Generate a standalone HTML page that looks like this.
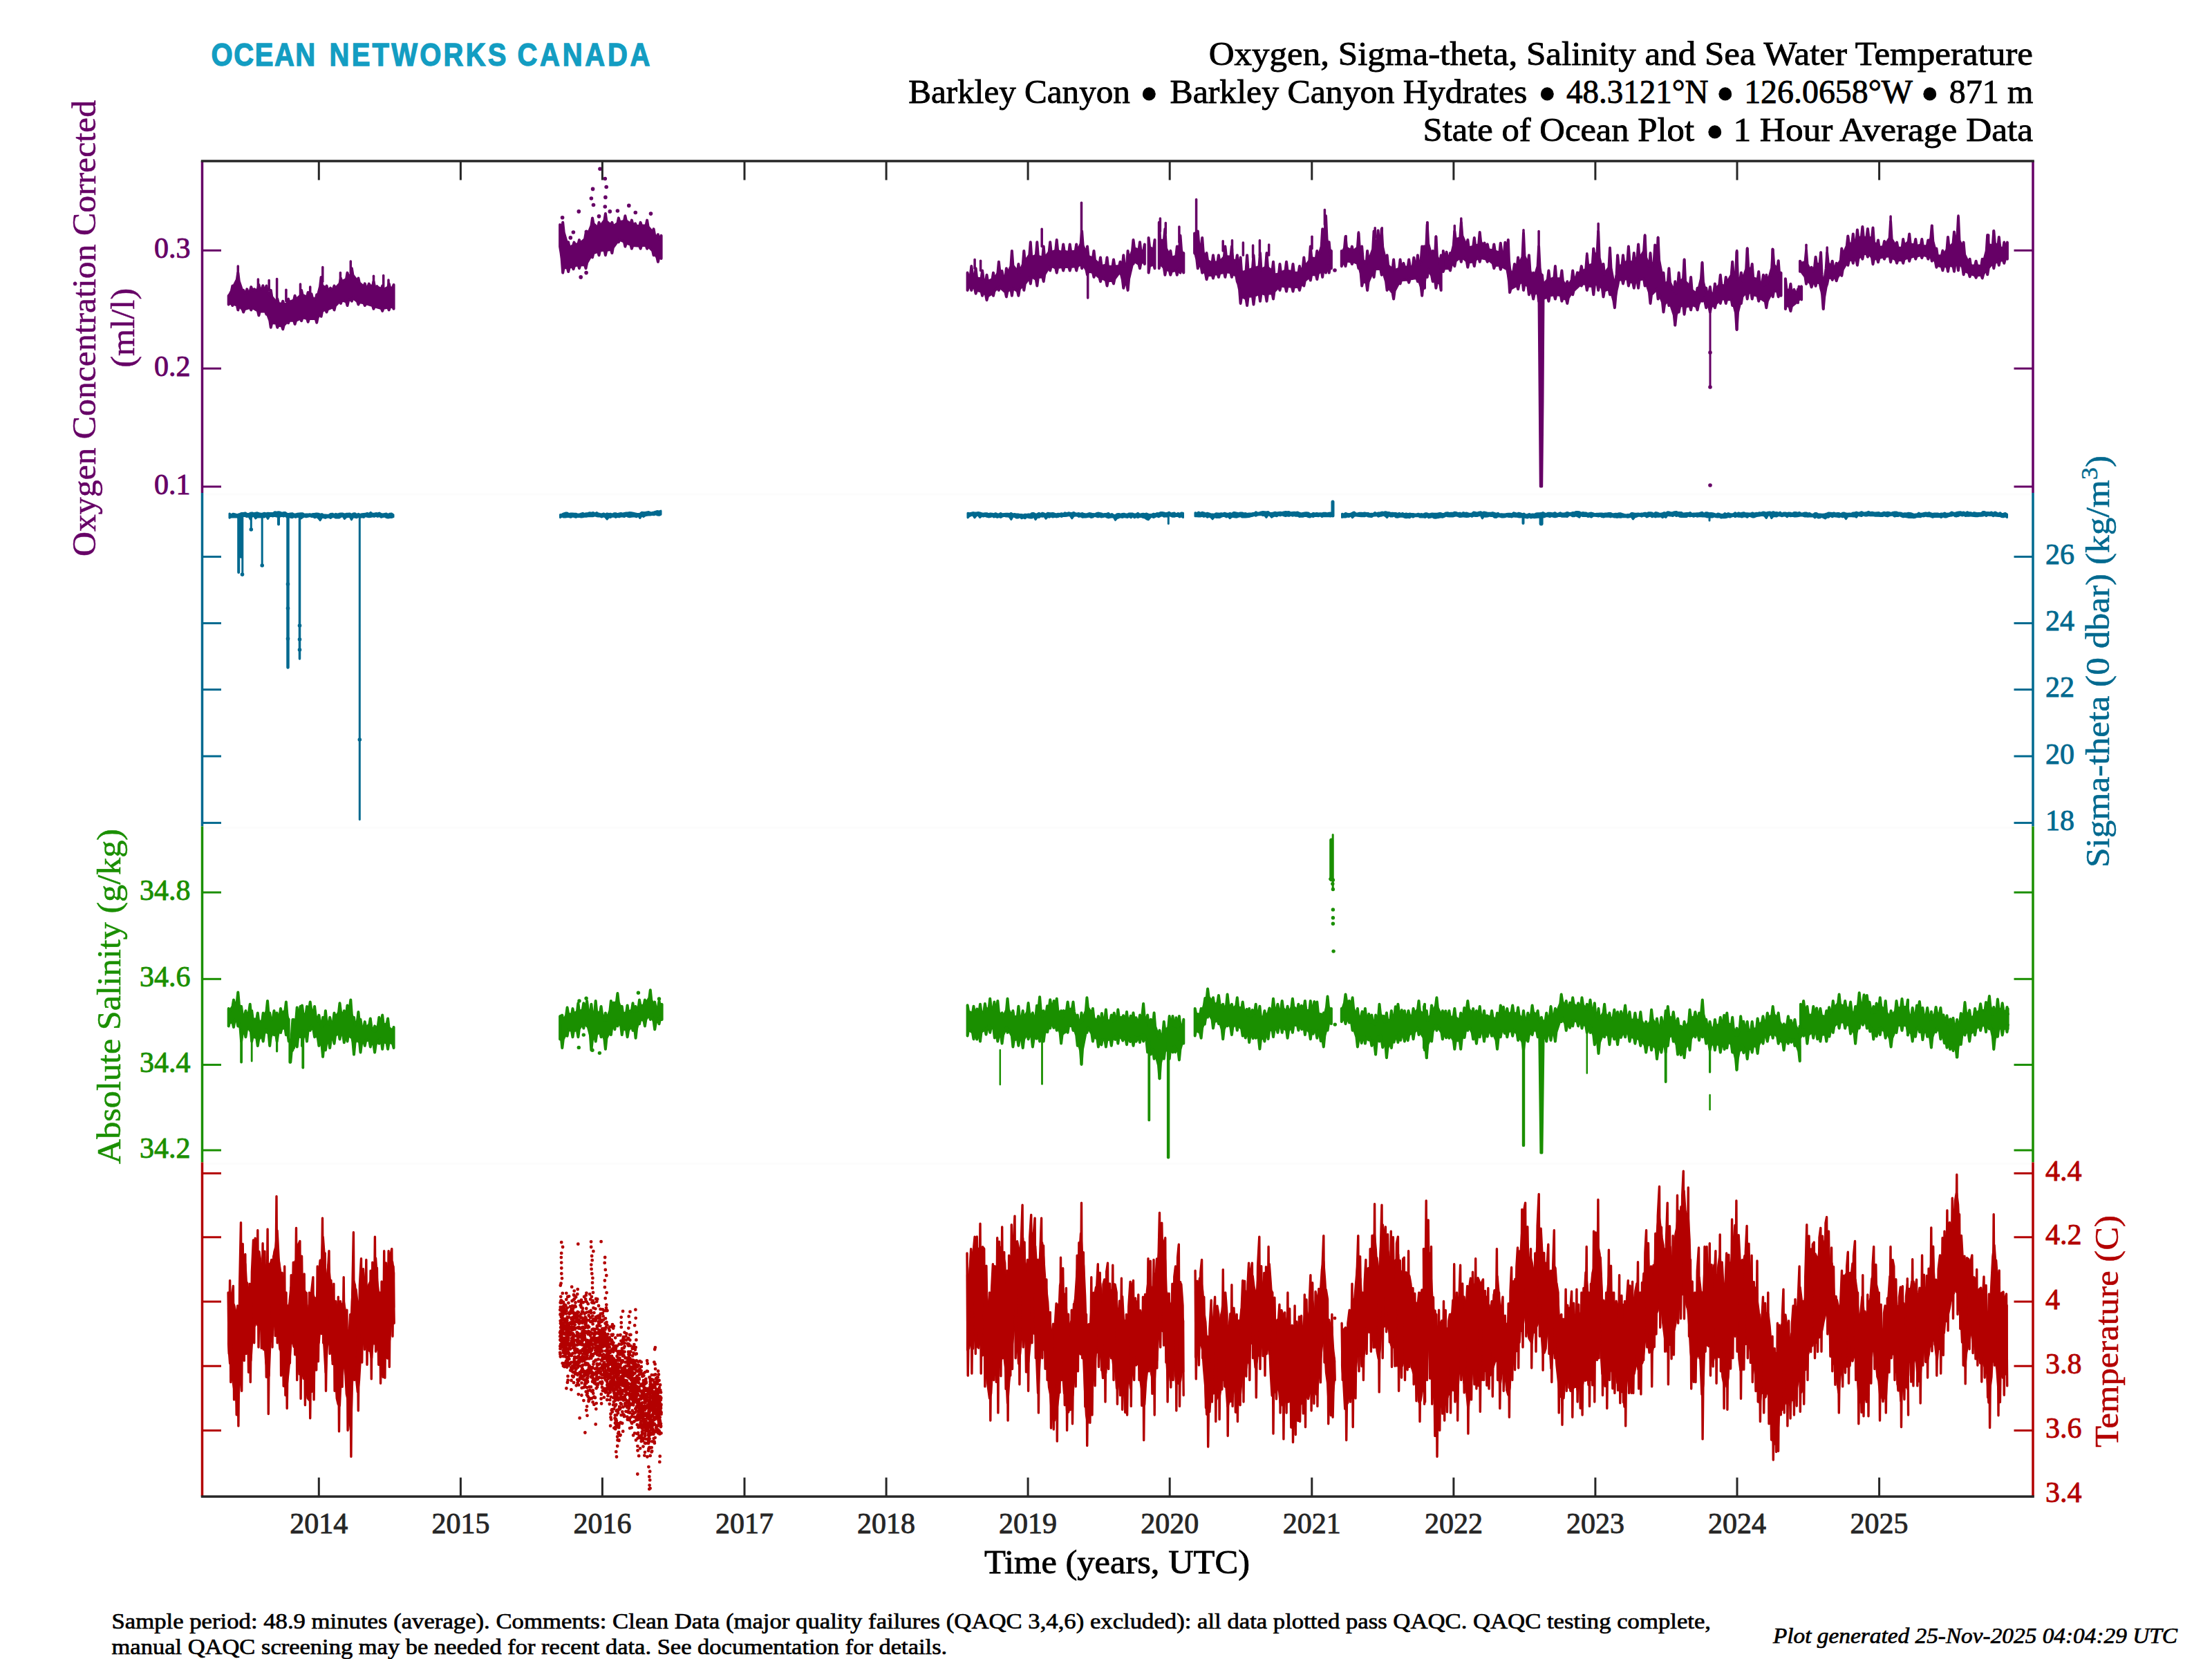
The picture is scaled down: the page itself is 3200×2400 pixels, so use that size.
<!DOCTYPE html><html><head><meta charset="utf-8"><title>State of Ocean Plot</title>
<style>html,body{margin:0;padding:0;background:#fff}svg{display:block}text{font-family:"Liberation Serif","DejaVu Serif",serif}</style></head><body>
<svg width="3200" height="2400" viewBox="0 0 3200 2400">
<rect width="3200" height="2400" fill="#fff"/>
<rect x="294" y="713.3" width="2645" height="3.2" fill="#fcfcfc"/>
<rect x="294" y="1196" width="2645" height="3.2" fill="#fcfcfc"/>
<rect x="294" y="1681.8" width="2645" height="3.2" fill="#fcfcfc"/>
<g fill="#660066" stroke="#660066" stroke-width="4" stroke-linejoin="round" stroke-linecap="round">
<polygon points="330.7,427.8 332.2,426.2 334.9,421 336.4,413.5 337.9,414.3 342.8,404.7 344.3,394.6 345.8,406.9 350.7,421.3 352.2,419.9 353.7,423.5 355.8,423.6 357.3,418.4 358.8,423 361.8,421.1 363.3,415.1 364.8,419.9 366.4,419 367.9,418.2 369.4,420.3 372.9,418.6 374.4,412 375.9,418.1 378.8,418.8 380.3,413.2 381.8,420.4 383.9,419.1 385.4,413.5 386.9,422.1 390.3,426.7 391.8,419.9 393.3,429.6 399.8,437.4 401.3,432.5 402.8,438.5 407.7,440.4 409.2,435.7 410.7,440.6 415.6,439.1 417.1,432.5 418.6,437.2 425.1,434.4 426.6,427.8 428.1,433.2 434.6,427.8 436.1,419.9 437.6,426.8 444.1,429.9 445.6,423 447.1,430.5 449,430.7 450.5,425.2 452,431.2 456.7,433 458.2,426.2 459.7,427.7 463.1,414.5 464.6,400.9 466.1,413 471,416.7 472.5,413.5 474,419.2 476.6,418.6 478.1,416.7 479.6,419.1 482,418.1 483.5,413.5 485,417.6 491.5,410.4 493,402.5 494.5,407.3 501,403.9 502.5,394.6 504,400 507.4,397.7 508.9,388.2 510.4,397.9 516.9,406.6 518.4,402.5 519.9,409.4 526.3,414.8 527.8,410.4 529.3,415.9 532.3,415 533.8,410.6 535.3,413.3 539,414.1 540.5,407.2 542,414.4 543.9,415.7 545.4,414.2 546.9,415.9 551.7,418.3 553.2,413.5 554.7,419.1 561.2,415.8 562.7,410.4 564.2,416.5 568.1,416.5 569.6,412 569.6,446.8 568.1,443.7 564.2,443.9 562.7,448.4 561.2,444.8 554.7,445.9 553.2,449.9 551.7,446 542,443.3 540.5,446.8 539,442 529.3,439.2 527.8,442 526.3,438.4 519.9,437 518.4,440.4 516.9,435.8 510.4,430.8 508.9,435.7 507.4,432.4 504,435.2 502.5,442 501,436.4 494.5,434.4 493,438.9 491.5,435.6 485,442.3 483.5,448.4 482,444.1 474,447.4 472.5,451.5 471,447.5 466.1,450.1 464.6,457.8 463.1,453.7 459.7,459.1 458.2,466.7 456.7,461.1 447.1,460.8 445.6,465.8 444.1,460.7 437.6,459.4 436.1,464.2 434.6,460.7 428.1,463.7 426.6,468.9 425.1,463.8 418.6,463.4 417.1,467.3 415.6,465.2 410.7,470.4 409.2,476.2 407.7,471.5 402.8,470 401.3,473.7 399.8,467.8 393.3,466.8 391.8,473.7 390.3,463.5 386.9,454.2 385.4,454.7 383.9,450.4 375.9,450.2 374.4,456.3 372.9,449.6 364.8,444.8 363.3,448.4 361.8,444.9 353.7,447.4 352.2,451.5 350.7,447.4 345.8,442.4 344.3,448.4 342.8,441.6 337.9,439.7 336.4,442 334.9,439.1 332.2,438.7 330.7,440.4"/>
<polygon points="810.1,324.9 811.6,330.7 812.7,331.5 814.2,321.8 815.7,336.2 820.7,353.4 822.2,350.3 823.7,357.8 829,355.4 830.5,350.6 832,353.8 836.5,352.9 838,347.1 839.5,351.9 846,346.1 847.5,337.6 849,343.1 855.5,326.6 857,315.4 858.5,323.6 865,329.6 866.5,321.8 868,327.6 874.4,319 875.9,309.1 877.4,320.2 883.9,325.8 885.4,321.8 886.9,327.5 893.4,323.1 894.9,315.4 896.4,321.3 902.9,319.9 904.4,312.3 905.9,319.5 912.4,323.8 913.9,318.6 915.4,324.6 917.6,325.9 919.1,323.4 920.6,327.1 925.1,327 926.6,321.8 928.1,326.7 934.6,326.2 936.1,318.6 937.6,328.1 944.1,336 945.6,331.3 947.1,339.8 950.4,344.1 951.9,339.2 953.4,346 955.1,345.2 956.6,340.8 956.6,374 955.1,371 953.4,372.1 951.9,378.7 950.4,372.1 947.1,367.2 945.6,369.2 944.1,362.5 937.6,356 936.1,359.7 934.6,355.3 928.1,354.8 926.6,359.7 925.1,355.8 915.4,355 913.9,359.7 912.4,353.9 905.9,351.4 904.4,356.6 902.9,349.8 896.4,346.8 894.9,350.3 893.4,349.1 886.9,358 885.4,366.1 883.9,360.8 877.4,362 875.9,369.2 874.4,361.6 868,362.6 866.5,369.2 865,363.8 858.5,366.1 857,372.4 855.5,369.1 849,380.3 847.5,388.2 846,383.1 839.5,383.5 838,388.2 836.5,383.1 831,384.6 829.5,389.3 828,385.5 823.7,386.7 822.2,393 820.7,387.2 815.7,387.1 814.2,394.6 812.7,374.5 811.6,365.9 810.1,356.6"/>
<polygon points="1399.6,394.6 1401.1,402.3 1403.8,399.1 1405.3,385.1 1406.8,395.7 1410.1,400.4 1411.6,388.2 1413.1,402.5 1419.6,403.3 1421.1,391.4 1422.6,404 1426,408.1 1427.5,397.7 1429,407.2 1435.5,404 1437,394.6 1438.5,404.6 1443.4,395.2 1444.9,378.7 1446.4,393.4 1447.9,394.2 1449.4,392 1450.9,398.9 1454.4,401.7 1455.9,388.2 1457.4,396.6 1462.4,385.4 1463.9,362.9 1465.4,384.3 1471.9,393.2 1473.4,381.9 1474.9,394.2 1479.8,382.6 1481.3,362.9 1482.8,378.9 1489.3,368.9 1490.8,350.3 1492.3,372.6 1498.8,369.4 1500.3,350.3 1501.8,370.7 1508.2,373 1509.7,356.6 1511.2,373.7 1517.7,364.6 1519.2,350.3 1520.7,365.3 1527.2,362.5 1528.7,347.1 1530.2,363 1536.7,365.2 1538.2,353.4 1539.7,363.5 1546.2,365.4 1547.7,353.4 1549.2,364.2 1555.7,363.5 1557.2,353.4 1558.7,364.4 1563.6,352.5 1565.1,334.4 1566.6,355 1571.5,367.5 1573,356.6 1574.5,370.9 1581,373.5 1582.5,362.9 1584,376.5 1590.5,382.5 1592,372.4 1593.5,385.1 1600,383.5 1601.5,372.4 1603,386.1 1609.5,385.6 1611,375.6 1612.5,385.5 1619,384.9 1620.5,378.7 1622,384.1 1623.8,384.6 1625.3,369.2 1626.8,385.2 1630.1,384.6 1631.6,362.9 1633.1,376.5 1638,363.1 1639.5,347.1 1641,359 1647.5,361.9 1649,350.3 1650.5,363.3 1654.4,362.4 1655.9,353.4 1655.9,381.9 1654.4,378.4 1650.5,380.4 1649,388.2 1647.5,382.1 1641,377.9 1639.5,381.9 1638,382.3 1633.1,403.2 1631.6,419.9 1630.1,410.8 1626.8,410.7 1625.3,416.7 1623.8,404.3 1622,397.1 1620.5,394.6 1619,394.6 1612.5,403.3 1611,410.4 1609.5,406.1 1603,405.7 1601.5,413.5 1600,405.6 1593.5,401.7 1592,407.2 1590.5,401.6 1584,396 1582.5,400.9 1581,394.1 1574.5,392.3 1573,397.7 1571.5,390.3 1566.6,382.2 1565.1,388.2 1563.6,380.7 1558.7,385.5 1557.2,391.4 1555.7,385 1549.2,385.9 1547.7,391.4 1546.2,386.1 1539.7,385.8 1538.2,391.4 1536.7,385.7 1530.2,387.1 1528.7,394.6 1527.2,387.7 1520.7,384.5 1519.2,391.4 1517.7,386.1 1511.2,397.1 1509.7,407.2 1508.2,400.3 1501.8,401.4 1500.3,413.5 1498.8,404.2 1492.3,399.8 1490.8,410.4 1489.3,401.3 1482.8,410.6 1481.3,419.9 1479.8,412.3 1474.9,418.2 1473.4,427.8 1471.9,421.1 1465.4,416.8 1463.9,427.8 1462.4,417.7 1457.4,421.5 1455.9,429.4 1454.4,422.6 1446.4,415.3 1444.9,419.9 1443.4,416.1 1438.5,421 1437,427.8 1435.5,424.2 1429,428.2 1427.5,434.1 1426,426.2 1422.6,422.7 1421.1,427.8 1419.6,421.5 1413.1,419.9 1411.6,424.6 1410.1,417 1406.8,414.8 1405.3,419.9 1403.8,414.5 1401.1,414.8 1399.6,419.9"/>
<polygon points="1661.6,343.9 1663.1,357.7 1669,361.2 1670.5,347.1 1670.5,388.2 1669,382.3 1663.1,384.6 1661.6,394.6"/>
<polygon points="1676.8,321.8 1678.3,347.6 1683.9,347.7 1685.4,331.3 1686.9,359.3 1691.8,369.8 1693.3,362.9 1694.8,372.8 1701.3,370.7 1702.8,356.6 1704.3,368.3 1706,360.4 1707.5,340.8 1709,361.5 1710.8,369.9 1712.3,366.1 1712.3,394.6 1710.8,389.2 1709,388.2 1707.5,394.6 1706,387.8 1704.3,390.2 1702.8,397.7 1701.3,390.9 1694.8,392.5 1693.3,397.7 1691.8,391.8 1686.9,389.3 1685.4,397.7 1683.9,387.4 1678.3,380.8 1676.8,388.2"/>
<polygon points="1728.1,337.6 1729.6,346.3 1731.3,351.4 1732.8,334.4 1734.3,354.1 1737.7,356.4 1739.2,343.9 1740.7,364.4 1744,376.1 1745.5,366.1 1747,376.9 1753.5,380.9 1755,369.2 1756.5,379.6 1761.4,379.5 1762.9,369.2 1764.4,379.4 1770.9,371.7 1772.4,356.6 1773.9,370.9 1780.4,371.8 1781.9,356.6 1783.4,375.3 1788.3,378.7 1789.8,369.2 1791.3,387.2 1793.1,391.3 1794.6,372.4 1796.1,394.7 1802.6,392 1804.1,369.2 1805.6,391.3 1812,388.6 1813.5,369.2 1815,388.5 1821.5,385.6 1823,366.1 1824.5,390.4 1831,386.5 1832.5,366.1 1834,387.1 1840.5,392.1 1842,378.7 1843.5,397.8 1850,396.2 1851.5,381.9 1853,394.6 1859.5,391.7 1861,378.7 1862.5,391.6 1869,393.3 1870.5,381.9 1872,394.7 1878.5,394.6 1880,385.1 1881.5,393.5 1884.8,387.1 1886.3,372.4 1887.8,385.8 1894.3,377.1 1895.8,356.6 1897.3,373.2 1903.8,374.3 1905.3,362.9 1906.8,374.4 1911.7,356.5 1913.2,331.3 1914.7,347.7 1916.5,339 1918,312.3 1919.5,345.9 1921.2,356.2 1922.7,350.3 1924.2,367.6 1924.4,366.8 1925.9,362.9 1925.9,388.2 1924.4,385.9 1924.2,385.6 1922.7,394.6 1921.2,384.8 1919.5,385.5 1918,394.6 1916.5,384.4 1914.7,386.7 1913.2,400.9 1911.7,391 1906.8,395.9 1905.3,404.1 1903.8,397.5 1897.3,397 1895.8,405.6 1894.3,400.5 1887.8,406 1886.3,413.5 1884.8,409.7 1881.5,413.7 1880,419.9 1878.5,415.1 1872,414.7 1870.5,421.5 1869,414.8 1862.5,413.9 1861,421.5 1859.5,414.5 1853,413.4 1851.5,419.9 1850,414.9 1843.5,421.6 1842,432.5 1840.5,424.2 1834,424.6 1832.5,435.7 1831,426.2 1824.5,423.6 1823,435.7 1821.5,424.6 1815,428.1 1813.5,440.4 1812,428 1805.6,429.1 1804.1,442 1802.6,432.2 1796.1,428.3 1794.6,438.9 1793.1,419.2 1791.3,410.8 1789.8,407.2 1788.3,398.8 1783.4,395.8 1781.9,400.9 1780.4,394.2 1773.9,393 1772.4,400.9 1770.9,393.8 1764.4,395.3 1762.9,400.9 1761.4,395.8 1756.5,397 1755,402.5 1753.5,397.3 1747,398.6 1745.5,404.1 1744,395.9 1740.7,390.6 1739.2,394.6 1737.7,386.4 1734.3,381.8 1732.8,388.2 1731.3,375.1 1729.6,367.9 1728.1,366.1"/>
<polygon points="1940.8,362.9 1942.3,365 1945,358.8 1946.5,342.3 1948,358.5 1954.4,362.4 1955.9,356.6 1957.4,363.8 1963.9,358.2 1965.4,337.6 1966.9,360.5 1968.7,367.5 1970.2,356.6 1971.7,376 1976.6,381.2 1978.1,362.9 1979.6,379 1986.1,360.7 1987.6,334.4 1989.1,356.5 1992.1,351.8 1993.6,333.5 1995.1,351.8 1997.2,354.9 1998.7,331.3 2000.2,357.4 2005.1,379.7 2006.6,369.2 2008.1,383.9 2014.6,389.7 2016.1,375.6 2017.6,391.3 2024.1,388.7 2025.6,375.6 2027.1,387.5 2029,385.8 2030.5,380.9 2032,386.6 2036.7,386.2 2038.2,375.6 2039.7,385.6 2043.8,385.8 2045.3,372.7 2046.8,381.7 2049.4,384.1 2050.9,369.2 2052.4,383.3 2055.7,376.4 2057.2,356.6 2058.7,377.8 2059.5,379.7 2061,356.6 2061,416.7 2059.5,409.8 2058.7,412 2057.2,427.8 2055.7,414.8 2052.4,404.1 2050.9,407.2 2049.4,402 2039.7,403.6 2038.2,408.8 2036.7,404.4 2027.1,405.2 2025.6,410.4 2024.1,408 2017.6,420.7 2016.1,432.5 2014.6,423.4 2008.1,415.2 2006.6,419.9 2005.1,407.3 2000.2,390.6 1998.7,397.7 1997.2,388.8 1989.1,389.3 1987.6,400.9 1986.1,392.3 1979.6,407.7 1978.1,419.9 1976.6,408.8 1971.7,407 1970.2,413.5 1968.7,395.6 1966.9,387.9 1965.4,388.2 1963.9,380.9 1957.4,378.2 1955.9,381.9 1954.4,378.5 1948,377.3 1946.5,385.1 1945,379.8 1942.3,381.1 1940.8,385.1"/>
<polygon points="2060,356.6 2061.5,369.1 2063.2,361.1 2064.7,324.9 2066.2,352.9 2071.2,371.2 2072.7,362.9 2074.2,373.1 2075.9,373.4 2077.4,342.3 2078.9,371 2083.2,380.7 2084.7,369.2 2084.7,419.9 2083.2,410.5 2078.9,407.4 2077.4,416.7 2075.9,404.5 2074.2,400.5 2072.7,407.2 2071.2,398.8 2066.2,389.9 2064.7,400.9 2063.2,396.4 2061.5,403.2 2060,416.7"/>
<polygon points="2087.8,362.9 2089.3,373.6 2091.1,373.9 2092.6,364.6 2094.1,373.4 2096.5,374.7 2098,366.1 2099.5,369.2 2102.8,355.2 2104.3,334.4 2105.8,346.4 2112.3,344.5 2113.8,321.8 2115.3,340.9 2121.8,356.6 2123.3,347.1 2124.8,358.7 2131.3,356.6 2132.8,343.9 2134.3,356.9 2139.2,353.5 2140.7,336 2142.2,350.2 2146,354.6 2147.5,351.5 2149,358.8 2150.3,359.6 2151.8,353.4 2153.3,361 2159.8,362.8 2161.3,353.4 2162.8,363.3 2169.3,365.9 2170.8,351.8 2172.3,363.9 2175.9,365.8 2177.4,350.8 2178.9,366.3 2180.3,363.2 2181.8,347.1 2183.3,386.1 2182.6,373.4 2184.1,388.2 2185.6,396.2 2189.5,392 2191,381.9 2192.5,389.5 2194.6,387.5 2196.1,372.4 2197.6,383.2 2202.5,371.8 2204,337.6 2205.5,370.8 2210.4,382.5 2211.9,369.2 2213.4,391.6 2216.7,402.3 2218.2,394.6 2219.7,401.4 2224.6,385.4 2226.1,356.6 2227.6,387.8 2229.4,400.5 2230.9,397.7 2232.4,412.4 2238.9,404.6 2240.4,391.4 2241.9,404.8 2248.4,401.9 2249.9,385.1 2251.4,403.1 2257.9,403.3 2259.4,391.4 2260.9,406.8 2265.8,414.2 2267.3,407.2 2268.8,414.2 2273.7,405.2 2275.2,391.4 2276.7,403.4 2280.4,400.5 2281.9,394.4 2283.4,395.4 2286.3,393.6 2287.8,385.1 2289.3,393.4 2294.3,389.3 2295.8,369.2 2297.3,384.7 2303.8,382.5 2305.3,359.7 2306.8,372.9 2310.7,365 2312.2,334.4 2313.7,373 2318,392 2319.5,381.9 2321,396.7 2327.5,387.1 2329,359.7 2330.5,387.6 2334.4,409.2 2335.9,407.2 2337.4,404.7 2338.6,396.7 2340.1,369.2 2341.6,384.2 2346.5,384.8 2348,369.2 2349.5,382.2 2354.4,377.3 2355.9,356.6 2357.4,378 2362.3,380.7 2363.8,366.1 2365.3,380.7 2368.6,372.6 2370.1,353.4 2371.6,374.4 2378.1,363.5 2379.6,340.8 2381.1,372.5 2386,385.9 2387.5,366.1 2389,385.5 2392.7,379.2 2394.2,354.4 2395.7,378.2 2397.1,376.7 2398.6,343.9 2400.1,376.4 2405,402.1 2406.5,394.6 2408,411.7 2412.9,407.5 2414.4,388.2 2415.9,408.6 2421.8,421.9 2423.3,407.2 2424.8,424.2 2427.2,413.7 2428.7,394.6 2430.2,409.2 2435.1,402.9 2436.6,375.6 2438.1,407.3 2444.6,414.6 2446.1,400.9 2447.6,419.8 2454.1,425.1 2455.6,416.7 2457.1,419.6 2461,402.9 2462.5,380.3 2464,408 2466.7,419.4 2468.2,416.7 2469.7,425.4 2472.4,424.7 2473.9,415.1 2475.4,425.7 2479.4,423.4 2480.9,410.4 2482.4,419.2 2487.3,411.9 2488.8,397.7 2490.3,412.1 2495.2,414.6 2496.7,400.9 2498.2,409.6 2504.7,398.1 2506.2,378.7 2507.7,398.1 2511,399.4 2512.5,364.5 2514,404.6 2517.4,404.8 2518.9,394.6 2520.4,406.2 2526.2,389.4 2527.7,359.7 2529.2,386.4 2533.2,393.1 2534.7,381.9 2536.2,402.2 2542.7,404.4 2544.2,393 2545.7,409.2 2549.4,408.3 2550.9,397.8 2552.4,412.8 2553.8,411 2555.3,397.7 2556.8,410.9 2563.2,387.9 2564.7,361.3 2566.2,382.9 2571.2,390.2 2572.7,377.2 2574.2,398 2575,401.6 2576.5,394.6 2576.5,427.8 2575,421.9 2574.2,420.8 2572.7,429.4 2571.2,421.8 2566.2,420.1 2564.7,429.4 2563.2,422.7 2556.8,435.6 2555.3,445.2 2553.8,436 2545.7,430.5 2544.2,435.7 2542.7,428.2 2536.2,425.9 2534.7,432.5 2533.2,422.8 2529.2,423.4 2527.7,432.5 2526.2,422.4 2520.4,429.2 2518.9,438.9 2517.4,437.6 2514,451.9 2512.5,476.8 2511,452.2 2507.7,438.9 2506.2,442 2504.7,433.2 2498.2,432.9 2496.7,438.9 2495.2,432.4 2490.3,432.5 2488.8,438.9 2487.3,434.7 2482.4,439.2 2480.9,445.2 2479.4,441.5 2475.4,443.5 2473.9,451.5 2472.4,443.8 2469.7,441.3 2468.2,445.2 2466.7,437.5 2464,430.5 2462.5,435.7 2461,431.9 2457.1,440.8 2455.6,448.4 2454.1,443.5 2447.6,440.7 2446.1,448.4 2444.6,442.1 2438.1,443.9 2436.6,454.7 2435.1,441.2 2430.2,443.1 2428.7,451.5 2427.2,448.2 2424.8,456.2 2423.3,470.5 2421.8,455.7 2415.9,437.4 2414.4,442 2412.9,434.4 2408,440.2 2406.5,451.5 2405,437 2400.1,424.7 2398.6,432.5 2397.1,417.8 2389,426.3 2387.5,438.9 2386,423 2381.1,408 2379.6,413.5 2378.1,403.4 2371.6,404.5 2370.1,416.7 2368.6,405.8 2365.3,408.4 2363.8,416.7 2362.3,408.8 2357.4,406.9 2355.9,413.5 2354.4,403.2 2349.5,403.8 2348,410.4 2346.5,403.5 2341.6,405.5 2340.1,413.5 2338.6,419.7 2337.4,427.9 2335.9,445.2 2334.4,434.7 2330.5,420.2 2329,426.2 2327.5,417.6 2321,420.7 2319.5,429.4 2318,417.4 2313.7,410.7 2312.2,419.9 2310.7,409.3 2306.8,412.3 2305.3,426.2 2303.8,414.3 2297.3,413.3 2295.8,419.9 2294.3,410.3 2289.3,410.4 2287.8,413.5 2286.3,411.2 2276.7,420.3 2275.2,426.2 2273.7,422.8 2268.8,430.9 2267.3,438.9 2265.8,433.1 2260.9,430.9 2259.4,435.7 2257.9,427.2 2251.4,426.1 2249.9,432.5 2248.4,426.5 2241.9,427.2 2240.4,435.7 2238.9,429.7 2232.4,431.9 2230.9,438.9 2229.4,430.9 2227.6,426.5 2226.1,435.7 2224.6,422.7 2219.7,425.2 2218.2,432.5 2216.7,424.7 2213.4,420.4 2211.9,426.2 2210.4,413.8 2205.5,410.6 2204,419.9 2202.5,405.9 2197.6,410.8 2196.1,418.3 2194.6,412.5 2185.6,417.8 2184.1,423 2182.6,399.6 2183.3,409 2181.8,397.7 2180.3,389.4 2172.3,385 2170.8,389.8 2169.3,383.4 2162.8,383.9 2161.3,388.2 2159.8,381.1 2153.3,375.4 2151.8,378.7 2150.3,374.9 2142.2,372.8 2140.7,378.7 2139.2,372.3 2134.3,376.2 2132.8,385.1 2131.3,378.4 2124.8,379.3 2123.3,386.6 2121.8,377.9 2115.3,371.9 2113.8,378.7 2112.3,372.4 2105.8,377.3 2104.3,385.1 2102.8,380.5 2099.5,384.2 2098,391.4 2096.5,388 2089.3,388.3 2087.8,393"/>
<polygon points="2582.9,403.3 2584.4,418.6 2588.9,421 2590.4,410.8 2591.9,424.9 2593.9,425.7 2595.4,418.8 2596.9,423 2599.5,424.4 2601,418.4 2601,438 2599.5,436.7 2591.9,443 2590.4,450 2588.9,444.2 2584.4,439.9 2582.9,447"/>
<polygon points="2602.5,414.4 2604,420.7 2604.6,421.5 2606.1,414.4 2606.1,433.4 2604.6,430.7 2604,430.5 2602.5,433.4"/>
<polygon points="2604,377.7 2605.5,380.9 2611.5,379.3 2613,362.6 2614.5,382.3 2619.1,391.3 2620.6,386.7 2622.1,392.8 2625.1,386.3 2626.6,371.7 2628.1,383.1 2632.6,381.3 2634.1,365.6 2635.6,397.7 2636.2,404.1 2637.7,404.8 2639.2,406.3 2641.7,388.2 2643.2,365.6 2644.7,380.6 2649.2,385.8 2650.7,377.7 2652.2,386.1 2655.2,387.7 2656.7,380.7 2658.2,384.6 2662.8,376.8 2664.3,359.6 2665.8,369.6 2671.8,355.8 2673.3,341.5 2674.8,352.5 2679.3,352.2 2680.8,338.5 2682.3,351.6 2685.4,350.5 2686.9,332.5 2688.4,345.4 2692.9,342.3 2694.4,328 2695.9,344.2 2700.4,343.4 2701.9,331 2703.4,343.4 2708,344.8 2709.5,329.5 2711,351.2 2715.5,354.7 2717,347.5 2718.5,357.9 2724.5,356.9 2726,349 2727.5,354 2733.6,344.5 2735.1,320.4 2736.6,345.9 2742.6,356.2 2744.1,350.6 2745.6,358.7 2751.7,358.6 2753.2,346 2754.7,355 2760.7,349.9 2762.2,338.5 2763.7,353.5 2769.7,354.3 2771.2,346 2772.7,356.2 2778.8,354.5 2780.3,346 2781.8,356.2 2787.8,355.9 2789.3,347.5 2790.8,351.3 2793.3,344.1 2794.8,326.4 2796.3,348.9 2799.9,363.1 2801.4,359.6 2802.9,370.2 2808.9,369.9 2810.4,362.6 2811.9,369.7 2816.5,360.9 2818,343 2819.5,358.2 2825.5,352.5 2827,335.5 2828.5,348.7 2831.5,343 2833,314.4 2834.5,347.9 2839.1,357.9 2840.6,350.6 2842.1,368.4 2848.1,381.1 2849.6,374.7 2851.1,384.7 2857.1,384.2 2858.6,377.7 2860.1,384.1 2866.2,385.3 2867.7,374.7 2869.2,380.4 2873.7,363.3 2875.2,340 2876.7,354.3 2882.8,355.3 2884.3,334 2885.8,351.7 2890.3,357.2 2891.8,343 2893.3,357.5 2897.8,360.6 2899.3,350.6 2900.8,358.5 2902.4,359.8 2903.9,350.6 2903.9,374.7 2902.4,372.6 2900.8,374.7 2899.3,380.7 2897.8,376.8 2893.3,376.2 2891.8,383.7 2890.3,377.8 2885.8,380.3 2884.3,388.2 2882.8,380.2 2876.7,387.6 2875.2,397.3 2873.7,389.1 2869.2,396.8 2867.7,402.4 2866.2,397.7 2860.1,398.2 2858.6,401.8 2857.1,398.3 2851.1,396 2849.6,400.3 2848.1,394.8 2842.1,391.8 2840.6,397.3 2839.1,386.6 2834.5,379.6 2833,391.2 2831.5,380.4 2828.5,381 2827,392.7 2825.5,385 2819.5,383.9 2818,392.7 2816.5,384.8 2811.9,385.5 2810.4,391.2 2808.9,385.5 2802.9,383.8 2801.4,386.7 2799.9,378.8 2796.3,372.9 2794.8,377.7 2793.3,369.9 2790.8,371.1 2789.3,374.7 2787.8,370.2 2781.8,368.8 2780.3,373.2 2778.8,368.8 2772.7,370.7 2771.2,374.7 2769.7,370.2 2763.7,372.3 2762.2,377.7 2760.7,372.2 2754.7,374.8 2753.2,380.7 2751.7,376.2 2745.6,376 2744.1,380.7 2742.6,375.7 2736.6,372.2 2735.1,379.2 2733.6,370.2 2727.5,371.1 2726,374.7 2724.5,371.3 2718.5,373.2 2717,379.2 2715.5,373.7 2711,374.7 2709.5,382.2 2708,372.3 2703.4,366.7 2701.9,371.7 2700.4,366.8 2695.9,367.1 2694.4,374.7 2692.9,369.2 2688.4,373.6 2686.9,383.7 2685.4,375.5 2682.3,374.3 2680.8,380.7 2679.3,374.9 2674.8,377 2673.3,383.7 2671.8,379.4 2665.8,390 2664.3,398.8 2662.8,394.4 2658.2,401 2656.7,406.3 2655.2,401.4 2652.2,401.7 2650.7,404.8 2649.2,400.8 2644.7,403 2643.2,410.8 2641.7,415 2639.2,429.3 2637.7,447 2636.2,426.8 2635.6,422.6 2634.1,416.9 2632.6,409.6 2628.1,407.9 2626.6,413.8 2625.1,408.1 2622.1,410.2 2620.6,415.4 2619.1,409.9 2614.5,405.6 2613,410.8 2611.5,400.4 2605.5,392.1 2604,392.7"/>
<path d="M344.3 407.2V385.1" stroke-width="3.5"/>
<path d="M373.4 419.9V404.1" stroke-width="3.5"/>
<path d="M389.2 419.9V405.6" stroke-width="3.5"/>
<path d="M400.6 432.5V403.4" stroke-width="3.5"/>
<path d="M413.9 435.7V419.2" stroke-width="3.5"/>
<path d="M434.5 426.2V411" stroke-width="3.5"/>
<path d="M448.7 426.2V415.1" stroke-width="3.5"/>
<path d="M466.8 407.2V386.6" stroke-width="3.5"/>
<path d="M492.4 407.2V394.6" stroke-width="3.5"/>
<path d="M507.3 394.6V378.1" stroke-width="3.5"/>
<path d="M540.5 413.5V399.3" stroke-width="3.5"/>
<path d="M554.7 416.7V398.4" stroke-width="3.5"/>
<path d="M562 416.7V405" stroke-width="3.5"/>
<path d="M1564.5 356.6V293.3" stroke-width="3.5"/>
<path d="M1573.7 394.6V430.9" stroke-width="3.5"/>
<path d="M1507.2 356.6V331.3" stroke-width="3.5"/>
<path d="M1410.1 388.2V375.6" stroke-width="3.5"/>
<path d="M1418.6 391.4V377.2" stroke-width="3.5"/>
<path d="M1678.4 334.4V316.1" stroke-width="3.5"/>
<path d="M1686.3 337.6V322.4" stroke-width="3.5"/>
<path d="M1705.9 350.3V328.1" stroke-width="3.5"/>
<path d="M1730.6 340.8V288.5" stroke-width="3.5"/>
<path d="M1769.2 362.9V348.7" stroke-width="3.5"/>
<path d="M1782.5 362.9V347.7" stroke-width="3.5"/>
<path d="M1798.4 369.2V350.9" stroke-width="3.5"/>
<path d="M1812.6 372.4V355" stroke-width="3.5"/>
<path d="M1822.4 369.2V347.7" stroke-width="3.5"/>
<path d="M1835.7 369.2V354.1" stroke-width="3.5"/>
<path d="M1898 359.7V342.3" stroke-width="3.5"/>
<path d="M1916.4 324.9V303.4" stroke-width="3.5"/>
<path d="M1947.1 356.6V341.4" stroke-width="3.5"/>
<path d="M1965.4 350.3V336" stroke-width="3.5"/>
<path d="M1989.2 343.9V329.7" stroke-width="3.5"/>
<path d="M1999.3 343.9V329.7" stroke-width="3.5"/>
<path d="M2065.1 369.2V321.8" stroke-width="3.5"/>
<path d="M2064.7 340.8V321.8" stroke-width="3.5"/>
<path d="M2077.4 356.6V342.3" stroke-width="3.5"/>
<path d="M2104.3 350.3V326.5" stroke-width="3.5"/>
<path d="M2113.8 334.4V316.1" stroke-width="3.5"/>
<path d="M2204 356.6V332.8" stroke-width="3.5"/>
<path d="M2226.1 388.2V334.4" stroke-width="3.5"/>
<path d="M2312.2 356.6V323.4" stroke-width="3.5"/>
<path d="M2295.8 381.9V366.7" stroke-width="3.5"/>
<path d="M2305.3 372.4V359.7" stroke-width="3.5"/>
<path d="M2329 375.6V358.2" stroke-width="3.5"/>
<path d="M2379.6 356.6V340.1" stroke-width="3.5"/>
<path d="M2398.6 356.6V343.3" stroke-width="3.5"/>
<path d="M2436.6 388.2V375.6" stroke-width="3.5"/>
<path d="M2462.5 400.9V379.4" stroke-width="3.5"/>
<path d="M2512.5 381.9V363.5" stroke-width="3.5"/>
<path d="M2527.7 372.4V359.1" stroke-width="3.5"/>
<path d="M2564.7 375.6V360.4" stroke-width="3.5"/>
<path d="M2423.3 451.5V470.5" stroke-width="3.5"/>
<path d="M2512.5 451.5V476.8" stroke-width="3.5"/>
<path d="M2512.7 386.7V362.6" stroke-width="3.5"/>
<path d="M2527.7 380.7V359.6" stroke-width="3.5"/>
<path d="M2564.2 386.7V360.2" stroke-width="3.5"/>
<path d="M2613 374.7V354.2" stroke-width="3.5"/>
<path d="M2634.1 380.7V365" stroke-width="3.5"/>
<path d="M2643.2 371.7V358.1" stroke-width="3.5"/>
<path d="M2735.1 332.5V312.9" stroke-width="3.5"/>
<path d="M2794.8 344.5V326.4" stroke-width="3.5"/>
<path d="M2833 332.5V312" stroke-width="3.5"/>
<path d="M2884.3 347.5V334" stroke-width="3.5"/>
<path d="M2876.7 356.6V340" stroke-width="3.5"/>
<path d="M2512.7 441V477.1" stroke-width="3.5"/>
<path d="M2637.7 422.9V446.4" stroke-width="3.5"/>
<polygon points="2226,430 2233,430 2232,580 2230.7,704 2228.3,704" stroke-width="3"/>
<path d="M2474 440V560" stroke-width="3"/>
<circle cx="868" cy="244.2" r="2.8" stroke="none"/>
<circle cx="875.3" cy="258.5" r="2.8" stroke="none"/>
<circle cx="857.6" cy="273.4" r="2.8" stroke="none"/>
<circle cx="877.2" cy="270.5" r="2.8" stroke="none"/>
<circle cx="855.4" cy="287" r="2.8" stroke="none"/>
<circle cx="875.9" cy="285.4" r="2.8" stroke="none"/>
<circle cx="858.5" cy="296.5" r="2.8" stroke="none"/>
<circle cx="875.3" cy="299" r="2.8" stroke="none"/>
<circle cx="837.3" cy="305.9" r="2.8" stroke="none"/>
<circle cx="909.8" cy="297.4" r="2.8" stroke="none"/>
<circle cx="919.3" cy="307.5" r="2.8" stroke="none"/>
<circle cx="941.5" cy="309.1" r="2.8" stroke="none"/>
<circle cx="893.4" cy="305" r="2.8" stroke="none"/>
<circle cx="813.6" cy="314.8" r="2.8" stroke="none"/>
<circle cx="829.4" cy="336" r="2.8" stroke="none"/>
<circle cx="848.4" cy="335.4" r="2.8" stroke="none"/>
<circle cx="840.2" cy="400.9" r="2.8" stroke="none"/>
<circle cx="848.1" cy="394.6" r="2.8" stroke="none"/>
<circle cx="866.5" cy="312.9" r="2.8" stroke="none"/>
<circle cx="882.3" cy="305.9" r="2.8" stroke="none"/>
<circle cx="847.5" cy="381.9" r="2.8" stroke="none"/>
<circle cx="825.3" cy="343.9" r="2.8" stroke="none"/>
<circle cx="2474" cy="702" r="2.8" stroke="none"/>
<circle cx="1931" cy="391" r="2.8" stroke="none"/>
<circle cx="2474" cy="560" r="2.8" stroke="none"/>
<circle cx="2474" cy="510" r="2.8" stroke="none"/>
</g>
<g fill="#00698f" stroke="#00698f" stroke-width="3" stroke-linejoin="round" stroke-linecap="round">
<polygon points="332,743 334.5,745 337,743.2 339.6,743.8 342.1,744.4 344.6,744.2 347.1,743.4 349.6,742.4 352.2,742.4 354.7,741.9 357.2,743.3 359.7,743.6 362.3,742.2 364.8,741.9 367.3,742.8 369.8,742.3 372.3,741.8 374.9,742.7 377.4,743.2 379.9,742.9 382.4,742.2 384.9,743 387.5,742.3 390,742.6 392.5,742.4 395,742.5 397.6,740.8 400.1,741.2 402.6,740.8 405.1,741.1 407.6,742.1 410.2,741.6 412.7,741.5 415.2,743.2 417.7,743.5 420.2,743.1 422.8,742.7 425.3,744 427.8,743.9 430.3,743.3 432.9,742.9 435.4,742.7 437.9,742.7 440.4,744.2 442.9,744 445.5,744.1 448,743.6 450.5,744.1 453,743.4 455.5,743.3 458.1,743.1 460.6,743.2 463.1,744.1 465.6,743.6 468.1,745.1 470.7,744.9 473.2,745.3 475.7,745.3 478.2,743.5 480.8,743.2 483.3,744.3 485.8,743.3 488.3,744.2 490.8,743.3 493.4,742.9 495.9,743 498.4,744.2 500.9,743.3 503.4,743.2 506,743 508.5,744.4 511,743.1 513.5,742.7 516.1,744.4 518.6,743.3 521.1,744.5 523.6,743.7 526.1,743.4 528.7,743.3 531.2,742.4 533.7,743.4 536.2,741.4 538.7,743.3 541.3,743.3 543.8,742.6 546.3,743 548.8,742.1 551.4,743.6 553.9,743.9 556.4,743.4 558.9,742.9 561.4,744.5 564,743.2 566.5,743.1 569,744.8 569,747.7 566.5,748.6 564,748.6 561.4,748.9 558.9,748.5 556.4,747 553.9,747.5 551.4,748.2 548.8,746.5 546.3,747.4 543.8,746.3 541.3,747.4 538.7,746.8 536.2,747.5 533.7,747.8 531.2,747.3 528.7,746.6 526.1,748.4 523.6,747.7 521.1,748.4 518.6,747.3 516.1,748.8 513.5,748.2 511,747.6 508.5,751.8 506,747.2 503.4,747.5 500.9,748 498.4,750.5 495.9,746.7 493.4,747.3 490.8,748.9 488.3,748.7 485.8,749.1 483.3,747.7 480.8,747.8 478.2,749.4 475.7,748 473.2,748.2 470.7,749.4 468.1,748.5 465.6,748.5 463.1,752.6 460.6,749.5 458.1,747.5 455.5,748.8 453,747.5 450.5,747.4 448,746.6 445.5,747.3 442.9,747.9 440.4,747.1 437.9,748.2 435.4,749.9 432.9,747.5 430.3,747.2 427.8,748.4 425.3,747.4 422.8,748.7 420.2,748.2 417.7,747.4 415.2,748.2 412.7,746 410.2,747.1 407.6,746.2 405.1,747 402.6,746.1 400.1,747.2 397.6,746.2 395,746.9 392.5,746.6 390,746.5 387.5,750.4 384.9,746.2 382.4,748 379.9,748.1 377.4,748 374.9,748 372.3,747.7 369.8,749.9 367.3,746.3 364.8,746.8 362.3,751.1 359.7,746.8 357.2,747.5 354.7,746.5 352.2,746.6 349.6,746.2 347.1,747.8 344.6,748.6 342.1,747.8 339.6,747.9 337,747.7 334.5,748 332,749.2"/>
<polygon points="810.5,744.4 813,744.2 815.5,742.9 818,742.1 820.5,742 823,743.5 825.6,743.1 828.1,743 830.6,743.2 833.1,743.2 835.6,744.2 838.1,744.1 840.6,743.2 843.1,742.3 845.6,743.5 848.1,742.7 850.6,742.5 853.1,741.8 855.7,742.2 858.2,741.4 860.7,743 863.2,741.6 865.7,743 868.2,743.5 870.7,743.9 873.2,742.9 875.7,744.4 878.2,742.9 880.7,743.4 883.2,743.2 885.8,744.1 888.3,742.8 890.8,742.7 893.3,743.8 895.8,743 898.3,742.4 900.8,743.2 903.3,742.5 905.8,742 908.3,742 910.8,741.6 913.4,741.8 915.9,742.3 918.4,742.8 920.9,743.2 923.4,743.4 925.9,743.2 928.4,741.3 930.9,741.6 933.4,741.4 935.9,740.9 938.4,740.6 940.9,741.7 943.5,741.4 946,740.9 948.5,740.1 951,739.5 953.5,739.9 956,739.1 956,744.3 953.5,745.3 951,745 948.5,743.8 946,744.8 943.5,744.4 940.9,745.1 938.4,744.9 935.9,745.2 933.4,745.7 930.9,747.4 928.4,745.7 925.9,749.5 923.4,746.2 920.9,747.8 918.4,747.1 915.9,746.9 913.4,747.3 910.8,747.7 908.3,747.2 905.8,745.9 903.3,747.6 900.8,747 898.3,746.8 895.8,747.9 893.3,747.2 890.8,748.5 888.3,747.2 885.8,747 883.2,748.5 880.7,748.1 878.2,751.1 875.7,748 873.2,746.9 870.7,748 868.2,747.1 865.7,746.9 863.2,746.7 860.7,745.8 858.2,746.7 855.7,746.8 853.1,746.6 850.6,746.7 848.1,747.3 845.6,747.1 843.1,747.7 840.6,748.1 838.1,747.4 835.6,747.2 833.1,748.4 830.6,747.6 828.1,747.1 825.6,748.3 823,747.5 820.5,747.6 818,748.1 815.5,748.1 813,746.9 810.5,748.6"/>
<polygon points="1400,742.3 1402.5,742.7 1405,742.2 1407.5,741.6 1410,742 1412.6,742 1415.1,741.5 1417.6,742 1420.1,742.7 1422.6,743.2 1425.1,742.7 1427.6,742.7 1430.1,743.7 1432.7,742.9 1435.2,743.2 1437.7,743.8 1440.2,742.7 1442.7,743.7 1445.2,743.9 1447.7,742.5 1450.2,743.8 1452.8,743.5 1455.3,743.2 1457.8,743.2 1460.3,743.5 1462.8,742.4 1465.3,744.1 1467.8,743.4 1470.3,744.1 1472.9,744 1475.4,744.6 1477.9,744.5 1480.4,745.1 1482.9,744.2 1485.4,744.4 1487.9,744 1490.4,744.2 1492.9,742.6 1495.5,742.6 1498,744.1 1500.5,743.6 1503,742.4 1505.5,743.5 1508,742.2 1510.5,743 1513,744.2 1515.6,742.2 1518.1,742.5 1520.6,742.7 1523.1,742.4 1525.6,743.2 1528.1,743.9 1530.6,743.3 1533.1,743.5 1535.7,742.8 1538.2,743.4 1540.7,741.8 1543.2,742.8 1545.7,741.8 1548.2,742.3 1550.7,742.6 1553.2,741.4 1555.8,742.8 1558.3,743 1560.8,742.6 1563.3,743.4 1565.8,742.5 1568.3,743.6 1570.8,744 1573.3,743.5 1575.8,742.6 1578.4,743 1580.9,743.6 1583.4,743.8 1585.9,742.8 1588.4,742.1 1590.9,742.5 1593.4,742.9 1595.9,744 1598.5,743.4 1601,743.5 1603.5,742.5 1606,744.6 1608.5,743.5 1611,745.2 1613.5,745.4 1616,743.8 1618.6,743.5 1621.1,744.3 1623.6,743.4 1626.1,743.3 1628.6,744.1 1631.1,744.2 1633.6,742.9 1636.1,742.9 1638.6,743.1 1641.2,744.1 1643.7,743.8 1646.2,742.4 1648.7,744.5 1651.2,743.8 1653.7,743.3 1656.2,743.7 1658.7,743 1661.3,744.2 1663.8,744.6 1666.3,744.4 1668.8,743.2 1671.3,743.9 1673.8,742.5 1676.3,742.9 1678.8,741.5 1681.4,741.5 1683.9,741.9 1686.4,742.8 1688.9,742.1 1691.4,741.3 1693.9,743.2 1696.4,742.4 1698.9,742 1701.5,743.9 1704,742.5 1706.5,743.5 1709,742 1711.5,742.3 1711.5,748.6 1709,746.8 1706.5,747.9 1704,746.5 1701.5,746.2 1698.9,747.3 1696.4,747.3 1693.9,746.3 1691.4,745.5 1688.9,746.9 1686.4,746.8 1683.9,747.3 1681.4,745.8 1678.8,746.4 1676.3,747.8 1673.8,746.6 1671.3,747.3 1668.8,748.6 1666.3,747.1 1663.8,748.7 1661.3,751.8 1658.7,750.8 1656.2,748.9 1653.7,748.6 1651.2,747.4 1648.7,747.5 1646.2,748.6 1643.7,747.5 1641.2,748.8 1638.6,746.9 1636.1,748.9 1633.6,747 1631.1,748.4 1628.6,748.1 1626.1,747.6 1623.6,748.5 1621.1,747.8 1618.6,748.7 1616,749.5 1613.5,752.3 1611,748 1608.5,747.8 1606,748.2 1603.5,748.9 1601,748 1598.5,746.9 1595.9,747.6 1593.4,748 1590.9,747 1588.4,747.9 1585.9,747 1583.4,746.4 1580.9,748 1578.4,748.4 1575.8,747 1573.3,747.6 1570.8,748.1 1568.3,748 1565.8,748.2 1563.3,746.7 1560.8,747.4 1558.3,746 1555.8,745.7 1553.2,746.5 1550.7,749.8 1548.2,746 1545.7,745.5 1543.2,746.2 1540.7,746.4 1538.2,746.3 1535.7,747.5 1533.1,746.3 1530.6,747.6 1528.1,747.9 1525.6,747.4 1523.1,748.1 1520.6,747 1518.1,748.2 1515.6,747.4 1513,750.1 1510.5,746.6 1508,747.2 1505.5,746.7 1503,748.5 1500.5,748.1 1498,751.5 1495.5,746.8 1492.9,749.1 1490.4,748.9 1487.9,748.6 1485.4,747.6 1482.9,749.8 1480.4,748.6 1477.9,749.8 1475.4,747.7 1472.9,748.9 1470.3,748.9 1467.8,747.4 1465.3,747 1462.8,751.4 1460.3,747.6 1457.8,747 1455.3,747 1452.8,746.4 1450.2,747 1447.7,748.4 1445.2,747.3 1442.7,748.5 1440.2,747.4 1437.7,748 1435.2,746.5 1432.7,747.5 1430.1,747.9 1427.6,747.4 1425.1,746.4 1422.6,747.1 1420.1,746.3 1417.6,748.5 1415.1,745.2 1412.6,745.7 1410,748.8 1407.5,745.1 1405,745.5 1402.5,746.5 1400,748.8"/>
<polygon points="1729,741.7 1731.5,742.6 1734,741 1736.5,742.4 1739.1,741.3 1741.6,741.9 1744.1,743.1 1746.6,742.3 1749.1,742.9 1751.6,743.9 1754.1,744.1 1756.6,744.3 1759.2,742.8 1761.7,742.9 1764.2,743.3 1766.7,742.8 1769.2,743.2 1771.7,742.2 1774.2,743.1 1776.7,743.4 1779.3,742.5 1781.8,743.5 1784.3,741.6 1786.8,741.6 1789.3,742.1 1791.8,743 1794.3,742 1796.8,741.9 1799.4,742.9 1801.9,742.6 1804.4,743.4 1806.9,742.9 1809.4,743.1 1811.9,742.6 1814.4,742.6 1816.9,740.8 1819.5,742.3 1822,741.8 1824.5,741 1827,740.4 1829.5,740.7 1832,741 1834.5,740.5 1837.1,742.4 1839.6,742.4 1842.1,741.9 1844.6,741.2 1847.1,742 1849.6,741.5 1852.1,741.2 1854.6,741.7 1857.2,740.9 1859.7,740.5 1862.2,740.7 1864.7,740.5 1867.2,741.8 1869.7,741.5 1872.2,741.2 1874.7,741.4 1877.3,741 1879.8,742.1 1882.3,742.9 1884.8,742.4 1887.3,742.1 1889.8,741.8 1892.3,741.9 1894.8,743.4 1897.4,743.8 1899.9,742.4 1902.4,742.9 1904.9,742.5 1907.4,742.9 1909.9,742.7 1912.4,743 1914.9,742.3 1917.5,742.3 1920,743 1922.5,742.2 1925,742 1925,747.1 1922.5,746.8 1920,746.4 1917.5,746.7 1914.9,746.5 1912.4,747.6 1909.9,745.7 1907.4,746.8 1904.9,746.4 1902.4,746.2 1899.9,747.5 1897.4,746.7 1894.8,748.1 1892.3,747.5 1889.8,746.3 1887.3,746.4 1884.8,747.3 1882.3,747.1 1879.8,747.4 1877.3,746 1874.7,746.3 1872.2,745.6 1869.7,746.2 1867.2,745.2 1864.7,746.4 1862.2,745.7 1859.7,746.5 1857.2,745.8 1854.6,744.9 1852.1,745.7 1849.6,745.1 1847.1,746.7 1844.6,746 1842.1,746.6 1839.6,748.1 1837.1,745.5 1834.5,744.6 1832,748.5 1829.5,745.4 1827,745.6 1824.5,744.4 1822,744.7 1819.5,744.9 1816.9,746.2 1814.4,745.4 1811.9,746.2 1809.4,746.8 1806.9,747.5 1804.4,747.8 1801.9,748 1799.4,747.7 1796.8,748.1 1794.3,746.5 1791.8,747.2 1789.3,748.2 1786.8,747.9 1784.3,747.5 1781.8,747.5 1779.3,749.7 1776.7,746.9 1774.2,747.9 1771.7,746.6 1769.2,746.5 1766.7,747.3 1764.2,748.6 1761.7,748.4 1759.2,748.4 1756.6,747.8 1754.1,750.8 1751.6,748 1749.1,747 1746.6,748.3 1744.1,746.4 1741.6,747.5 1739.1,746.3 1736.5,747 1734,746.9 1731.5,746.7 1729,746.7"/>
<polygon points="1941.5,743.3 1944,744.1 1946.5,742.4 1949,743.1 1951.5,743.6 1954,743.1 1956.5,742 1959,741 1961.5,742.9 1964,743 1966.6,742.3 1969.1,742.2 1971.6,742.5 1974.1,742 1976.6,742.5 1979.1,742.4 1981.6,743.6 1984.1,743.2 1986.6,743.5 1989.1,741.5 1991.6,742.9 1994.1,741.9 1996.6,742 1999.1,741.1 2001.6,741.4 2004.1,740.7 2006.6,741.3 2009.1,741.4 2011.6,742.4 2014.2,742.3 2016.7,742.5 2019.2,742.5 2021.7,743.5 2024.2,742.4 2026.7,743.6 2029.2,742.4 2031.7,744 2034.2,743 2036.7,743.7 2039.2,743.1 2041.7,743.5 2044.2,743.4 2046.7,744 2049.2,743.9 2051.7,743.2 2054.2,744 2056.7,743.6 2059.2,744.1 2061.8,742.8 2064.3,742.8 2066.8,743.8 2069.3,743.5 2071.8,743 2074.3,743.3 2076.8,743.2 2079.3,743.3 2081.8,742.6 2084.3,742.5 2086.8,743.7 2089.3,743.3 2091.8,741.9 2094.3,741.7 2096.8,742.6 2099.3,742.3 2101.8,742.3 2104.3,741.2 2106.8,741.6 2109.3,742.6 2111.9,742.1 2114.4,743.2 2116.9,741.6 2119.4,742.5 2121.9,742.1 2124.4,742.9 2126.9,743.2 2129.4,742.9 2131.9,740.9 2134.4,741.5 2136.9,742.1 2139.4,741.2 2141.9,740.7 2144.4,742 2146.9,740.9 2149.4,741.5 2151.9,742.2 2154.4,742.3 2156.9,742.3 2159.5,741.6 2162,742.4 2164.5,743.3 2167,742.3 2169.5,744.1 2172,743.7 2174.5,743.9 2177,744.1 2179.5,743.4 2182,743.2 2184.5,743.3 2187,743.8 2189.5,741.8 2192,742.4 2194.5,743.3 2197,742.2 2199.5,742.7 2202,743.9 2204.5,743.1 2207.1,744.8 2209.6,744.7 2212.1,743.5 2214.6,744.4 2217.1,744 2219.6,744.3 2222.1,743.1 2224.6,742.7 2227.1,742.8 2229.6,742.6 2232.1,741.5 2234.6,742.9 2237.1,743.3 2239.6,742.2 2242.1,742.3 2244.6,742.6 2247.1,742.7 2249.6,741.7 2252.1,743.3 2254.7,742.9 2257.2,741.8 2259.7,743.1 2262.2,743.1 2264.7,742.4 2267.2,741.5 2269.7,742.2 2272.2,742.6 2274.7,741.6 2277.2,741.6 2279.7,740.6 2282.2,740.4 2284.7,740.7 2287.2,742.3 2289.7,741.6 2292.2,742 2294.7,742 2297.2,743.3 2299.7,742.5 2302.2,742.1 2304.8,742.8 2307.3,743.7 2309.8,743.2 2312.3,743.3 2314.8,743 2317.3,743 2319.8,743.5 2322.3,743 2324.8,742.9 2327.3,742.4 2329.8,742.4 2332.3,743.7 2334.8,743.8 2337.3,743.2 2339.8,743.5 2342.3,742.7 2344.8,742.8 2347.3,743.7 2349.8,744.4 2352.4,744.9 2354.9,744.5 2357.4,744.6 2359.9,742.6 2362.4,742.6 2364.9,743.2 2367.4,743.2 2369.9,742.9 2372.4,743.4 2374.9,742.9 2377.4,742.8 2379.9,742.1 2382.4,743 2384.9,741.7 2387.4,741.8 2389.9,742.1 2392.4,743.5 2394.9,741.6 2397.4,741.9 2400,742.9 2402.5,743.2 2405,742.8 2407.5,741.6 2410,742.5 2412.5,740.8 2415,741.1 2417.5,742 2420,741.5 2422.5,740.7 2425,740.4 2427.5,741.5 2430,741.4 2432.5,741.6 2435,743.2 2437.5,742.7 2440,742.5 2442.5,742.6 2445,741.6 2447.6,743.4 2450.1,742.9 2452.6,743.1 2455.1,742.8 2457.6,742.8 2460.1,741.9 2462.6,741.3 2465.1,743.4 2467.6,741.8 2470.1,741.8 2472.6,742.7 2475.1,742.5 2477.6,742.8 2480.1,743.5 2482.6,744.5 2485.1,743 2487.6,743.5 2490.1,744.6 2492.6,744.6 2495.2,742.6 2497.7,743.9 2500.2,742.6 2502.7,743.4 2505.2,743.9 2507.7,743.4 2510.2,741.8 2512.7,743.4 2515.2,741.9 2517.7,742.9 2520.2,742.3 2522.7,741.7 2525.2,742.8 2527.7,742.8 2530.2,743 2532.7,743.1 2535.2,741.9 2537.7,743.2 2540.2,742.3 2542.8,742.4 2545.3,741.6 2547.8,742.2 2550.3,741.1 2552.8,741.3 2555.3,742.2 2557.8,741.2 2560.3,740.9 2562.8,741.9 2565.3,740.7 2567.8,741.7 2570.3,741.5 2572.8,742.5 2575.3,741.1 2577.8,743.3 2580.3,742 2582.8,742 2585.3,742.8 2587.8,742 2590.3,742.3 2592.9,743.1 2595.4,741.5 2597.9,741.4 2600.4,742.3 2602.9,741.4 2605.4,742.9 2607.9,742.8 2610.4,742.1 2612.9,742 2615.4,742.9 2617.9,742.6 2620.4,744 2622.9,744.4 2625.4,742.6 2627.9,742.6 2630.4,744.1 2632.9,743.9 2635.4,744.3 2637.9,744.3 2640.5,743.7 2643,742.9 2645.5,741.9 2648,742.2 2650.5,742.6 2653,741.9 2655.5,743.2 2658,742.4 2660.5,742.5 2663,743.8 2665.5,742.3 2668,742 2670.5,743.1 2673,743.3 2675.5,742.9 2678,743.4 2680.5,742 2683,741.9 2685.5,741.1 2688.1,741.9 2690.6,741.7 2693.1,740.7 2695.6,741.9 2698.1,741.7 2700.6,741.4 2703.1,740.3 2705.6,741.6 2708.1,741.1 2710.6,741.6 2713.1,742.1 2715.6,741.7 2718.1,741.5 2720.6,743 2723.1,742.1 2725.6,741.2 2728.1,742 2730.6,741.2 2733.1,741.6 2735.7,742.5 2738.2,741.4 2740.7,740.9 2743.2,741 2745.7,742 2748.2,742 2750.7,742.3 2753.2,743.3 2755.7,742.7 2758.2,742.9 2760.7,742.3 2763.2,742.5 2765.7,743 2768.2,744.2 2770.7,744.1 2773.2,743.9 2775.7,742.1 2778.2,743.4 2780.7,743.1 2783.2,742.5 2785.8,742 2788.3,742.4 2790.8,741.7 2793.3,742.8 2795.8,743.4 2798.3,742.9 2800.8,742.9 2803.3,743 2805.8,743.9 2808.3,743 2810.8,743.2 2813.3,742.1 2815.8,743.4 2818.3,743.1 2820.8,742.6 2823.3,741 2825.8,741.9 2828.3,742.4 2830.8,741.5 2833.4,740.9 2835.9,740.8 2838.4,741.4 2840.9,741 2843.4,742.4 2845.9,740.7 2848.4,741.8 2850.9,741.7 2853.4,742.9 2855.9,741.6 2858.4,742.1 2860.9,742.6 2863.4,742.5 2865.9,742.6 2868.4,740.6 2870.9,740.5 2873.4,741.6 2875.9,741.5 2878.4,741.8 2881,740.9 2883.5,742.6 2886,741 2888.5,742 2891,743.3 2893.5,741.7 2896,743.6 2898.5,743.2 2901,742.4 2903.5,744 2903.5,748.4 2901,746.7 2898.5,747.8 2896,747.7 2893.5,746.6 2891,746.4 2888.5,746.2 2886,745.7 2883.5,746.7 2881,745.2 2878.4,745.4 2875.9,745.1 2873.4,746.5 2870.9,745 2868.4,746.1 2865.9,746.2 2863.4,746 2860.9,746.8 2858.4,746.8 2855.9,746.4 2853.4,746.3 2850.9,745.7 2848.4,746.3 2845.9,746 2843.4,746.5 2840.9,745.1 2838.4,746 2835.9,744.9 2833.4,746.3 2830.8,746.9 2828.3,746.7 2825.8,745.1 2823.3,746 2820.8,746.2 2818.3,746.8 2815.8,748 2813.3,748 2810.8,746.9 2808.3,748.6 2805.8,747.2 2803.3,747.6 2800.8,747.5 2798.3,747.5 2795.8,748.3 2793.3,747.2 2790.8,746.5 2788.3,746.7 2785.8,746 2783.2,746.9 2780.7,746.5 2778.2,747.8 2775.7,747.6 2773.2,747.4 2770.7,748.4 2768.2,748.7 2765.7,748.2 2763.2,748.5 2760.7,748.4 2758.2,747.9 2755.7,747.3 2753.2,747.9 2750.7,746.9 2748.2,745.5 2745.7,746.5 2743.2,746.5 2740.7,746.9 2738.2,745.3 2735.7,745.2 2733.1,745.8 2730.6,746.9 2728.1,746.2 2725.6,745.5 2723.1,746.5 2720.6,746.6 2718.1,746.3 2715.6,746.2 2713.1,746.2 2710.6,745.8 2708.1,745.8 2705.6,745.8 2703.1,745.3 2700.6,746.1 2698.1,746 2695.6,744.8 2693.1,746.6 2690.6,746.1 2688.1,745.1 2685.5,748.2 2683,746.8 2680.5,746.9 2678,746.5 2675.5,746.8 2673,747 2670.5,750.7 2668,747.4 2665.5,747.9 2663,746.8 2660.5,747.9 2658,747.2 2655.5,747.1 2653,746.6 2650.5,747.8 2648,746.2 2645.5,748.2 2643,747.9 2640.5,750 2637.9,748.6 2635.4,747.3 2632.9,748.8 2630.4,748.9 2627.9,747.2 2625.4,748.9 2622.9,746.9 2620.4,747 2617.9,746.8 2615.4,747.2 2612.9,746.7 2610.4,746.9 2607.9,746 2605.4,745.7 2602.9,746.3 2600.4,746.8 2597.9,747 2595.4,746.9 2592.9,746.2 2590.3,746.8 2587.8,745.9 2585.3,747.7 2582.8,745.9 2580.3,746.1 2577.8,746.7 2575.3,745.9 2572.8,745.5 2570.3,747 2567.8,746.7 2565.3,746.8 2562.8,749.6 2560.3,744.6 2557.8,745.3 2555.3,749.5 2552.8,746.3 2550.3,745.3 2547.8,745.6 2545.3,745.9 2542.8,746.3 2540.2,746.8 2537.7,747.9 2535.2,747.9 2532.7,746.8 2530.2,746.2 2527.7,748.3 2525.2,747 2522.7,746.8 2520.2,748 2517.7,747.2 2515.2,747.3 2512.7,746.6 2510.2,747.7 2507.7,746.3 2505.2,747 2502.7,748.1 2500.2,747.4 2497.7,748.5 2495.2,748.7 2492.6,748.6 2490.1,749.1 2487.6,747.6 2485.1,747.9 2482.6,747.8 2480.1,746.9 2477.6,748 2475.1,748.1 2472.6,747.3 2470.1,748.1 2467.6,747.4 2465.1,746.8 2462.6,747 2460.1,746.6 2457.6,746.7 2455.1,747.2 2452.6,746.1 2450.1,747.3 2447.6,746.4 2445,746.9 2442.5,746 2440,747.4 2437.5,747.2 2435,747.6 2432.5,747.4 2430,747.2 2427.5,745.8 2425,746.5 2422.5,744.8 2420,746.6 2417.5,745.9 2415,745.8 2412.5,745.2 2410,748.4 2407.5,747.1 2405,748.6 2402.5,746.7 2400,747.2 2397.4,746.9 2394.9,748 2392.4,746.9 2389.9,747.8 2387.4,746.1 2384.9,746.8 2382.4,747.9 2379.9,746.3 2377.4,746.1 2374.9,747.2 2372.4,746.1 2369.9,746.2 2367.4,747.4 2364.9,748 2362.4,750.9 2359.9,747.2 2357.4,747.9 2354.9,748.4 2352.4,747.8 2349.8,747.7 2347.3,747.4 2344.8,748.3 2342.3,747.9 2339.8,748.4 2337.3,748.1 2334.8,747.9 2332.3,747.1 2329.8,747.9 2327.3,746.9 2324.8,747.2 2322.3,747.1 2319.8,748.1 2317.3,747.6 2314.8,746.2 2312.3,747 2309.8,746.6 2307.3,746.3 2304.8,746.2 2302.2,748.1 2299.7,746.8 2297.2,747.5 2294.7,746.2 2292.2,746.5 2289.7,746.6 2287.2,745.2 2284.7,748.3 2282.2,746.8 2279.7,745.9 2277.2,746.7 2274.7,746.7 2272.2,745.1 2269.7,745.6 2267.2,747.5 2264.7,747 2262.2,747.2 2259.7,747.3 2257.2,746.4 2254.7,746.2 2252.1,747.4 2249.6,747.9 2247.1,747.3 2244.6,746.4 2242.1,747.7 2239.6,746.8 2237.1,746.5 2234.6,747.7 2232.1,748 2229.6,747.4 2227.1,748.2 2224.6,748.2 2222.1,748.4 2219.6,748.8 2217.1,748.2 2214.6,749 2212.1,747.6 2209.6,749.1 2207.1,748.5 2204.5,748 2202,747.5 2199.5,748.1 2197,747.9 2194.5,747.3 2192,747.2 2189.5,746.8 2187,748 2184.5,747.4 2182,747.4 2179.5,746.9 2177,747.7 2174.5,748.1 2172,747.9 2169.5,747.1 2167,746.9 2164.5,748.4 2162,748.3 2159.5,746.3 2156.9,746.4 2154.4,746.1 2151.9,747 2149.4,747.2 2146.9,746.7 2144.4,749.9 2141.9,745 2139.4,745.7 2136.9,746.6 2134.4,746.4 2131.9,746 2129.4,747.3 2126.9,746.1 2124.4,747.3 2121.9,747.5 2119.4,747.3 2116.9,746.7 2114.4,747.2 2111.9,747.6 2109.3,746.5 2106.8,745.9 2104.3,746.4 2101.8,747.1 2099.3,746.8 2096.8,747.1 2094.3,746.8 2091.8,745.9 2089.3,747.4 2086.8,748.2 2084.3,747.8 2081.8,748.4 2079.3,748.8 2076.8,749.2 2074.3,748.9 2071.8,747.5 2069.3,748.4 2066.8,748.9 2064.3,746.9 2061.8,748.5 2059.2,747.7 2056.7,748.1 2054.2,748 2051.7,746.4 2049.2,746.7 2046.7,746.7 2044.2,748.1 2041.7,746.7 2039.2,748.8 2036.7,748.2 2034.2,748.8 2031.7,748.2 2029.2,747.3 2026.7,747.1 2024.2,747.5 2021.7,748.2 2019.2,747.9 2016.7,745.7 2014.2,747.1 2011.6,747.1 2009.1,745.5 2006.6,748.7 2004.1,746.3 2001.6,745.1 1999.1,745.9 1996.6,746.3 1994.1,747.2 1991.6,745.5 1989.1,745.9 1986.6,746.1 1984.1,747.6 1981.6,747.2 1979.1,747 1976.6,745.9 1974.1,746.8 1971.6,746.5 1969.1,746.7 1966.6,746.6 1964,746.3 1961.5,745.7 1959,746.3 1956.5,748.7 1954,745.8 1951.5,747.4 1949,747.1 1946.5,748 1944,747.8 1941.5,748.4"/>
<path d="M345.2 746V828" stroke-width="4"/>
<path d="M348.6 746V806" stroke-width="3.5"/>
<path d="M350.8 746V832" stroke-width="3"/>
<path d="M363.3 746V766.5" stroke-width="3"/>
<path d="M379.2 746V818.5" stroke-width="3"/>
<path d="M403 746V758.5" stroke-width="4"/>
<path d="M416.5 746V965.5" stroke-width="4.5"/>
<path d="M433.5 746V953" stroke-width="3.5"/>
<path d="M520.3 746V1185.5" stroke-width="3"/>
<path d="M1690.3 746V757.5" stroke-width="3"/>
<path d="M2203.5 746V757" stroke-width="4"/>
<path d="M2229.6 746V757.5" stroke-width="6"/>
<path d="M2473 746V753" stroke-width="3"/>
<path d="M1928 726V746" stroke-width="5"/>
<circle cx="416.5" cy="845" r="2.8" stroke="none"/>
<circle cx="416.5" cy="924" r="2.8" stroke="none"/>
<circle cx="433.5" cy="905" r="2.8" stroke="none"/>
<circle cx="433.5" cy="925" r="2.8" stroke="none"/>
<circle cx="433.5" cy="940" r="2.8" stroke="none"/>
<circle cx="520.3" cy="1070" r="2.8" stroke="none"/>
<circle cx="363.3" cy="766" r="2.8" stroke="none"/>
<circle cx="379.2" cy="818" r="2.8" stroke="none"/>
<circle cx="350.5" cy="831" r="2.8" stroke="none"/>
<circle cx="416.5" cy="880" r="2.8" stroke="none"/>
</g>
<g fill="#1a8f00" stroke="#1a8f00" stroke-width="4" stroke-linejoin="round" stroke-linecap="round">
<polygon points="330.7,1459.1 332.2,1462.9 336.5,1456.2 338,1446.5 339.5,1453.2 342.8,1449.5 344.3,1435.4 345.8,1452.3 347.6,1461.4 349.1,1455.9 350.6,1467 353.9,1470.2 355.4,1462.3 356.9,1469.6 360.2,1463.7 361.7,1452.8 363.2,1468.8 362.7,1464.8 364.2,1462.3 365.7,1474.6 371.3,1474.4 372.8,1465.4 374.3,1477.9 379.2,1477.1 380.7,1465.4 382.2,1472.8 385.5,1462.7 387,1448 388.5,1466.4 388.7,1467.5 390.2,1465.4 391.7,1476 395,1471.9 396.5,1462.3 398,1473.5 399.1,1472 400.6,1465.4 402.1,1472.8 404.5,1470.6 406,1459.1 407.5,1466.3 412.4,1462.1 413.9,1449.6 415.4,1467.8 416.2,1472.7 417.7,1474.9 417.7,1506.6 416.2,1494.9 415.4,1493.5 413.9,1497.1 412.4,1486.8 407.5,1488 406,1493.9 404.5,1489.9 402.1,1496.3 400.6,1506.6 399.1,1495.3 398,1492.7 396.5,1497.1 395,1492.3 391.7,1499.9 390.2,1512.9 388.7,1495.7 388.5,1493.2 387,1493.9 385.5,1489.2 382.2,1495.6 380.7,1506.6 379.2,1498.2 374.3,1503.3 372.8,1512.9 371.3,1501.4 365.7,1499.3 364.2,1506.6 362.7,1489.1 363.2,1492.1 361.7,1490.8 360.2,1486.5 356.9,1489.8 355.4,1500.3 353.9,1492 350.6,1495.9 349.1,1506.6 347.6,1487.6 345.8,1480.9 344.3,1484.4 342.8,1476.8 339.5,1475.8 338,1486 336.5,1478.9 332.2,1478.3 330.7,1484.4"/>
<polygon points="420.3,1506.6 421.8,1500.7 421.9,1497.7 423.4,1474.9 424.9,1483.5 423.5,1486.9 425,1474.9 426.5,1479.6 428.2,1476.7 429.7,1457.5 431.2,1471.1 433,1467.7 434.5,1455.9 434.5,1500.3 433,1494.7 431.2,1500.5 429.7,1514.5 428.2,1504.5 426.5,1507.4 425,1516.1 423.5,1509.9 424.9,1507.8 423.4,1519.2 421.9,1520.9 421.8,1519.8 420.3,1536.6"/>
<polygon points="437,1454.4 438.5,1466.6 442.5,1467.4 444,1455.9 445.5,1463.9 447.2,1460.6 448.7,1449.6 450.2,1460 453.6,1466 455.1,1455.9 456.6,1469.3 459.9,1477.4 461.4,1468.6 462.9,1478.6 465.6,1485.5 467.1,1471.8 468.6,1481.3 469.4,1480.8 470.9,1462.3 472.4,1477.5 475.7,1481.3 477.2,1471.8 478.7,1479.6 482,1478.2 483.5,1465.4 485,1472.1 490,1464.8 491.5,1451.2 493,1463.7 496.3,1470.3 497.8,1462.3 499.3,1471.1 501,1467.7 502.5,1454.4 504,1465.9 505.8,1459.6 507.3,1446.5 508.8,1467.4 510.5,1475.2 512,1471.8 513.5,1482.3 516.9,1477.4 518.4,1463.9 519.9,1480.4 520,1478.6 521.5,1474.9 523,1485.1 526.3,1486.5 527.8,1478.1 529.3,1487.1 534.3,1482.1 535.8,1473.4 537.3,1485.8 540.6,1491.5 542.1,1484.4 543.6,1491.3 546.9,1483.2 548.4,1471.8 549.9,1481.6 551.7,1480.1 553.2,1468.6 554.7,1482.5 559.6,1481.2 561.1,1473.4 562.6,1486.9 568.1,1491.2 569.6,1486 569.6,1516.1 568.1,1509.6 562.6,1507.4 561.1,1517.7 559.6,1509.1 554.7,1506.5 553.2,1517.7 551.7,1504.9 549.9,1502.8 548.4,1509.7 546.9,1505.2 543.6,1511.4 542.1,1522.4 540.6,1511.7 537.3,1507.1 535.8,1514.5 534.3,1505.3 529.3,1504.8 527.8,1512.9 526.3,1506.2 523,1510 521.5,1522.4 520,1506.9 519.9,1504.1 518.4,1506.6 516.9,1501.2 513.5,1508.8 512,1525.6 510.5,1507.9 508.8,1497.8 507.3,1500.3 505.8,1490.5 504,1495.4 502.5,1506.6 501,1495.7 499.3,1496.6 497.8,1508.2 496.3,1496.9 493,1495.3 491.5,1503.4 490,1493.7 485,1498.3 483.5,1509.7 482,1500.8 478.7,1504.6 477.2,1516.1 475.7,1507.1 472.4,1507.5 470.9,1519.2 469.4,1510.1 468.6,1511.2 467.1,1528.7 465.6,1511.7 462.9,1507.9 461.4,1512.9 459.9,1501.8 456.6,1495.2 455.1,1500.3 453.6,1490.2 450.2,1484.9 448.7,1490.8 447.2,1487.9 445.5,1491.2 444,1506.6 442.5,1496.3 438.5,1501 437,1512.9"/>
<polygon points="810.1,1470.2 811.6,1479.8 811.8,1478 813.3,1468.6 814.8,1478.4 819.1,1468.8 820.6,1457.5 822.1,1466.4 827,1468.3 828.5,1459.1 830,1466.6 834.9,1463.8 836.4,1451.2 837.9,1463.7 842.8,1460.9 844.3,1451.2 845.8,1459.4 847.6,1457.2 849.1,1448 850.6,1460.4 853.9,1467 855.4,1452.8 856.9,1467.8 860.2,1465.5 861.7,1448 863.2,1464.1 868.1,1465.1 869.6,1455.9 871.1,1467.4 874.4,1475.6 875.9,1465.4 877.4,1475.7 882.4,1462.3 883.9,1448 885.4,1458.1 886.2,1457.9 887.7,1450.6 889.2,1451.1 891.9,1449.8 893.4,1437 894.9,1450.4 898.2,1460 899.7,1455.9 901.2,1466.6 906.1,1464.9 907.6,1454.4 909.1,1464.6 914,1461.2 915.5,1451.2 917,1462.2 918.1,1463.4 919.6,1455.9 921.1,1462.8 923.5,1459.1 925,1446.5 926.5,1455.1 931.4,1454.5 932.9,1446.5 934.4,1451.5 939.3,1443.9 940.8,1432.2 942.3,1446.9 945.7,1454.7 947.2,1449.6 948.7,1458.7 952,1457.4 953.5,1448 955,1455.7 956.1,1457.6 957.6,1452.8 957.6,1474.9 956.1,1471.2 955,1473.9 953.5,1481.3 952,1474.8 948.7,1479.9 947.2,1489.2 945.7,1477.6 942.3,1468.5 940.8,1474.9 939.3,1467.6 934.4,1474.6 932.9,1484.4 931.4,1476.5 926.5,1474.3 925,1481.3 923.5,1478.8 921.1,1487.8 919.6,1501.8 918.1,1487.4 917,1486.4 915.5,1490.8 914,1483.8 909.1,1490.7 907.6,1500.3 906.1,1489.9 901.2,1487.9 899.7,1497.1 898.2,1484 894.9,1478.4 893.4,1484.4 891.9,1476.6 890.9,1476.7 889.4,1489.3 887.9,1481.6 885.4,1485.6 883.9,1497.1 882.4,1491.7 877.4,1502 875.9,1517.7 874.4,1503.4 871.1,1493.4 869.6,1500.3 868.1,1493 863.2,1496 861.7,1506.6 860.2,1497.1 856.9,1504.6 855.4,1519.2 853.9,1497.4 850.6,1484.8 849.1,1484.4 847.6,1476.7 845.8,1479.1 844.3,1487.6 842.8,1480.8 837.9,1488.3 836.4,1500.3 834.9,1490.9 830,1490.3 828.5,1500.3 827,1491.2 822.1,1489.4 820.6,1498.7 819.1,1494.4 814.8,1503.5 813.3,1516.1 811.8,1500.4 811.6,1501.9 810.1,1503.4"/>
<polygon points="1399.6,1454.2 1401.1,1463.3 1407,1466.1 1408.5,1455.8 1410,1467.7 1411.9,1465.4 1413.4,1459.6 1414.9,1466.9 1416.5,1464.6 1418,1452.7 1419.5,1464.5 1423.4,1463.9 1424.9,1452.1 1426.4,1460.5 1430.7,1458.4 1432.2,1444.7 1433.7,1457.7 1436.9,1460.6 1438.4,1449.6 1439.9,1461 1441.8,1461.8 1443.3,1447.9 1444.8,1463.9 1448.1,1471 1449.6,1465.3 1451.1,1472.3 1456,1461.2 1457.5,1444.7 1459,1460.9 1463.9,1470.3 1465.4,1462.2 1466.9,1471.8 1471.9,1470.2 1473.4,1455.8 1474.9,1472.3 1478.2,1471.9 1479.7,1462.2 1481.2,1473.6 1486.1,1464 1487.6,1451.1 1489.1,1465.7 1492.4,1471.7 1493.9,1465.3 1495.4,1473 1498.5,1470.2 1500,1454.8 1501.5,1464.6 1502.6,1458.5 1504.1,1442.2 1505.6,1460.3 1508.2,1470.3 1509.7,1462.2 1511.2,1468.8 1513.5,1465.7 1515,1455.3 1516.5,1459.3 1517.7,1457.7 1519.2,1446.3 1520.7,1455.5 1523.1,1457.4 1524.6,1448 1526.1,1454.7 1527.2,1454.4 1528.7,1444.7 1530.2,1461.3 1533.6,1468.8 1535.1,1462.2 1536.6,1472.5 1537.2,1471.3 1538.7,1462.1 1540.2,1465.3 1543.1,1460.7 1544.6,1449.5 1546.1,1460.7 1551,1459.2 1552.5,1449.5 1554,1464 1557.3,1474.8 1558.8,1468.5 1560.3,1481 1563,1480.4 1564.5,1465.3 1566,1476.7 1570.9,1462.2 1572.4,1443.2 1573.9,1457.8 1579.4,1466.6 1580.9,1459 1582.4,1472.6 1587.4,1477.6 1588.9,1470.1 1590.4,1480.5 1592.4,1479.4 1593.9,1465.9 1595.4,1476.4 1598.4,1473.5 1599.9,1460.6 1601.4,1476.2 1606.3,1476.9 1607.8,1468.5 1609.3,1476.8 1610.2,1477.3 1611.7,1465.6 1613.2,1476 1615.8,1473.8 1617.3,1460.6 1618.8,1472 1623.6,1471.9 1625.1,1469.2 1626.6,1473.3 1628.5,1475.1 1630,1463.7 1631.5,1477 1634.2,1476.3 1635.7,1469.6 1637.2,1477.1 1638,1475.8 1639.5,1465.3 1641,1478.3 1641.9,1476.2 1643.4,1472.2 1644.9,1476.8 1647.5,1478.6 1649,1468.5 1650.5,1473.3 1652.6,1467.3 1654.1,1452 1655.6,1470.5 1658.6,1477.1 1660.1,1468.5 1661.6,1482.9 1663.3,1485.6 1664.8,1474.8 1666.3,1486.7 1668.1,1480.8 1669.6,1465.3 1671.1,1484.9 1676,1499.5 1677.5,1490.6 1679,1502.6 1682.3,1494.5 1683.8,1478 1685.3,1491 1690.2,1486.5 1691.7,1470.1 1693.2,1484.2 1695,1482.5 1696.5,1470.1 1698,1483 1699.9,1484.9 1701.4,1472.3 1702.9,1485.5 1704.4,1486.2 1705.9,1470.1 1707.4,1482.8 1710.8,1484 1712.3,1474.8 1712.3,1509.6 1710.8,1505.5 1707.4,1518.1 1705.9,1533.4 1704.4,1520.1 1701.7,1517.7 1700.2,1522.1 1698.7,1513.6 1698,1514.5 1696.5,1522.3 1695,1515.5 1693.2,1515.4 1691.7,1531.8 1690.2,1519.5 1685.3,1519.3 1683.8,1531.8 1682.3,1525 1679,1537.6 1677.5,1560.3 1676,1540.9 1671.1,1522.1 1669.6,1531.8 1668.1,1518.8 1666.3,1517.7 1664.8,1525.4 1663.3,1515.4 1661.6,1512.6 1660.1,1522.3 1658.6,1506.1 1655.6,1497.7 1654.1,1506.5 1652.6,1497.2 1650.5,1499.6 1649,1508 1647.5,1501.8 1645.2,1501.8 1643.7,1506.7 1642.2,1500.5 1641,1503.7 1639.5,1512.8 1638,1503.3 1636.5,1503.4 1635,1507 1633.5,1501.6 1631.5,1500.5 1630,1511.2 1628.5,1503 1625.8,1501.9 1624.3,1505.4 1622.8,1502 1618.8,1499 1617.3,1509.6 1615.8,1498.7 1614.6,1499.2 1613.1,1503.9 1611.6,1501.2 1609.3,1502.4 1607.8,1512.8 1606.3,1503.4 1601.4,1504.3 1599.9,1514.4 1598.4,1504.8 1594.9,1503.5 1593.4,1511.5 1591.9,1505.8 1590.4,1505 1588.9,1514.4 1587.4,1502.9 1582.4,1499.4 1580.9,1506.5 1579.4,1495.2 1573.9,1486.1 1572.4,1493.8 1570.9,1492.5 1566,1517.5 1564.5,1539.7 1563,1519.2 1560.3,1508.4 1558.8,1512.8 1557.3,1498 1554,1487.4 1552.5,1490.6 1551,1483.8 1546.1,1484.3 1544.6,1493.8 1543.1,1488.5 1542.2,1486.9 1540.7,1493.4 1539.2,1493.9 1536.6,1496.5 1535.1,1509.6 1533.6,1493.8 1530.2,1484.4 1528.7,1490.6 1527.2,1481.8 1525.8,1480.3 1524.3,1486.9 1522.8,1479.8 1520.7,1479.1 1519.2,1487.5 1517.7,1481.3 1516.8,1483.4 1515.3,1493.1 1513.8,1491 1511.2,1494.5 1509.7,1506.5 1508.2,1498 1505.6,1493.2 1504.1,1506.5 1502.6,1497.1 1501.1,1496.3 1499.6,1502.6 1498.1,1498.5 1495.4,1503.8 1493.9,1514.4 1492.4,1500.5 1489.1,1496.4 1487.6,1503.3 1486.1,1494.7 1481.2,1503.3 1479.7,1515.9 1478.2,1504.7 1474.9,1501.5 1473.4,1512.8 1471.9,1502.7 1466.9,1504.7 1465.4,1514.4 1463.9,1498.7 1459,1489.2 1457.5,1493.8 1456,1485.9 1451.1,1497.2 1449.6,1509.6 1448.1,1499.3 1444.8,1497.7 1443.3,1506.5 1441.8,1494 1440.4,1493.1 1438.9,1501.4 1437.4,1488.2 1433.7,1485.9 1432.2,1493.8 1430.7,1483.8 1428,1488.8 1426.5,1496.5 1425,1488.9 1419.5,1493 1418,1506.5 1416.5,1493.3 1414.7,1494.1 1413.2,1503.6 1411.7,1495.7 1410,1494.9 1408.5,1503.3 1407,1493.7 1401.1,1489.1 1399.6,1498.5"/>
<polygon points="1728.7,1459 1730.2,1466.7 1736.1,1467.8 1737.6,1459 1739.1,1464.7 1741.9,1454.2 1743.4,1443.9 1744.9,1447.9 1745.6,1445.7 1747.1,1430.5 1748.6,1442.5 1753.5,1449.3 1755,1443.2 1756.5,1454.2 1761.4,1450.5 1762.9,1440 1764.4,1451.6 1767.7,1460.3 1769.2,1452.7 1770.7,1461.4 1774.1,1454.3 1775.6,1438.4 1777.1,1452.4 1780.4,1460.3 1781.9,1452.7 1783.4,1460.3 1788.3,1454.9 1789.8,1443.2 1791.3,1457.2 1796.2,1459.2 1797.7,1449.5 1799.2,1460.8 1802.1,1463.8 1803.6,1460.1 1805.1,1467.1 1805.7,1468.8 1807.2,1459 1808.7,1469.8 1810.3,1469.3 1811.8,1461.1 1813.3,1466.2 1815.2,1463.4 1816.7,1452.7 1818.2,1466.7 1820.9,1466.5 1822.4,1455.8 1823.9,1470.6 1827.9,1471.6 1829.4,1462.2 1830.9,1471.4 1834.9,1464.9 1836.4,1458.5 1837.9,1463.1 1840.5,1460.3 1842,1444.7 1843.5,1458.7 1846.9,1459.9 1848.4,1452.7 1849.9,1462.9 1853.2,1459.9 1854.7,1447.9 1856.2,1458.5 1861.1,1464.1 1862.6,1455.8 1864.1,1466.3 1868.4,1457.3 1869.9,1444.7 1871.4,1456.7 1876.9,1461.6 1878.4,1452.7 1879.9,1462.3 1881.4,1461.7 1882.9,1454.9 1884.4,1458.4 1886.4,1458.1 1887.9,1447.9 1889.4,1461.7 1894.3,1462 1895.8,1447.9 1897.3,1458.9 1899.8,1460 1901.3,1449.1 1902.8,1463.4 1903.8,1460.3 1905.3,1449.5 1906.8,1464.8 1909.4,1468.7 1910.9,1467.1 1912.4,1474.7 1913.3,1473.4 1914.8,1465.3 1916.3,1469.1 1919,1457.3 1920.5,1441.6 1922,1457.1 1924.4,1460.1 1925.9,1459 1925.9,1481.1 1924.4,1477.8 1922,1480.7 1920.5,1490.6 1919,1487.5 1916.3,1498.6 1914.8,1514.4 1913.3,1502.9 1912.2,1501.6 1910.7,1506 1909.2,1495.8 1906.8,1491.4 1905.3,1501.7 1903.8,1492.4 1901.1,1489.9 1899.6,1495.6 1898.1,1492 1897.3,1491.1 1895.8,1503.3 1894.3,1492.9 1889.4,1487.1 1887.9,1497 1886.4,1485.1 1884.7,1484.2 1883.2,1489.1 1881.7,1483.3 1879.9,1482.3 1878.4,1490.6 1876.9,1482.6 1871.4,1483.2 1869.9,1493.8 1868.4,1485.8 1864.1,1490.7 1862.6,1501.7 1861.1,1490.7 1856.2,1485.6 1854.7,1493.8 1853.2,1484 1849.9,1486.3 1848.4,1493.8 1846.9,1487.6 1843.5,1489.9 1842,1500.1 1840.5,1488.7 1836.1,1491 1834.6,1503 1833.1,1494.5 1830.9,1495.5 1829.4,1506.5 1827.9,1499.7 1823.9,1503.8 1822.4,1517.5 1820.9,1503.1 1818.2,1493.8 1816.7,1501.7 1815.2,1491.4 1814.2,1492.5 1812.7,1502.2 1811.2,1496.8 1808.7,1496.8 1807.2,1508 1805.7,1494.8 1803.2,1495.4 1801.7,1501.4 1800.2,1491.3 1799.2,1489.5 1797.7,1498.5 1796.2,1488.4 1791.3,1482.5 1789.8,1490.6 1788.3,1481.2 1783.4,1485.5 1781.9,1497 1780.4,1486.4 1777.1,1477.2 1775.6,1484.3 1774.1,1480.9 1770.7,1489 1769.2,1503.3 1767.7,1488.9 1764.4,1477.4 1762.9,1481.1 1761.4,1475.2 1756.5,1478.7 1755,1487.5 1753.5,1474.6 1748.6,1465.8 1747.1,1471.6 1745.6,1467.6 1744.3,1471.8 1742.8,1481.8 1741.3,1480.2 1739.1,1487.2 1737.6,1501.7 1736.1,1494.1 1730.2,1489.6 1728.7,1498.5"/>
<polygon points="1940.8,1459 1942.3,1459.3 1945,1450.9 1946.5,1438.4 1948,1448.3 1950.4,1452.3 1951.9,1448 1953.4,1451.8 1955.1,1454.5 1956.6,1443.2 1958.1,1459 1962.4,1470.1 1963.9,1459 1965.4,1473.2 1969.1,1469.7 1970.6,1463.4 1972.1,1472.5 1973.4,1470.2 1974.9,1459 1976.4,1472.6 1978.8,1474.3 1980.3,1466.9 1981.8,1478.4 1982.9,1476.3 1984.4,1468.5 1985.9,1479.8 1988.6,1481.7 1990.1,1468.5 1991.6,1477.4 1994,1471.9 1995.5,1452.7 1997,1467 2000.1,1472.9 2001.6,1469.8 2003.1,1478.8 2004.4,1476.1 2005.9,1465.3 2007.4,1477.7 2011.4,1475 2012.9,1462.2 2014.4,1475.1 2017.3,1469.4 2018.8,1456.3 2020.3,1468.6 2020.9,1469.3 2022.4,1452.7 2023.9,1465.2 2026.3,1469.2 2027.8,1461.3 2029.3,1471.4 2030.4,1472.4 2031.9,1462.2 2033.4,1473.1 2036,1470.6 2037.5,1462.2 2039,1469 2043.1,1470.4 2044.6,1459 2046.1,1466.4 2051,1460.3 2052.5,1447.9 2054,1463 2059.5,1467.4 2061,1452.7 2061,1519.1 2059.5,1500.9 2054,1491.6 2052.5,1497 2051,1487.5 2046.1,1493.3 2044.6,1503.3 2043.1,1493.1 2038.2,1497 2036.7,1505.2 2035.2,1495.4 2033.4,1498.4 2031.9,1506.5 2030.4,1498.2 2027.6,1496.8 2026.1,1504.9 2024.6,1496.3 2023.9,1494.9 2022.4,1508 2020.9,1499.6 2018.1,1501.8 2016.6,1507.6 2015.1,1504.3 2014.4,1503.3 2012.9,1515.9 2011.4,1506.9 2007.4,1515.9 2005.9,1530.2 2004.4,1511.9 2001.7,1509.6 2000.2,1515.2 1998.7,1504.1 1997,1497.8 1995.5,1506.5 1994,1499.3 1991.6,1507.2 1990.1,1525.4 1988.6,1512.2 1985.9,1505.2 1984.4,1512.8 1982.9,1504.6 1981.6,1501.3 1980.1,1504.5 1978.6,1501.6 1976.4,1501.4 1974.9,1509.6 1973.4,1498.9 1971.2,1500.7 1969.7,1509 1968.2,1500.8 1965.4,1503.3 1963.9,1514.4 1962.4,1500.1 1958.1,1486.6 1956.6,1490.6 1955.1,1478.7 1953.4,1479 1951.9,1479.4 1950.4,1475.1 1948,1473.7 1946.5,1481.1 1945,1473.9 1942.3,1474.3 1940.8,1478"/>
<polygon points="2060,1455.9 2061.5,1472.6 2062.3,1474.2 2063.8,1462.3 2065.3,1476.6 2069.6,1468.8 2071.1,1454.4 2072.6,1465.7 2076.9,1455.1 2078.4,1443.3 2079.9,1458.1 2085.4,1470 2086.9,1462.3 2088.4,1470.9 2089.8,1471.6 2091.3,1462.4 2092.8,1470.4 2094.9,1471.5 2096.4,1462.3 2097.9,1472.5 2102.8,1470.7 2104.3,1459.1 2105.8,1471.8 2111.7,1476.7 2113.2,1465.4 2114.7,1473.4 2116.8,1470.4 2118.3,1458.1 2119.8,1463.4 2121.8,1459.3 2123.3,1448 2124.8,1459.7 2129.7,1467.2 2131.2,1459.1 2132.7,1472.4 2134.4,1472.4 2135.9,1462.3 2137.4,1469.5 2139.2,1467.5 2140.7,1455.9 2142.2,1468.7 2145.5,1471.4 2147,1462.3 2148.5,1473.7 2150,1473.4 2151.5,1469.3 2153,1470.3 2156.6,1472.4 2158.1,1462.3 2159.6,1472.2 2164.5,1475.3 2166,1465.4 2167.5,1472.3 2169.3,1470.5 2170.8,1454.4 2172.3,1464.6 2173.4,1465.2 2174.9,1456.8 2176.4,1468.8 2178.8,1468 2180.3,1459.1 2181.8,1468.8 2186.7,1463.9 2188.2,1454.4 2189.7,1465.3 2194.6,1467.2 2196.1,1457.5 2197.6,1468.7 2202.5,1475 2204,1462.3 2205.5,1474.9 2208.8,1473.8 2210.3,1465.4 2211.8,1474.2 2215.1,1466.8 2216.6,1454.4 2218.1,1464.5 2223.1,1468.3 2224.6,1462.3 2226.1,1474.5 2228.4,1478.6 2229.9,1471.8 2231.4,1478.5 2235.7,1476.3 2237.2,1465.4 2238.7,1474.1 2242,1469.4 2243.5,1455.9 2245,1467 2248.4,1469.6 2249.9,1459.1 2251.4,1466.8 2257.2,1452.1 2258.7,1438.5 2260.2,1448.8 2264.2,1456.9 2265.7,1448 2267.2,1458.8 2269.6,1457.2 2271.1,1450.6 2272.6,1453.8 2273.7,1455.1 2275.2,1443.3 2276.7,1453 2281.6,1457 2283.1,1451.2 2284.6,1457.8 2287,1456.5 2288.5,1443.3 2290,1453.9 2294.3,1459.6 2295.8,1452.8 2297.3,1459.2 2299,1458.9 2300.5,1446.5 2302,1457.9 2305.3,1462 2306.8,1451.2 2308.3,1468.9 2311,1472.4 2312.5,1459.1 2314,1474.8 2319.6,1465.3 2321.1,1452.8 2322.6,1467.1 2326.9,1471.8 2328.4,1465.4 2329.9,1476.7 2333.8,1470.9 2335.3,1460.7 2336.8,1472 2338.6,1473.7 2340.1,1463.9 2341.6,1475.4 2343.5,1473.8 2345,1463.2 2346.5,1469.7 2349.6,1465.3 2351.1,1454.4 2352.6,1468.4 2356,1470.7 2357.5,1463.9 2359,1476 2363.9,1475.3 2365.4,1465.4 2366.9,1474.7 2371.8,1477.3 2373.3,1463.9 2374.8,1477.1 2379.7,1485.6 2381.2,1478.1 2382.7,1485.2 2387.6,1477.9 2389.1,1460.7 2390.6,1474.4 2395.5,1484 2397,1473.4 2398.5,1484.6 2401.9,1485.9 2403.4,1471.8 2404.9,1479.7 2408.2,1478.6 2409.7,1462.3 2411.2,1471.8 2411.3,1472.4 2412.8,1455.9 2414.3,1470.4 2419.3,1473.8 2420.8,1463.9 2422.3,1475.3 2425.6,1481.7 2427.1,1473.4 2428.6,1484.7 2430.1,1485.5 2431.6,1484.5 2433.1,1487 2435.1,1489.7 2436.6,1478.1 2438.1,1487.7 2443,1479.3 2444.5,1460.7 2446,1472 2450.9,1471.9 2452.4,1463.9 2453.9,1471.9 2456.6,1474.4 2458.1,1465.4 2459.6,1469.6 2461.3,1463.6 2462.8,1446.5 2464.3,1467.3 2466.7,1476.9 2468.2,1474.9 2469.7,1485.5 2472.1,1487.9 2473.6,1478.1 2475.1,1486.4 2479.4,1487.4 2480.9,1474.9 2482.4,1484.6 2487.3,1482.1 2488.8,1471.8 2490.3,1484.4 2492.7,1479 2494.2,1468.8 2495.7,1478.1 2496.8,1477.4 2498.3,1465.4 2499.8,1480.5 2504.7,1484 2506.2,1471.8 2507.7,1487.5 2511,1497.5 2512.5,1487.6 2514,1498.1 2516.7,1488.3 2518.2,1470.2 2519.7,1483.7 2520.8,1482.5 2522.3,1477.7 2523.8,1485.9 2526.2,1490 2527.7,1478.1 2529.2,1490.6 2533.2,1490.1 2534.7,1478.1 2536.2,1489.4 2541.1,1487.7 2542.6,1473.4 2544.1,1482.9 2549,1479.1 2550.5,1470.2 2552,1479.7 2555.3,1476.3 2556.8,1465.4 2558.3,1472.4 2563.2,1469 2564.7,1455.9 2566.2,1467.5 2571.2,1473.1 2572.7,1465.4 2574.2,1478 2579.1,1487.5 2580.6,1481.3 2582.1,1488.2 2585.4,1480.6 2586.9,1470.2 2588.4,1480.9 2589.4,1480.5 2590.9,1476.2 2592.4,1482.5 2594.9,1484.1 2596.4,1474.9 2597.9,1484.7 2602.2,1493.6 2603.7,1484.4 2603.7,1535.1 2602.2,1520.9 2597.9,1508.4 2596.4,1512.9 2594.9,1503.9 2592.9,1505.1 2591.4,1507.8 2589.9,1503.3 2588.4,1502.3 2586.9,1509.7 2585.4,1505 2582.1,1508 2580.6,1519.2 2579.1,1508 2574.2,1504.2 2572.7,1509.7 2571.2,1499.8 2566.2,1493.5 2564.7,1501.8 2563.2,1493.7 2558.3,1498.3 2556.8,1506.6 2555.3,1498.6 2552,1499.5 2550.5,1509.7 2549,1502.6 2544.1,1511.5 2542.6,1524 2541.1,1514 2536.2,1512.5 2534.7,1522.4 2533.2,1514.2 2529.2,1519.3 2527.7,1531.9 2526.2,1519.7 2523.8,1517.1 2522.3,1523.1 2520.8,1511.7 2519.7,1511.1 2518.2,1519.2 2516.7,1516.5 2514,1530.3 2512.5,1547.7 2511,1531.5 2507.7,1516.5 2506.2,1522.4 2504.7,1510.7 2499.8,1506.1 2498.3,1516.1 2496.8,1507.2 2496.1,1507.1 2494.6,1517.9 2493.1,1509.1 2490.3,1512.2 2488.8,1522.4 2487.3,1511.8 2482.4,1509.3 2480.9,1519.2 2479.4,1508.9 2475.1,1511.8 2473.6,1519.2 2472.1,1508.5 2469.7,1506.1 2468.2,1509.7 2466.7,1500.1 2464.3,1492.6 2462.8,1500.3 2461.3,1493.3 2459.6,1493.8 2458.1,1505 2456.6,1496.3 2453.9,1494.4 2452.4,1500.3 2450.9,1494.7 2446,1502.7 2444.5,1519.2 2443,1508.7 2438.1,1516 2436.6,1530.3 2435.1,1517.8 2433.2,1519 2431.7,1526.2 2430.2,1517.7 2428.6,1515 2427.1,1525.6 2425.6,1511.5 2422.3,1502.9 2420.8,1506.6 2419.3,1497.1 2414.3,1500.1 2412.8,1512.9 2411.3,1504.6 2411.2,1505.3 2409.7,1522.4 2408.2,1511.4 2404.9,1512.7 2403.4,1522.4 2401.9,1513 2398.5,1520 2397,1531.9 2395.5,1516.5 2390.6,1509.5 2389.1,1519.2 2387.6,1508.7 2382.7,1513 2381.2,1522.4 2379.7,1512.2 2374.8,1504.4 2373.3,1512.9 2371.8,1503.8 2366.9,1500.8 2365.4,1509.7 2363.9,1501.1 2359,1499.5 2357.5,1506.6 2356,1496 2352.6,1492 2351.1,1500.3 2349.6,1493.7 2346.4,1496.4 2344.9,1500.9 2343.4,1497.4 2341.6,1499.4 2340.1,1511.3 2338.6,1500.5 2336.8,1496.6 2335.3,1503.4 2333.8,1497.5 2329.9,1499.4 2328.4,1511.3 2326.9,1498.6 2322.6,1493.8 2321.1,1500.3 2319.6,1493.3 2314,1507.7 2312.5,1524 2311,1506.7 2308.3,1503.7 2306.8,1511.3 2305.3,1497.4 2302,1487.5 2300.5,1493.9 2299,1483.2 2297.3,1486.1 2295.8,1493.9 2294.3,1484.1 2290,1480.5 2288.5,1487.6 2287,1477.6 2284.6,1477.1 2283.1,1484.4 2281.6,1477.9 2276.7,1475.7 2275.2,1484.4 2273.7,1476.6 2272.6,1478.9 2271.1,1486.8 2269.6,1480.6 2267.2,1482.5 2265.7,1490.8 2264.2,1480.2 2260.2,1472.7 2258.7,1478.1 2257.2,1474.8 2251.4,1492.9 2249.9,1506.6 2248.4,1496.3 2245,1496 2243.5,1505 2242,1496.9 2238.7,1495.9 2237.2,1506.6 2235.7,1498.1 2231.4,1504.4 2229.9,1512.9 2228.4,1502.6 2226.1,1494.4 2224.6,1500.3 2223.1,1491.1 2218.1,1489.8 2216.6,1497.1 2215.1,1491.5 2211.8,1497.3 2210.3,1506.6 2208.8,1499.7 2205.5,1506.6 2204,1519.2 2202.5,1507.3 2197.6,1499.2 2196.1,1505 2194.6,1495 2189.7,1489.9 2188.2,1498.7 2186.7,1489.9 2181.8,1492.9 2180.3,1500.3 2178.8,1492.6 2178.1,1491.3 2176.6,1494.7 2175.1,1490.1 2172.3,1490.7 2170.8,1500.3 2169.3,1494.8 2167.5,1502.8 2166,1517.7 2164.5,1504.7 2159.6,1493.4 2158.1,1498.7 2156.6,1492.9 2153.2,1492.6 2151.7,1499.5 2150.2,1495.1 2148.5,1496.2 2147,1506.6 2145.5,1494.9 2142.2,1491.8 2140.7,1500.3 2139.2,1492.4 2137.4,1497.7 2135.9,1509.7 2134.4,1499.4 2132.7,1495.6 2131.2,1503.4 2129.7,1493.6 2124.8,1484.4 2123.3,1490.8 2121.8,1486.8 2120.1,1490.1 2118.6,1501.1 2117.1,1496.5 2114.7,1503 2113.2,1517.7 2111.7,1505 2105.8,1505.5 2104.3,1517.7 2102.8,1505.1 2097.9,1496.3 2096.4,1501.8 2094.9,1494.2 2093.6,1495.2 2092.1,1501.2 2090.6,1495.9 2088.4,1495.7 2086.9,1503.4 2085.4,1493.4 2079.9,1484.8 2078.4,1490.8 2076.9,1483.2 2072.6,1492.2 2071.1,1506.6 2069.6,1500.7 2065.3,1511 2063.8,1530.3 2062.3,1512.7 2061.5,1506.9 2060,1516.1"/>
<polygon points="2604.9,1452.8 2606.4,1460.9 2607.6,1459.7 2609.1,1448 2610.6,1460.4 2612.9,1464.6 2614.4,1455.9 2615.9,1468.4 2621.8,1468.3 2623.3,1455.9 2624.8,1465.9 2626.6,1468.9 2628.1,1458.5 2629.6,1468.6 2631.9,1469.1 2633.4,1459.1 2634.9,1469.1 2640.8,1471.3 2642.3,1462.3 2643.8,1472.2 2644.6,1468.4 2646.1,1457.2 2647.6,1465.8 2650.3,1462.5 2651.8,1448 2653.3,1458.9 2659.1,1451.4 2660.6,1438.5 2662.1,1453.1 2667.7,1456.4 2669.2,1448 2670.7,1457.2 2675.6,1459.6 2677.1,1449.6 2678.6,1463 2682.6,1467.8 2684.1,1455.9 2685.6,1461.6 2688.2,1452.3 2689.7,1436.3 2691.2,1450.7 2695.1,1451 2696.6,1439.3 2698.1,1449.9 2699.3,1449.8 2700.8,1440.1 2702.3,1452.8 2703,1456.8 2704.5,1449.7 2706,1458.5 2708.8,1466 2710.3,1455.9 2711.8,1464.6 2713.1,1464.8 2714.6,1451.4 2716.1,1459.6 2718.3,1456.3 2719.8,1443.3 2721.3,1456.4 2726.2,1461.2 2727.7,1448 2729.2,1464.9 2734.1,1472.2 2735.6,1462.3 2737.1,1469.4 2742,1462.8 2743.5,1448 2745,1458.6 2750,1457.8 2751.5,1444.9 2753,1457.7 2758.5,1456.5 2760,1446.5 2760,1493.9 2758.5,1484 2753,1482 2751.5,1490.8 2750,1483 2745,1483.1 2743.5,1493.9 2742,1489.7 2737.1,1501.8 2735.6,1514.5 2734.1,1502.4 2729.2,1492.1 2727.7,1501.8 2726.2,1491.8 2721.3,1487.7 2719.8,1497.1 2718.3,1488.8 2716.2,1489.9 2714.7,1499.2 2713.2,1492 2711.8,1491.2 2710.3,1503.4 2708.8,1490.2 2706.8,1486.8 2705.3,1492.1 2703.8,1483.4 2702.3,1480.2 2700.8,1487.6 2699.3,1476.5 2696.4,1479.2 2694.9,1482.7 2693.4,1476.8 2691.2,1476.3 2689.7,1487.6 2688.2,1481.1 2685.6,1494.4 2684.1,1509.7 2682.6,1494.6 2678.6,1487.6 2677.1,1495.5 2675.6,1483.7 2670.7,1481.2 2669.2,1487.6 2667.7,1478.2 2662.1,1478.5 2660.6,1487.6 2659.1,1478.6 2653.3,1484.6 2651.8,1493.9 2650.3,1485.4 2648,1490.1 2646.5,1499.6 2645,1493.3 2643.8,1494.4 2642.3,1506.6 2640.8,1496.6 2634.9,1496.2 2633.4,1506.6 2631.9,1494.5 2630.7,1494.6 2629.2,1503.2 2627.7,1492.9 2624.8,1492.2 2623.3,1501.8 2621.8,1492.2 2615.9,1497.1 2614.4,1509.7 2612.9,1496.2 2610.6,1489.7 2609.1,1498.7 2607.6,1490.1 2606.4,1491.1 2604.9,1500.3"/>
<polygon points="2759.9,1458 2761.4,1467.6 2765.2,1470.5 2766.7,1458 2768.2,1468.8 2771.5,1466.1 2773,1454.5 2774.5,1461.9 2775.4,1459.3 2776.9,1448.9 2778.4,1462.8 2779.9,1466.9 2781.4,1458 2782.9,1468.7 2786.7,1467.9 2788.2,1458 2789.7,1469.6 2792.4,1475.2 2793.9,1463.6 2795.4,1474.2 2799.1,1466.7 2800.6,1456.9 2802.1,1465.6 2805.9,1467.3 2807.4,1458 2808.9,1472.2 2810,1470.4 2811.5,1468.4 2813,1477.3 2815,1476.4 2816.5,1469.3 2818,1481.1 2819.8,1482.3 2821.3,1474.2 2822.8,1482.4 2824,1481.6 2825.5,1472.7 2827,1484.9 2829.6,1488 2831.1,1474.9 2832.6,1485.9 2835.3,1478.9 2836.8,1465.9 2838.3,1471.3 2841,1466.2 2842.5,1450.1 2844,1464.8 2847.7,1468.5 2849.2,1461.4 2850.7,1472.6 2855.6,1470.5 2857.1,1459.1 2858.6,1466.6 2863.6,1462.2 2865.1,1452.3 2866.6,1461.8 2871.5,1461.9 2873,1450.1 2874.5,1456.6 2876.4,1453.8 2877.9,1441 2879.4,1455.9 2882.8,1467.8 2884.3,1456.9 2885.8,1466.2 2888.4,1461.9 2889.9,1445.6 2891.4,1459.1 2895.2,1461.9 2896.7,1451.2 2898.2,1461.4 2902,1466.1 2903.5,1456.9 2905,1467.2 2903.1,1465.3 2904.6,1459.1 2904.6,1488.5 2903.1,1484.4 2905,1482.2 2903.5,1493 2902,1486.3 2898.2,1488.7 2896.7,1497.5 2895.2,1487.6 2891.4,1487.4 2889.9,1499.8 2888.4,1494.9 2885.8,1502.8 2884.3,1517.9 2882.8,1499.3 2879.4,1483.4 2877.9,1488.5 2876.4,1481.9 2874.5,1481.2 2873,1493 2871.5,1482.9 2866.6,1483.8 2865.1,1490.8 2863.6,1483.6 2858.6,1487.8 2857.1,1497.5 2855.6,1490.4 2850.7,1495.2 2849.2,1506.6 2847.7,1494.9 2844,1491 2842.5,1497.5 2841,1490.2 2838.3,1497.8 2836.8,1511.1 2835.3,1507.3 2832.6,1513.7 2831.1,1529.2 2829.6,1517 2827,1513.4 2825.5,1520.1 2824,1508.9 2822.6,1508.3 2821.1,1517.9 2819.6,1508.2 2818,1508.2 2816.5,1515.6 2815,1504.2 2814.4,1503.3 2812.9,1509.1 2811.4,1499.5 2808.9,1496.8 2807.4,1503.2 2805.9,1491.8 2802.1,1487.7 2800.6,1493 2799.1,1489 2795.4,1500.2 2793.9,1515.6 2792.4,1502.6 2789.7,1494.7 2788.2,1499.8 2786.7,1490.7 2782.9,1494 2781.4,1504.3 2779.9,1489.7 2778.4,1486.3 2776.9,1493 2775.4,1484.5 2772.5,1489.4 2771,1499.8 2769.5,1494.8 2768.2,1493.3 2766.7,1506.6 2765.2,1495.5 2761.4,1489.9 2759.9,1497.5"/>
<path d="M349.1 1490.8V1536.6" stroke-width="3.8"/>
<path d="M364.2 1490.8V1535.1" stroke-width="2.8"/>
<path d="M400.6 1490.8V1520.8" stroke-width="3.2"/>
<path d="M438.3 1490.8V1544.6" stroke-width="3.8"/>
<path d="M419.6 1506.6V1536.6" stroke-width="4.4"/>
<path d="M512 1506.6V1525.6" stroke-width="2.8"/>
<path d="M467.1 1506.6V1528.7" stroke-width="3.2"/>
<path d="M1446.8 1519.1V1569.1" stroke-width="2.5"/>
<path d="M1507.5 1493.8V1568.2" stroke-width="2.8"/>
<path d="M1564.5 1506.5V1539.7" stroke-width="3.8"/>
<path d="M1662.3 1506.5V1620.4" stroke-width="3.8"/>
<path d="M1690.1 1506.5V1674.2" stroke-width="4.4"/>
<path d="M1677.5 1522.3V1560.3" stroke-width="3.8"/>
<path d="M1705.9 1506.5V1533.4" stroke-width="2.8"/>
<path d="M1822.4 1500.1V1517.5" stroke-width="2.8"/>
<path d="M1990.1 1506.5V1525.4" stroke-width="2.8"/>
<path d="M2005.9 1506.5V1530.2" stroke-width="2.8"/>
<path d="M2204 1506.6V1656.9" stroke-width="4.4"/>
<polygon points="2226.8,1500.3 2233.1,1500.3 2230.9,1668 2228.9,1668" stroke-width="3"/>
<path d="M2295.8 1484.4V1552.5" stroke-width="2.5"/>
<path d="M2409.7 1506.6V1565.1" stroke-width="3.8"/>
<path d="M2473.6 1506.6V1550.9" stroke-width="3.2"/>
<path d="M2473.6 1584.1V1605.3" stroke-width="2.5"/>
<path d="M2512.5 1519.2V1547.7" stroke-width="3.8"/>
<path d="M2063.8 1512.9V1530.3" stroke-width="3.8"/>
<path d="M2603.7 1512.9V1535.1" stroke-width="3.2"/>
<path d="M2312.5 1506.6V1524" stroke-width="3.2"/>
<path d="M2397 1519.2V1531.9" stroke-width="3.2"/>
<path d="M2884.3 1488.5V1517.9" stroke-width="3.2"/>
<path d="M2831.1 1506.6V1529.2" stroke-width="4.5"/>
<path d="M2793.9 1497.5V1515.6" stroke-width="2.7"/>
<path d="M1926.2 1272.3V1215.4" stroke-width="6"/>
<path d="M1928.2 1284.3V1207.4" stroke-width="3"/>
<circle cx="1928.4" cy="1315.9" r="2.7" stroke="none"/>
<circle cx="1928.4" cy="1327.7" r="2.7" stroke="none"/>
<circle cx="1928.4" cy="1336.2" r="2.7" stroke="none"/>
<circle cx="1929.1" cy="1376.1" r="2.7" stroke="none"/>
<circle cx="1931.3" cy="1482.1" r="2.7" stroke="none"/>
<circle cx="1928.4" cy="1286.5" r="2.7" stroke="none"/>
<circle cx="1927.8" cy="1278.6" r="2.7" stroke="none"/>
<circle cx="1928.4" cy="1272.9" r="2.7" stroke="none"/>
<circle cx="1924.9" cy="1271.6" r="2.7" stroke="none"/>
<circle cx="837.3" cy="1515.4" r="2.7" stroke="none"/>
<circle cx="844.3" cy="1497.1" r="2.7" stroke="none"/>
<circle cx="867.4" cy="1523.4" r="2.7" stroke="none"/>
<circle cx="923.4" cy="1436.3" r="2.7" stroke="none"/>
<circle cx="953.5" cy="1444.9" r="2.7" stroke="none"/>
<circle cx="838" cy="1448" r="2.7" stroke="none"/>
<circle cx="848.1" cy="1444.2" r="2.7" stroke="none"/>
<circle cx="857" cy="1519.2" r="2.7" stroke="none"/>
<circle cx="811.7" cy="1470.2" r="2.7" stroke="none"/>
</g>
<g fill="#b30000" stroke="#b30000" stroke-width="3.5" stroke-linejoin="round" stroke-linecap="round">
<polygon points="330.7,1891.8 332.7,1875.8 334.7,1883 336.7,1884.6 338.7,1888.5 340.7,1897.2 342.7,1916.3 344.8,1913 346.8,1886.6 348.8,1842.9 350.8,1812.6 352.8,1820.8 354.8,1829.1 356.8,1864.9 358.8,1862.5 360.8,1875.9 362.8,1870.1 364.8,1859.3 366.8,1813.4 368.8,1827.2 370.9,1821.4 372.9,1811.5 374.9,1810.7 376.9,1825.8 378.9,1838.2 380.9,1825.6 382.9,1840 384.9,1837.8 386.9,1851.8 388.9,1831 390.9,1827.9 392.9,1853.9 394.9,1826.8 397,1810.7 399,1803.9 401,1780.2 403,1819.3 405,1845.4 407,1871.8 409,1861.7 411,1865.5 413,1893.1 415,1894.3 417,1898.4 419,1883.5 421,1862.6 423.1,1863.4 425.1,1837.4 427.1,1824.9 429.1,1829.4 431.1,1846 433.1,1852.9 435.1,1862.1 437.1,1845.8 439.1,1883.1 441.1,1868.1 443.1,1897.5 445.1,1911.9 447.1,1888.3 449.2,1886.2 451.2,1897.3 453.2,1873.7 455.2,1880.1 457.2,1882.3 459.2,1873.9 461.2,1844.9 463.2,1823.3 465.2,1829.2 467.2,1789.7 469.2,1817.1 471.2,1860.3 473.2,1848.2 475.3,1829.1 477.3,1852.1 479.3,1857 481.3,1875.1 483.3,1883.5 485.3,1906.4 487.3,1906.2 489.3,1901.6 491.3,1913.8 493.3,1906.1 495.3,1886.9 497.3,1883.2 499.3,1896.6 501.4,1922.8 503.4,1947.1 505.4,1952.5 507.4,1933.4 509.4,1881.9 511.4,1852.3 513.4,1859.1 515.4,1885.8 517.4,1919.2 519.4,1898.9 521.4,1881.1 523.4,1844.9 525.4,1840.2 527.5,1859 529.5,1859.7 531.5,1866.9 533.5,1859 535.5,1854.8 537.5,1852.4 539.5,1837.6 541.5,1832.1 543.5,1820.3 545.5,1852.9 547.5,1869.9 549.5,1884.4 551.6,1878.2 553.6,1880.4 555.6,1868.3 557.6,1848.2 559.6,1853 561.6,1855 563.6,1854 565.6,1826.5 567.6,1825.6 569.6,1841.7 569.6,1890.5 567.6,1902.9 565.6,1915.2 563.6,1937.6 561.6,1949.1 559.6,1951.5 557.6,1944.1 555.6,1961.1 553.6,1951.8 551.6,1973.8 549.5,1967.8 547.5,1950.5 545.5,1952.1 543.5,1919 541.5,1925.4 539.5,1934.5 537.5,1964.7 535.5,1952 533.5,1941.5 531.5,1944.9 529.5,1941.6 527.5,1952.3 525.4,1930.3 523.4,1929.8 521.4,1962.7 519.4,1997.4 517.4,2013.5 515.4,1992.9 513.4,1949.7 511.4,1957.6 509.4,2001 507.4,2068.3 505.4,2049.4 503.4,2025.3 501.4,2016.6 499.3,1977 497.3,1958.1 495.3,1989.8 493.3,1988.3 491.3,2033.5 489.3,2031.4 487.3,2022.8 485.3,1982.9 483.3,1967 481.3,1968.7 479.3,1938.6 477.3,1931.8 475.3,1940.7 473.2,1948.5 471.2,1985.3 469.2,1948.9 467.2,1919.4 465.2,1909.4 463.2,1912 461.2,1941.7 459.2,1948.3 457.2,1965.6 455.2,1971.6 453.2,2001.2 451.2,2013.2 449.2,2003.6 447.1,2025.1 445.1,2022.5 443.1,1998.1 441.1,1983 439.1,1994.4 437.1,1975.4 435.1,1982.1 433.1,1987.9 431.1,1959.7 429.1,1936.1 427.1,1936.4 425.1,1948.2 423.1,1935.5 421,1940.2 419,1964.9 417,1985.3 415,2003.8 413,1986.9 411,1981.2 409,1973.8 407,1955 405,1951.7 403,1926.9 401,1887.9 399,1910.8 397,1916.2 394.9,1919.1 392.9,1940.3 390.9,1939.4 388.9,1990.4 386.9,1982.2 384.9,1970.5 382.9,1940.7 380.9,1913.5 378.9,1929.9 376.9,1911.3 374.9,1914.8 372.9,1917 370.9,1902.1 368.8,1917.6 366.8,1906.3 364.8,1935.5 362.8,1968.1 360.8,1960.4 358.8,1954 356.8,1941.5 354.8,1927.3 352.8,1954.6 350.8,1950.7 348.8,1968.6 346.8,1995.2 344.8,2024 342.7,2029 340.7,2013.4 338.7,2008.7 336.7,1996 334.7,1973.8 332.7,1972.3 330.7,1944.8"/>
<path d="M330.1 1869.9L331.3 1958.5L332.6 1852.5L333.8 1999.6L335.6 1874.3L337.4 1860.4L338.6 2024.9L340.1 1897.9L342.2 2046.7L343.7 1888.9L344.9 2062.9L346.7 1857.9L348.5 1768.6L349.7 2012.3L351.2 1799.5L353.3 1968.4L354.8 1814.5L356 1958.5L357.5 1855.7L359.6 1985.3L361.1 1857.2L362.3 1999.6L364.4 1840L366.5 1793.9L367.7 1942.7L369.2 1791.2L371.3 1914.7L372.8 1779.7L374 1949L375.8 1820.4L378.3 1950.4L380.1 1798.7L381.3 1952.2L383 1810.1L385.3 1992.2L387.1 1778.1L388.3 2045.5L390.5 1832.1L392.8 1822.4L394 1949L395.8 1817.3L398.2 1932.6L400 1730.6L401.2 1942.7L403.3 1824.6L405.4 1838.2L406.6 1990.1L408.1 1841.3L410.2 2005.3L411.7 1831.9L412.9 2018.6L414 1869.9L415.2 2037.6L417 1888.6L419.4 1972L421.2 1844.6L422.4 1942.7L424.3 1826.3L426.7 1959.8L428.5 1776.5L429.7 1996.5L431.8 1800.5L433.9 1795.5L435.1 2023.4L436.6 1817.2L438.7 1985.1L440.2 1843L441.4 2032.8L443.2 1870.3L445.7 2012.3L447.5 1869.9L448.7 2051.8L450.8 1867L452.9 1847.7L454.1 2024.9L455.6 1877.7L457.7 1982.1L459.2 1831.9L460.4 1969.6L462.2 1841.1L464.7 1929.5L466.5 1762.3L467.7 1942.7L470.3 1812.9L471.5 2012.3L473.7 1851.7L476 1809.7L477.2 1958.5L478.9 1852.1L481.2 1973.2L482.9 1857.2L484.1 2012.3L485.7 1882.5L487.8 2015.2L489.3 1876.2L490.5 2070.8L492.5 1882.4L495.1 2006.3L497.2 1847.7L498.4 1977.5L500.2 1904.2L501.9 1895.2L503.1 2069.2L504.9 1933.5L506.7 1901.5L507.9 2107.2L509.7 1874L511.4 1782.8L512.6 1996.5L514.9 1865.3L517.1 1885.7L518.3 2040.8L520.4 1859.6L522.5 1820.8L523.7 1971.1L525.5 1835.7L528 1944.5L529.8 1822.4L531 1974.3L532.5 1862.8L534.6 1954.2L536.1 1838.2L537.3 1994.9L538.8 1826.1L540.9 1943.7L542.4 1789.2L543.6 1955.3L545.4 1834.3L547.7 1974.3L549.4 1869.9L550.6 2001.2L552.1 1854L554.2 1992.3L555.7 1809.7L556.9 1993.3L558.4 1827L560.5 1965L562.1 1809.7L563.3 1977.5L565 1815.4L566.8 1806.6L568 1933.2L569 1831.9L570.2 1914.2" fill="none" stroke-width="3.4"/>
<polygon points="1399.6,1844.1 1401.6,1854.8 1403.6,1833.4 1405.6,1837.3 1407.6,1849.5 1409.6,1829.5 1411.6,1818.3 1413.6,1813.3 1415.6,1806.6 1417.6,1806.5 1419.6,1821.8 1421.6,1837.9 1423.6,1858.8 1425.6,1858.1 1427.6,1877.7 1429.6,1890.7 1431.6,1918.1 1433.6,1909 1435.6,1859.6 1437.6,1850.7 1439.6,1839.5 1441.6,1853.9 1443.6,1859.2 1445.6,1839.3 1447.6,1804.5 1449.6,1812.9 1451.6,1819.3 1453.6,1826.8 1455.6,1878.8 1457.6,1893.2 1459.6,1847.6 1461.6,1850.2 1463.6,1832.3 1465.6,1822.8 1467.6,1796.4 1469.6,1804.9 1471.6,1808.8 1473.6,1857.5 1475.6,1839.5 1477.6,1795.1 1479.6,1791.1 1481.6,1822.6 1483.6,1830 1485.6,1834.7 1487.6,1854 1489.6,1841.3 1491.6,1791.3 1493.6,1784.6 1495.6,1810.2 1497.6,1802.7 1499.6,1834.7 1501.6,1865.2 1503.6,1828.3 1505.6,1811.8 1507.6,1797.9 1509.6,1819.8 1511.6,1848.9 1513.6,1866.3 1515.6,1883.4 1517.6,1919.8 1519.6,1929.6 1521.6,1933.9 1523.6,1915.2 1525.6,1922.1 1527.6,1931.6 1529.6,1908.8 1531.6,1908 1533.6,1859.4 1535.6,1852.6 1537.6,1877.8 1539.6,1871.9 1541.6,1882.5 1543.6,1912 1545.6,1916.9 1547.6,1918.7 1549.6,1912.1 1551.6,1927.1 1553.6,1891 1555.6,1879 1557.6,1848.9 1559.6,1825.4 1561.6,1817.2 1563.6,1784.6 1565.6,1816.1 1567.6,1831.8 1569.6,1875 1571.6,1935.9 1573.6,1916.6 1575.6,1915.7 1577.6,1914.8 1579.6,1886.9 1581.6,1870.3 1583.6,1874.4 1585.6,1862.2 1587.6,1871 1589.6,1851 1591.6,1856.1 1593.6,1878.3 1595.6,1892.8 1597.6,1891 1599.6,1866.7 1601.6,1853.7 1603.6,1864.5 1605.6,1865.4 1607.6,1867.6 1609.6,1877.2 1611.6,1857.8 1613.6,1893.6 1615.6,1905.3 1617.6,1909.6 1619.6,1882 1621.6,1895.8 1623.6,1875.7 1625.6,1915.2 1627.6,1910.7 1629.6,1936 1631.6,1921.4 1633.6,1909.1 1635.6,1892.7 1637.6,1886.8 1639.6,1877.9 1641.6,1885 1643.6,1882.5 1645.6,1893.8 1647.6,1896.6 1649.6,1895.8 1651.6,1903.3 1653.6,1923.8 1655.6,1904.8 1657.6,1901.6 1659.6,1866.4 1661.6,1850.6 1663.6,1867.2 1665.6,1868.5 1667.6,1862.2 1669.6,1858.8 1671.6,1859.2 1673.6,1820.9 1675.6,1825 1677.6,1803.5 1679.6,1806.3 1681.6,1792.8 1683.6,1800.3 1685.6,1824.8 1687.6,1885.2 1689.6,1891.7 1691.6,1884.4 1693.6,1897.1 1695.6,1883.4 1697.6,1881.8 1699.6,1890.6 1701.6,1885.2 1703.6,1856.8 1705.6,1868.6 1707.6,1854.7 1709.6,1903.7 1711.6,1910.9 1711.6,1984.4 1709.6,1980.3 1707.6,1997.1 1705.6,2001.6 1703.6,2000.6 1701.6,2000.2 1699.6,1977.3 1697.6,1970.2 1695.6,1977.3 1693.6,1978.8 1691.6,1977.5 1689.6,1997.2 1687.6,1962.3 1685.6,1927.4 1683.6,1911.5 1681.6,1925.6 1679.6,1922.6 1677.6,1910.2 1675.6,1930.9 1673.6,1968.2 1671.6,1970.5 1669.6,2006.9 1667.6,1995.2 1665.6,1987 1663.6,1964.6 1661.6,1945.1 1659.6,1981.8 1657.6,1998.7 1655.6,2032 1653.6,2027.5 1651.6,2008 1649.6,1994.5 1647.6,1970.5 1645.6,1970.7 1643.6,1975 1641.6,1966.3 1639.6,1974.4 1637.6,1985.4 1635.6,2008.4 1633.6,1991.9 1631.6,1999.2 1629.6,2007.4 1627.6,2000.5 1625.6,1992 1623.6,2007.6 1621.6,2017.3 1619.6,2004 1617.6,1993 1615.6,2008.2 1613.6,1974.2 1611.6,1983.7 1609.6,1963.7 1607.6,1964.7 1605.6,1958.4 1603.6,1955.1 1601.6,1960.7 1599.6,1986.6 1597.6,1979.8 1595.6,1993.6 1593.6,1968 1591.6,1955.6 1589.6,1951.8 1587.6,1956.1 1585.6,1955 1583.6,1970.7 1581.6,1987.3 1579.6,2005.9 1577.6,2032.4 1575.6,2013.7 1573.6,2058.4 1571.6,2047.1 1569.6,2009.9 1567.6,1961.5 1565.6,1936.2 1563.6,1919.9 1561.6,1947.1 1559.6,1955 1557.6,1949.4 1555.6,1976.1 1553.6,1995.2 1551.6,2019.3 1549.6,2019.6 1547.6,2032.7 1545.6,2042.9 1543.6,2040.5 1541.6,2004.1 1539.6,2015.6 1537.6,1985.2 1535.6,1952.6 1533.6,1986.4 1531.6,2015.4 1529.6,2032.8 1527.6,2046.3 1525.6,2054.7 1523.6,2051.5 1521.6,2045 1519.6,2016.9 1517.6,2006.7 1515.6,1976.5 1513.6,1955 1511.6,1953.8 1509.6,1952 1507.6,1915.1 1505.6,1936.9 1503.6,1977.5 1501.6,2015.1 1499.6,1962.5 1497.6,1921.3 1495.6,1929 1493.6,1907.1 1491.6,1926.2 1489.6,1948.5 1487.6,1970.6 1485.6,1954.3 1483.6,1938.4 1481.6,1907.7 1479.6,1891.7 1477.6,1934.1 1475.6,1958.1 1473.6,1972.6 1471.6,1932.9 1469.6,1923.5 1467.6,1909.5 1465.6,1932.6 1463.6,1950.3 1461.6,1979.7 1459.6,1999.9 1457.6,2029.6 1455.6,1986 1453.6,1969.2 1451.6,1940.4 1449.6,1916.3 1447.6,1969.3 1445.6,1962.1 1443.6,1968 1441.6,1977.6 1439.6,1963.3 1437.6,1965.8 1435.6,1976.8 1433.6,2015.8 1431.6,2022.7 1429.6,2007.8 1427.6,1992.7 1425.6,1961.9 1423.6,1958.5 1421.6,1960.6 1419.6,1930.4 1417.6,1936.3 1415.6,1949.9 1413.6,1947.5 1411.6,1925.3 1409.6,1915.5 1407.6,1951 1405.6,1934.5 1403.6,1939.5 1401.6,1950.5 1399.6,1953"/>
<path d="M1399 1812.9L1400.2 1990.1L1402.5 1847.1L1404.7 1806.6L1405.9 1987L1408 1813L1410.1 1789.2L1411.3 1958.5L1413.3 1789L1416 1942.1L1418 1770.2L1419.2 1987L1421.5 1803.8L1423.7 1806.6L1424.9 2005.9L1426.9 1831.3L1429.6 1998.3L1431.6 1869.9L1432.8 2055L1434.6 1865.1L1436.4 1828.7L1437.6 1996.5L1439.1 1831.6L1441.2 1999.2L1442.7 1790.8L1443.9 2043.9L1445.6 1796.3L1447.9 1990.7L1449.7 1774.9L1450.9 1964.8L1452.7 1811.5L1455.1 2009.4L1456.9 1838.2L1458.1 2055L1459.6 1816.3L1461.8 1989.9L1463.3 1771.8L1464.5 1980.6L1466.2 1801.3L1468 1759.1L1469.2 1964.8L1471.5 1795.7L1473.7 1806.6L1474.9 2002.8L1477 1805.3L1479.1 1743.3L1480.3 1949L1482.1 1797L1484.5 1984.9L1486.4 1822.4L1487.6 2012.3L1489.7 1790.4L1491.7 1757.5L1492.9 1942.7L1495 1788.9L1497.1 1762.3L1498.3 1964.8L1501.2 1822.4L1502.4 2043.9L1504.5 1820.5L1506.6 1762.3L1507.8 1964.8L1509.6 1801.9L1512.1 1980.2L1513.9 1850.9L1515.1 1996.5L1517.2 1905.8L1519.3 1898.4L1520.5 2066.1L1522.1 1932.8L1524.3 2067.9L1526.5 1913.1L1528.1 1885.7L1529.3 2085.1L1530.8 1887.2L1533 2014.6L1534.5 1819.2L1535.7 1996.5L1537.7 1834.8L1540.3 2032.7L1542.4 1863.5L1543.6 2069.2L1545.6 1901.3L1548.2 2039.6L1550.3 1895.2L1551.5 2059.7L1553.5 1886.5L1556.2 2005.9L1558.2 1816.1L1559.4 1983.8L1560.9 1797.8L1563 1959L1564.5 1740.1L1565.7 1964.8L1567.4 1811.8L1569.8 2034.9L1571.5 1901.5L1572.7 2091.4L1574.5 1924.5L1576.9 2058.3L1578.8 1847.7L1580 2047.1L1581.7 1887.1L1584.1 2004.7L1586.5 1865.6L1588.3 1828.7L1589.5 1977.5L1591.2 1841.1L1593.6 1982.1L1596 1858L1597.8 1850.9L1599 2028.1L1600.7 1839.8L1602.5 1827.2L1603.7 1980.6L1605.5 1857L1608 1961L1609.8 1830.3L1611 1996.5L1613.1 1858.2L1615.2 1869.9L1616.4 2031.3L1618.2 1893.3L1620.6 2018.6L1622.4 1849.3L1623.6 2039.2L1625.4 1908.1L1627.7 2043.3L1629.4 1901.5L1630.6 2047.1L1632.8 1890L1635.1 1854.1L1636.3 2034.4L1637.9 1859.9L1639.5 1852.5L1640.7 1996.5L1642.6 1878L1645 1973.3L1646.8 1873L1648 1996.5L1649.6 1903.7L1651.8 2033.5L1653.5 1876.2L1654.7 2083.5L1656.6 1872.5L1659.1 1984.4L1661 1820.8L1662.2 1983.8L1664.3 1824.3L1666.9 2016.3L1669 1822.4L1670.2 2047.1L1671.7 1842.5L1673.8 1979.2L1676 1819.5L1677.5 1754.4L1678.7 1949L1680.8 1769.1L1683.6 1946.2L1685.7 1790.8L1686.9 1971.1L1687.9 1869.9L1689.1 2028.1L1691.2 1871.3L1693.8 2007L1695.9 1857.2L1697.1 1996.5L1698.8 1847L1700.6 1831.9L1701.8 2040.8L1703.6 1819.1L1705.3 1800.3L1706.5 2034.4L1708.8 1857.8L1711 1888.9L1712.2 2018.6" fill="none" stroke-width="3.4"/>
<polygon points="1729.7,1867.7 1731.7,1859.8 1733.7,1862.1 1735.7,1848.9 1737.7,1853.6 1739.7,1868.2 1741.7,1898 1743.8,1912.4 1745.8,1947.7 1747.8,1946.7 1749.8,1935.7 1751.8,1924.2 1753.8,1906 1755.8,1921.7 1757.8,1909.5 1759.8,1914 1761.8,1915.9 1763.8,1933.4 1765.9,1906.2 1767.9,1896.9 1769.9,1878.2 1771.9,1899.6 1773.9,1908 1775.9,1940.4 1777.9,1922.2 1779.9,1900.4 1781.9,1902.2 1783.9,1893.9 1785.9,1901.2 1788,1913.2 1790,1926.5 1792,1910.6 1794,1914 1796,1894.1 1798,1890.9 1800,1891.4 1802,1867.9 1804,1880.8 1806,1872.3 1808.1,1858.4 1810.1,1865.9 1812.1,1846 1814.1,1862.9 1816.1,1907.1 1818.1,1875.7 1820.1,1846.6 1822.1,1831.8 1824.1,1851 1826.1,1860.9 1828.1,1864.4 1830.2,1858.6 1832.2,1850.5 1834.2,1838.7 1836.2,1828.7 1838.2,1855.8 1840.2,1887.6 1842.2,1926.5 1844.2,1925.6 1846.2,1912.5 1848.2,1909.3 1850.3,1926.7 1852.3,1913.7 1854.3,1942.7 1856.3,1941.2 1858.3,1916.4 1860.3,1916.5 1862.3,1906.4 1864.3,1920.7 1866.3,1930.6 1868.3,1931.6 1870.3,1944.9 1872.4,1925.7 1874.4,1922.8 1876.4,1930 1878.4,1940.1 1880.4,1944.3 1882.4,1919.3 1884.4,1929.1 1886.4,1912.7 1888.4,1897.7 1890.4,1902.2 1892.5,1906.7 1894.5,1898 1896.5,1894.9 1898.5,1881.7 1900.5,1894.2 1902.5,1902.6 1904.5,1903.8 1906.5,1906.6 1908.5,1891.2 1910.5,1867.9 1912.5,1836.3 1914.6,1824.8 1916.6,1851.7 1918.6,1884.7 1920.6,1912.2 1922.6,1909.4 1924.6,1921.5 1926.6,1919.5 1928.6,1952.8 1930.6,1969.1 1930.6,1991.9 1928.6,2011.6 1926.6,2028.6 1924.6,2021.7 1922.6,2035.4 1920.6,2000.3 1918.6,1985.6 1916.6,1946.2 1914.6,1928.6 1912.5,1945.2 1910.5,1963.7 1908.5,1979.5 1906.5,2001.8 1904.5,2017.2 1902.5,2011 1900.5,2006.1 1898.5,1997.2 1896.5,2015.8 1894.5,2012.4 1892.5,2023.6 1890.4,2018.7 1888.4,2010.2 1886.4,2025.4 1884.4,2021.3 1882.4,2030.7 1880.4,2030.2 1878.4,2022.2 1876.4,2047.7 1874.4,2036.6 1872.4,2028.5 1870.3,2059.5 1868.3,2033.3 1866.3,2011.5 1864.3,2009.6 1862.3,2013.7 1860.3,2009.8 1858.3,2025.8 1856.3,2034 1854.3,2030.3 1852.3,2029.6 1850.3,2008.4 1848.2,2006 1846.2,2013.7 1844.2,2010.6 1842.2,2016.9 1840.2,2018.9 1838.2,1984.7 1836.2,1933 1834.2,1947.4 1832.2,1958.7 1830.2,1945.5 1828.1,1947 1826.1,1946.3 1824.1,1948.8 1822.1,1961.3 1820.1,1951.7 1818.1,1969.3 1816.1,1978.2 1814.1,1950.2 1812.1,1935.8 1810.1,1943.3 1808.1,1944.3 1806,1970.8 1804,1971.4 1802,1982.2 1800,1985 1798,1990.6 1796,1996.5 1794,2020.5 1792,2017.8 1790,2023.5 1788,2018.6 1785.9,2008.3 1783.9,1999.9 1781.9,1996.9 1779.9,2025.7 1777.9,2028.5 1775.9,2034.4 1773.9,2005 1771.9,2005.9 1769.9,1968.1 1767.9,1984.3 1765.9,2009.1 1763.8,2021.7 1761.8,2017.5 1759.8,2024.3 1757.8,2004.4 1755.8,2015.8 1753.8,2007.5 1751.8,2008.7 1749.8,2042.3 1747.8,2040.6 1745.8,2046.2 1743.8,2005.2 1741.7,1980.5 1739.7,1952.6 1737.7,1943.8 1735.7,1946 1733.7,1939 1731.7,1952.2 1729.7,1963.3"/>
<path d="M1729.1 1838.2L1730.3 1994.9L1732.1 1853.3L1734.4 1975L1736.8 1840.7L1738.6 1822.4L1739.8 1964.8L1741.8 1876.2L1744.5 2036.5L1746.5 1933.2L1747.7 2093L1749.9 1923.2L1752.2 1880.9L1753.4 2028.1L1755.5 1910.3L1757.6 1876.2L1758.8 2056.6L1760.9 1889.2L1762.9 1901.5L1764.1 2053.4L1765.7 1913.9L1767.8 2010L1769.3 1836.6L1770.5 1996.5L1772.7 1869.9L1775 1901.5L1776.2 2077.2L1777.9 1918L1780.2 2027.2L1781.9 1858.8L1783.1 2034.4L1785 1892.3L1787.4 2043L1789.2 1901.5L1790.4 2056.6L1791.9 1917.8L1794.1 2032.7L1796.2 1892.6L1797.8 1852.5L1799 2028.1L1800.6 1853.2L1802.8 1991.1L1805 1857.9L1806.6 1827.2L1807.8 1996.5L1809.6 1838.4L1811.4 1827.2L1812.6 1964.8L1814.3 1862.9L1816.1 1869.9L1817.3 2021.8L1819.6 1831.1L1821.8 1789.2L1823 1980.6L1824.7 1831.6L1827 1961.8L1828.8 1841.4L1830 1990.1L1831.5 1832.6L1833.6 1951.1L1835.1 1803.4L1836.3 1958.5L1838.5 1866.3L1840.8 1869.9L1842 2074L1843.9 1877.2L1846.5 2023.9L1849 1917.2L1850.9 1887.3L1852.1 2043.9L1853.9 1895.5L1855.7 1901.5L1856.9 2081.9L1858.7 1898.8L1861.1 2044L1862.9 1869.9L1864.1 2028.1L1865.7 1893.2L1867.8 2065L1869.3 1917.3L1870.5 2086.6L1873.1 1888.9L1874.3 2075.6L1875.8 1912L1877.9 2055.5L1879.4 1904.7L1880.6 2056.6L1882.6 1903.5L1885.3 2044.9L1887.3 1873L1888.5 2064.5L1890 1880L1892.2 2017.6L1894.3 1883.4L1895.9 1844.6L1897.1 2040.8L1898.7 1855.8L1900.9 2030.6L1903.1 1868.4L1904.7 1876.2L1905.9 2034.4L1907.8 1864.5L1910.4 1999.9L1912.9 1837.3L1914.8 1787.6L1916 1971.1L1918.3 1865.9L1920.5 1879.4L1921.7 2059.7L1923.2 1927.3L1925.4 2047.6L1926.9 1901.5L1928.1 2050.3L1930 1964.8L1931.2 1996.5" fill="none" stroke-width="3.4"/>
<polygon points="1941.7,1923.8 1943.7,1937.3 1945.8,1944.8 1947.8,1937.1 1949.8,1938.5 1951.8,1925.5 1953.8,1924.5 1955.9,1891.9 1957.9,1902.6 1959.9,1877.6 1961.9,1853.9 1964,1829.8 1966,1845.1 1968,1850.4 1970,1888.8 1972,1895.5 1974.1,1881.3 1976.1,1844.8 1978.1,1851.6 1980.1,1834.4 1982.2,1842 1984.2,1811.3 1986.2,1802.6 1988.2,1785.4 1990.2,1807.1 1992.3,1844.8 1994.3,1870.2 1996.3,1830.5 1998.3,1793.2 2000.3,1771.9 2002.4,1792.3 2004.4,1800.3 2006.4,1805.6 2008.4,1812.6 2010.5,1831.1 2012.5,1817.4 2014.5,1839.5 2016.5,1830.7 2018.5,1823.8 2020.6,1821.9 2022.6,1814.9 2024.6,1852 2026.6,1840.1 2028.7,1839.2 2030.7,1852.4 2032.7,1867.1 2034.7,1841.4 2036.7,1843.4 2038.8,1845.8 2040.8,1857.2 2042.8,1883.7 2044.8,1902.6 2046.9,1890.1 2048.9,1885.1 2050.9,1891.1 2052.9,1890.3 2054.9,1886.2 2057,1865.9 2059,1866.6 2061,1863.7 2061,1987.1 2059,2007.1 2057,2013.8 2054.9,2026.7 2052.9,2028.3 2050.9,2007.5 2048.9,2000.2 2046.9,1980.6 2044.8,1986.2 2042.8,1978 2040.8,1954.1 2038.8,1934.2 2036.7,1962.2 2034.7,1951.5 2032.7,1946.3 2030.7,1964.4 2028.7,1975.6 2026.6,1955.3 2024.6,1978 2022.6,1968.4 2020.6,1975.7 2018.5,1944.9 2016.5,1936.4 2014.5,1949.3 2012.5,1945.4 2010.5,1929.1 2008.4,1920.8 2006.4,1914.8 2004.4,1899.1 2002.4,1918.9 2000.3,1908.7 1998.3,1918.9 1996.3,1950.7 1994.3,1965.3 1992.3,1955 1990.2,1929.3 1988.2,1923.5 1986.2,1912.9 1984.2,1923.5 1982.2,1922 1980.1,1924.3 1978.1,1924.1 1976.1,1939.8 1974.1,1952.6 1972,1965.9 1970,1976.6 1968,1943.8 1966,1961.2 1964,1955.7 1961.9,1973 1959.9,1991.4 1957.9,2014.9 1955.9,2022.2 1953.8,2008.2 1951.8,2003.2 1949.8,2029 1947.8,2032.1 1945.8,2038.1 1943.7,1997.9 1941.7,1976.2"/>
<path d="M1941.1 1914.2L1942.3 1996.5L1944.4 1923L1946.5 1920.5L1947.7 2083.5L1949.9 1914.3L1952.2 1895.2L1953.4 2028.1L1956 1857.2L1957.2 2064.5L1958.8 1879.6L1961 2022.9L1963.2 1838.4L1964.8 1787.6L1966 1983.8L1967.6 1817.6L1969.7 1958.7L1971.2 1869.9L1972.4 1996.5L1974.1 1856.9L1975.9 1822.4L1977.1 1958.5L1978.6 1835.3L1980.7 1927.3L1982.2 1806.6L1983.4 1955.3L1985 1787.5L1987.1 1949.4L1988.6 1741.7L1989.8 1949L1991.9 1819.6L1994 1838.2L1995.2 2013.9L1997.1 1815.9L1999 1743.3L2000.2 1964.8L2002.3 1789.4L2004.4 1774.9L2005.6 1926.8L2007.6 1785.6L2010.3 1941.8L2012.3 1781.3L2013.5 1977.5L2015.4 1789.7L2018 1976.2L2020.5 1798.6L2022.4 1789.2L2023.6 2012.3L2025.3 1823.4L2027.5 1993.1L2029.7 1821.3L2031.3 1819.2L2032.5 1996.5L2034 1840.6L2036.1 1981.7L2037.6 1809.7L2038.8 1977.5L2040.3 1856.8L2042.4 1979L2044 1863.5L2045.2 2002.8L2046.8 1871.3L2049 2026.8L2051.2 1886.9L2052.8 1869.9L2054 2056.6L2055.9 1869.7L2058.5 2003.7L2060.4 1806.6L2061.6 2028.1" fill="none" stroke-width="3.4"/>
<polygon points="2060,1846.4 2062,1835.7 2064,1812.9 2066,1829.1 2068,1813 2070,1844.8 2072,1881 2074,1898.8 2076,1896.2 2078,1926 2080,1941.2 2082,1929.3 2084,1913.9 2086,1910.5 2088,1923.7 2090,1904.4 2092,1934.7 2094,1922.1 2096,1932.4 2098,1933.6 2100,1912.4 2102,1880.9 2104,1888 2106,1902.8 2108,1917.2 2110,1898.4 2112,1887 2114,1878.4 2116,1883.9 2118,1876.1 2120,1900.9 2122,1910.9 2124,1888 2126,1894.8 2128,1879.4 2130,1866.3 2132,1861.2 2134,1857.5 2136,1856 2138,1871.5 2140,1885.2 2142,1873.3 2144,1880.9 2146,1892.3 2148,1876.9 2150,1876.3 2152,1892.5 2154,1888.1 2156,1913.2 2158,1919.9 2160,1888.8 2162,1866.8 2164,1872.4 2166,1846.4 2168,1870.6 2170,1896.6 2172,1895 2174,1905.3 2176,1909.3 2178,1921 2180,1915.3 2182,1929.6 2184,1892.4 2186,1886.6 2188,1868 2190,1870.9 2192,1850.2 2194,1854 2196,1827.8 2198,1834.6 2200,1814.9 2202,1779.5 2204,1785.6 2206,1797.1 2208,1783.5 2210,1805.6 2212,1832.3 2214,1819.3 2216,1826.5 2218,1838.7 2220,1839 2222,1840.7 2224,1797.9 2226,1778.8 2228,1794 2230,1816 2232,1861 2234,1837.7 2236,1827.3 2238,1833.7 2240,1838.2 2242,1858 2244,1871 2246,1846.3 2248,1831.1 2250,1834.7 2252,1864 2254,1882.6 2256,1922.2 2258,1913.9 2260,1940.2 2262,1924.5 2264,1915.2 2266,1888.9 2268,1906.5 2270,1892.2 2272,1898.3 2274,1912.9 2276,1897.6 2278,1914.4 2280,1911.6 2282,1912.8 2284,1899.2 2286,1909.6 2288,1908.7 2290,1896.5 2292,1881.5 2294,1840.8 2296,1859.6 2298,1894.1 2300,1896.8 2302,1862.9 2304,1841.5 2306,1833.9 2308,1809 2310,1820.3 2312,1804.2 2314,1814.2 2316,1852.7 2318,1891 2320,1908.5 2322,1888.1 2324,1903.1 2326,1866 2328,1842.9 2330,1873.8 2332,1869.7 2334,1879.3 2336,1902.9 2338,1882.3 2340,1888.9 2342,1894.6 2344,1875.8 2346,1904.8 2348,1887.5 2350,1923.9 2352,1921 2354,1902.5 2356,1899.3 2358,1895.3 2360,1880.5 2362,1891.6 2364,1882.9 2366,1867.1 2368,1857.1 2370,1875.5 2372,1889.9 2374,1882.3 2376,1880.5 2378,1842.2 2380,1842.4 2382,1824.6 2384,1815.6 2386,1854.7 2388,1844.9 2390,1846.8 2392,1830.4 2394,1830.1 2396,1805.6 2398,1773.8 2400,1759.5 2402,1774.6 2404,1790.8 2406,1801.3 2408,1829.6 2410,1827.2 2412,1792.8 2414,1813.3 2416,1803.6 2418,1827.3 2420,1817.6 2422,1822.5 2424,1785.6 2426,1775.8 2428,1751.5 2430,1773.7 2432,1745.7 2434,1758 2436,1722.7 2438,1753.3 2440,1757.1 2442,1758.4 2444,1793 2446,1871.3 2448,1883.7 2450,1894.8 2452,1903.6 2454,1888.6 2456,1871.8 2458,1848 2460,1865.1 2462,1892.6 2464,1883.2 2466,1837.3 2468,1841 2470,1849.9 2472,1832.1 2474,1839.7 2476,1855 2478,1837.6 2480,1830 2482,1850.3 2484,1859.4 2486,1830.3 2488,1816.8 2490,1846.5 2492,1870.5 2494,1886.2 2496,1874.4 2498,1863 2500,1828.7 2502,1826.8 2504,1833.7 2506,1815.6 2508,1798.8 2510,1772.6 2512,1789.1 2514,1799.8 2516,1848.4 2518,1852 2520,1861.1 2522,1828.4 2524,1816.7 2526,1825.8 2528,1811.4 2530,1814.4 2532,1847.5 2534,1855.9 2536,1865.1 2538,1863.2 2540,1863.1 2542,1881.2 2544,1895.9 2546,1920.3 2548,1915.3 2550,1900.1 2552,1920.8 2554,1915.9 2556,1899.7 2558,1901.1 2560,1918.1 2562,1944.8 2564,1977.5 2566,1981.6 2568,1973.3 2570,1957.6 2572,1960.3 2574,1929.9 2576,1929.4 2578,1915.7 2580,1913 2582,1913.8 2584,1927.1 2586,1951.6 2588,1937.6 2590,1938.3 2592,1929.2 2594,1929.2 2596,1908.6 2598,1890.9 2600,1901.1 2602,1871 2604,1862.1 2606,1878.9 2608,1897.6 2610,1888.7 2612,1874.9 2614,1834.2 2616,1821.2 2618,1838.1 2620,1807.1 2622,1820.9 2624,1827.3 2626,1814 2628,1818.7 2630,1833.2 2632,1807.7 2634,1808.7 2636,1798.8 2638,1807.5 2640,1794.9 2642,1805.4 2644,1794.9 2646,1822 2648,1825.5 2650,1827.7 2652,1859.2 2654,1885.5 2656,1875.4 2658,1898.3 2660,1926.4 2662,1899.1 2664,1872.1 2666,1867.1 2668,1854.5 2670,1844.4 2672,1841.4 2674,1850.2 2676,1856.7 2678,1848.1 2680,1827.9 2682,1847.9 2684,1851.4 2686,1866.3 2688,1899.6 2690,1915.8 2692,1897.6 2694,1876 2696,1897.2 2698,1897.3 2700,1915.6 2702,1915.9 2704,1889.9 2706,1877.2 2708,1849.9 2710,1845.1 2712,1844.5 2714,1856.9 2716,1865.7 2718,1885.2 2720,1914.4 2722,1926.4 2724,1928.2 2726,1923.3 2728,1919.9 2730,1907.6 2732,1877.1 2734,1846.6 2736,1850.3 2738,1836.8 2740,1877.1 2742,1862.3 2744,1892 2746,1889.9 2748,1892 2750,1884.3 2752,1885 2754,1885.4 2756,1910 2758,1880.8 2760,1894.9 2760,2009.4 2758,2005.3 2756,2006.9 2754,2001.8 2752,2003 2750,2026.7 2748,1996.4 2746,2011.7 2744,1981.3 2742,1984.7 2740,1954 2738,1958.7 2736,1941.6 2734,1962.7 2732,1960.5 2730,1991.5 2728,2023.6 2726,2007.3 2724,2027.6 2722,2002.2 2720,2019.8 2718,1997.8 2716,1990.9 2714,1969.9 2712,1942.2 2710,1945.3 2708,1956.6 2706,1977.9 2704,1995.4 2702,2006.1 2700,2024.9 2698,2023.9 2696,1999.2 2694,1998 2692,1998.8 2690,2028.7 2688,2003.2 2686,1971.2 2684,1962.2 2682,1958.7 2680,1969 2678,1947.8 2676,1975.8 2674,1974.3 2672,1976.9 2670,1974.6 2668,1962.7 2666,1956.7 2664,1976.6 2662,1990.7 2660,2014.7 2658,2000.4 2656,1981.8 2654,1962.3 2652,1973 2650,1934.2 2648,1937.1 2646,1914.9 2644,1889.1 2642,1892.5 2640,1903.9 2638,1911.7 2636,1923.2 2634,1932.2 2632,1934.6 2630,1932.1 2628,1942.4 2626,1919.7 2624,1920.6 2622,1946.8 2620,1946.7 2618,1927.7 2616,1958 2614,1947.8 2612,1981.5 2610,1981.5 2608,2000.8 2606,2014.1 2604,1991 2602,1994.8 2600,2003.9 2598,2014.8 2596,2018.1 2594,2025.6 2592,2018.2 2590,2032.8 2588,2022.4 2586,2028.9 2584,2022.1 2582,2031.1 2580,2020.9 2578,2039.5 2576,2028.7 2574,2040.4 2572,2068.5 2570,2069.8 2568,2085.4 2566,2089.7 2564,2073.7 2562,2042.2 2560,2026.6 2558,2013.5 2556,2011.3 2554,2021.2 2552,2003.1 2550,2015.2 2548,2009.3 2546,2029.5 2544,1999.7 2542,1979.2 2540,1990.3 2538,1976.8 2536,1963.7 2534,1964.4 2532,1950.5 2530,1949.3 2528,1937.2 2526,1944.3 2524,1940.3 2522,1960.7 2520,1981.7 2518,1982 2516,1965.8 2514,1915.5 2512,1905.4 2510,1933.3 2508,1919.7 2506,1928.5 2504,1953.8 2502,1950.5 2500,1992.5 2498,2006.2 2496,1980.4 2494,2001.6 2492,1991.6 2490,1957.4 2488,1931 2486,1955.4 2484,1961.4 2482,1964.1 2480,1959.1 2478,1970.6 2476,1949.9 2474,1938.5 2472,1947.5 2470,1945.9 2468,1941.7 2466,1934.2 2464,2001.7 2462,2017.3 2460,1967.8 2458,1924.4 2456,1960.6 2454,1964.4 2452,1970.2 2450,1982.8 2448,1973 2446,1956.1 2444,1919.4 2442,1895.1 2440,1887.1 2438,1856.2 2436,1860.1 2434,1872.4 2432,1858.2 2430,1873.9 2428,1878.2 2426,1876.6 2424,1913.6 2422,1923.8 2420,1925.8 2418,1918.1 2416,1945.3 2414,1940.4 2412,1955.3 2410,1945.4 2408,1930.8 2406,1915.1 2404,1892 2402,1875.3 2400,1873.9 2398,1896.3 2396,1900.2 2394,1906.7 2392,1946.4 2390,1956.2 2388,1954.3 2386,1956.6 2384,1934.6 2382,1926.7 2380,1933.7 2378,1955.3 2376,1970.8 2374,1974.3 2372,1976.3 2370,1981.1 2368,1963.8 2366,1976.7 2364,1987.5 2362,1973 2360,1977.7 2358,1970.6 2356,1987.9 2354,1990.2 2352,2010.1 2350,2035 2348,2001.2 2346,2013.6 2344,1981.4 2342,1981.3 2340,2000.9 2338,1979.8 2336,1984.7 2334,1986.8 2332,1984 2330,1980.1 2328,1957.6 2326,1972.2 2324,1990.4 2322,2005.3 2320,1981.7 2318,1987.5 2316,1954.3 2314,1942.3 2312,1934.5 2310,1931 2308,1958 2306,1974.7 2304,1977.4 2302,1996.2 2300,1988.6 2298,2003.4 2296,1976.3 2294,1977 2292,1970.8 2290,1999.3 2288,2011.2 2286,1991.4 2284,1999.7 2282,2010.5 2280,1997.4 2278,2002.3 2276,2008.1 2274,2009.2 2272,2012.1 2270,1996.2 2268,1980.1 2266,1972.7 2264,1990.8 2262,2022.7 2260,2010.8 2258,2020.6 2256,2012 2254,1993 2252,1974.8 2250,1947.2 2248,1949.6 2246,1959.5 2244,1979.6 2242,1941.7 2240,1914.4 2238,1922.9 2236,1950.6 2234,1956.9 2232,1956.2 2230,1926.9 2228,1906.4 2226,1900.7 2224,1916 2222,1920.6 2220,1921.4 2218,1923.4 2216,1942.5 2214,1939.3 2212,1935.8 2210,1923.5 2208,1889.8 2206,1880.7 2204,1910.1 2202,1924.3 2200,1909.1 2198,1941.8 2196,1940.7 2194,1954.5 2192,1954.4 2190,1949.4 2188,1957.3 2186,1965.8 2184,2007.6 2182,2018 2180,2011.3 2178,1990.2 2176,1988.2 2174,1980 2172,1988.4 2170,2004.1 2168,1985.8 2166,1947.9 2164,1961.8 2162,1971.2 2160,1977.5 2158,1981.3 2156,1989.5 2154,1987.1 2152,1977.5 2150,1968.7 2148,1983.2 2146,1975 2144,1996.3 2142,1984.1 2140,2004.5 2138,2004.6 2136,1983.6 2134,1963.1 2132,1968.4 2130,1977.9 2128,2002.7 2126,2017.6 2124,2038 2122,2016.3 2120,1996.9 2118,2000.2 2116,1983.1 2114,1976 2112,1965.6 2110,1990.6 2108,2025.8 2106,2002.7 2104,1979.7 2102,1983.7 2100,2006.3 2098,2017.8 2096,2010.1 2094,2021.2 2092,2022 2090,2029.4 2088,2016.9 2086,2027.5 2084,2025.7 2082,2029 2080,2062.9 2078,2071.1 2076,2026.2 2074,2015.7 2072,1989.9 2070,1992 2068,1954.7 2066,1937.1 2064,1927.4 2062,1974.2 2060,1989.9"/>
<path d="M2059.4 1806.6L2060.6 2031.3L2063.2 1737L2064.4 1996.5L2066.2 1765L2068.6 1994L2070.5 1803.4L2071.7 2031.3L2073.5 1876.7L2075.9 2077.4L2077.8 1901.5L2079 2107.2L2081.6 1895.2L2082.8 2069.2L2084.5 1926.5L2086.8 2045.1L2088.5 1882.5L2089.7 2055L2091.3 1895.4L2093.5 2042.7L2095.8 1910.9L2097.4 1901.5L2098.6 2043.9L2100.1 1900.2L2102.2 2011.3L2103.7 1828.7L2104.9 2028.1L2107.5 1869.9L2108.7 2055L2110.6 1886.7L2112.6 1830.3L2113.8 1996.5L2115.7 1856.9L2118.2 2014.8L2120.8 1900.6L2122.7 1860.4L2123.9 2074L2125.7 1862.2L2127.4 1849.3L2128.6 2024.9L2130.5 1840.1L2132.9 2002.8L2134.7 1820.8L2135.9 2009.1L2138 1848.7L2140.1 1854.1L2141.3 2042.3L2143.4 1855.7L2145.5 1850.9L2146.7 1996.5L2148.5 1867.4L2150.9 2004.3L2152.8 1863.5L2154 2009.1L2156 1903.8L2158.1 1882.5L2159.3 2020.2L2161.2 1872.8L2163.6 1968.9L2165.4 1806.6L2166.6 1996.5L2168.6 1869.9L2169.8 2037.6L2171.9 1896.7L2174 1876.2L2175.2 2012.3L2177.3 1903.3L2180 2010.9L2182.2 1885.7L2183.4 2050.3L2185 1868.9L2186.6 1833.5L2187.8 1996.5L2189.4 1853.6L2191.6 1981.7L2193.9 1832.4L2195.5 1805L2196.7 1979.1L2198.2 1810L2200.3 1925.2L2201.8 1749.6L2203 1949L2204.8 1750.4L2206.6 1740.1L2207.8 1933.2L2209.8 1774.7L2212.4 1929.6L2214.5 1806.6L2215.7 1979.1L2217.2 1838.7L2219.3 1927.6L2220.8 1812.9L2222 1955.3L2224.1 1773.4L2226.2 1727.5L2227.4 1933.2L2229.1 1777.1L2230.9 1812.9L2232.1 1982.2L2233.7 1812.5L2235.9 1943.7L2238.2 1830.6L2239.8 1800.3L2241 1958.5L2243.6 1838.2L2244.8 1999.6L2246.6 1833.7L2248.3 1779.7L2249.5 1964.8L2251.8 1856.7L2254 1869.9L2255.2 2043.9L2257 1903.8L2258.8 1901.5L2260 2061.3L2261.5 1908.1L2263.6 1995.7L2265.1 1865.1L2266.3 2012.3L2267.8 1888.2L2270 2007.5L2272.1 1889.5L2273.6 1868.3L2274.8 2050.3L2276.7 1885.3L2279.1 2006.4L2280.9 1865.1L2282.1 2028.1L2283.8 1887.3L2286.2 2037.2L2287.9 1869.9L2289.1 2047.1L2290.9 1863.4L2293.3 1997.4L2295.2 1803.4L2296.4 1996.5L2298.3 1869.9L2299.5 2034.4L2301.4 1857.2L2303.8 2003.9L2305.6 1781.3L2306.8 2028.1L2308.3 1783L2310.4 1967.6L2311.9 1735.4L2313.1 1964.8L2315.2 1819L2317.3 1869.9L2318.5 2018.6L2320 1881.2L2322.1 1993.8L2323.6 1869.9L2324.8 2037.6L2327.4 1808.2L2328.6 1996.5L2330.5 1831.1L2332.9 2008.8L2334.7 1869.9L2335.9 2015.4L2338 1887.2L2340.6 2011.4L2342.6 1844.6L2343.8 2029.7L2345.9 1874.1L2348.5 2028.6L2350.5 1882.5L2351.7 2062.9L2353.5 1879.9L2355.3 1852.5L2356.5 2015.4L2358 1860L2360.1 2015.2L2361.6 1854.1L2362.8 2015.4L2364.9 1879L2367.5 1972L2369.5 1825.6L2370.7 2009.1L2372.7 1869.9L2373.9 2017L2375.5 1855.5L2377.7 1967.8L2379.9 1812.4L2381.6 1779.7L2382.8 1949L2384.5 1798.4L2386.8 1950.8L2388.5 1831.9L2389.7 2005.9L2391.2 1848L2393.3 1948.6L2394.8 1784.4L2396 1930L2398.3 1758.5L2400.5 1716.4L2401.7 1920.5L2403.5 1775.4L2405.8 1913.2L2407.5 1806.6L2408.7 1955.3L2410.5 1793.3L2412.2 1740.1L2413.4 2002.8L2415.5 1773.8L2418.1 1965.8L2420.2 1787.6L2421.4 1960.1L2422.9 1800.4L2425 1893.1L2426.5 1729.1L2427.7 1914.2L2429.3 1758.7L2431.5 1907.5L2433.7 1729.5L2435.3 1694.2L2436.5 1907.8L2438.3 1752.6L2440.6 1890.3L2442.3 1718L2443.5 1933.2L2445.5 1822.4L2446.7 2009.1L2448.2 1854L2450.3 1999.3L2451.8 1869.9L2453 1999.6L2455.3 1838.6L2457.5 1805L2458.7 1964.8L2460.3 1868.1L2461.9 1869.9L2463.1 2081.9L2466 1803.4L2467.2 1955.3L2469.1 1803.4L2471.5 1945.3L2473.3 1798.7L2474.5 1990.1L2476.1 1829.6L2478.2 1976.9L2480.3 1847L2481.9 1809.7L2483.1 2001.2L2484.6 1844.6L2486.7 1963.3L2488.2 1786L2489.4 1983.8L2491.2 1826L2492.9 1860.4L2494.1 2037.6L2495.9 1862.3L2497.7 1812.9L2498.9 2039.2L2500.9 1815.1L2503.6 1980.1L2505.6 1763.9L2506.8 1964.8L2508.3 1800.3L2510.4 1923.5L2511.9 1737L2513.1 1955.3L2515.2 1786.8L2517.3 1828.7L2518.5 2023.4L2520.4 1822.8L2522.8 1981.3L2525.3 1810.8L2527.1 1773.4L2528.3 1964.8L2530 1799.3L2532.4 1971.4L2534.1 1816.1L2535.3 1999.6L2537.3 1854.4L2540 2012.5L2542 1824L2543.2 2028.1L2545.2 1901.5L2546.4 2056.6L2548.4 1915L2550.5 1876.2L2551.7 2043.9L2553.6 1885.2L2556 2013.6L2557.8 1869.9L2559 2059.7L2560.5 1933.1L2562.6 2083.1L2564.1 1933.2L2565.3 2112L2567.2 1950.6L2569.6 2100.4L2571.4 1914.2L2572.6 2099.3L2574.2 1917L2576.3 2046.8L2578.4 1902.6L2580 1865.1L2581.2 2043.9L2582.9 1902L2584.7 1917.3L2585.9 2062.9L2587.7 1910.8L2590.1 2052L2592.4 1914.6L2594.2 1888.9L2595.4 2047.1L2597 1879.6L2599.2 2034L2601.5 1872.7L2603.1 1831.9L2604.3 2042.3L2606.4 1895.2L2608.5 1882.5L2609.7 2031.3L2611.7 1847.4L2613.8 1771.8L2615 1996.5L2617 1787.9L2619.7 1955.8L2622.3 1800.1L2624.3 1797.1L2625.5 1964.8L2627.2 1822.4L2629.6 1955.6L2632 1790.1L2633.8 1776.5L2635 1955.3L2636.6 1788.3L2638.8 1905.4L2641 1769.4L2642.6 1760.7L2643.8 1930L2645.5 1781.2L2647.9 1962.2L2649.6 1805L2650.8 1983.8L2652.6 1832.5L2654.9 2003.2L2657.3 1880.6L2659.1 1888.9L2660.3 2043.9L2662.4 1891.4L2664.5 1838.2L2665.7 2005.9L2667.3 1845.5L2669.5 1986L2671.7 1832.6L2673.3 1811.3L2674.5 2001.2L2676.5 1841.4L2679 1957.3L2681.5 1816.5L2683.5 1795.5L2684.7 1996.5L2687.6 1869.9L2688.8 2059.7L2690.6 1903.8L2693 2043.3L2694.8 1844.6L2696 2048.7L2697.8 1899.5L2700.1 2028.1L2701.8 1873L2703 2048.7L2704.6 1882.3L2706.8 2001.3L2709.1 1829.7L2710.7 1803.4L2711.9 1980.6L2713.8 1829.5L2716.3 1992.4L2718.3 1869.9L2719.5 2055L2721.1 1887.1L2723.3 2022.9L2725.5 1899.5L2727.1 1888.9L2728.3 2043.9L2730.4 1877.9L2733 1985.4L2735 1803.4L2736.2 1964.8L2738 1822.6L2739.8 1831.9L2741 1996.5L2742.8 1850.7L2745.1 2002.7L2747.5 1876.7L2749.3 1862L2750.5 2064.5L2752.4 1860.8L2754.9 2024.5L2757.5 1875.4L2759.4 1857.2L2760.6 2047.1" fill="none" stroke-width="3.4"/>
<polygon points="2759.9,1867 2761.9,1864.7 2763.9,1868.7 2765.9,1854 2768,1854 2770,1878.1 2772,1883 2774,1889 2776,1878 2778.1,1883.2 2780.1,1872.1 2782.1,1849.5 2784.1,1872.9 2786.1,1863.3 2788.1,1886 2790.2,1863.4 2792.2,1838.5 2794.2,1826.6 2796.2,1817.1 2798.2,1857.8 2800.2,1872.9 2802.3,1868.4 2804.3,1852.6 2806.3,1840.6 2808.3,1837.2 2810.3,1825.3 2812.3,1807.5 2814.4,1807.6 2816.4,1792.4 2818.4,1795.3 2820.4,1768.5 2822.4,1774.3 2824.5,1770.7 2826.5,1773.9 2828.5,1736.6 2830.5,1726.2 2832.5,1742.5 2834.5,1789.9 2836.6,1801.5 2838.6,1839.4 2840.6,1855.5 2842.6,1851.2 2844.6,1856.7 2846.6,1840.1 2848.7,1845.3 2850.7,1843.4 2852.7,1846.1 2854.7,1855.4 2856.7,1849.4 2858.7,1868.8 2860.8,1872.9 2862.8,1882.3 2864.8,1874.7 2866.8,1878.4 2868.8,1877.3 2870.9,1878.1 2872.9,1892.5 2874.9,1905.2 2876.9,1899.3 2878.9,1905.4 2880.9,1858.7 2883,1817.5 2885,1801.6 2887,1831.2 2889,1871.7 2891,1903.6 2893,1883.6 2895.1,1896.2 2897.1,1894.2 2899.1,1892.8 2901.1,1906.3 2903.1,1888.6 2903.1,1985.6 2901.1,1987.8 2899.1,1977.2 2897.1,1992.9 2895.1,1981.4 2893,1993.6 2891,2009.8 2889,1981.1 2887,1968.5 2885,1921.5 2883,1945.1 2880.9,1991.7 2878.9,2007.4 2876.9,2029 2874.9,1988.1 2872.9,1974.2 2870.9,1976.2 2868.8,1969.4 2866.8,1961.4 2864.8,1972 2862.8,1955.9 2860.8,1948.6 2858.7,1932.8 2856.7,1927 2854.7,1943 2852.7,1931.1 2850.7,1926 2848.7,1934.6 2846.6,1946.9 2844.6,1956.8 2842.6,1976.3 2840.6,1941.6 2838.6,1941.8 2836.6,1895.3 2834.5,1895.7 2832.5,1866 2830.5,1869.1 2828.5,1854.8 2826.5,1870.8 2824.5,1866.4 2822.4,1879.1 2820.4,1891.3 2818.4,1900.3 2816.4,1906.2 2814.4,1902.1 2812.3,1928.1 2810.3,1916.1 2808.3,1953.9 2806.3,1950.9 2804.3,1943.9 2802.3,1966.6 2800.2,1951.2 2798.2,1929.6 2796.2,1939.3 2794.2,1927.2 2792.2,1938.9 2790.2,1959.3 2788.1,1968.8 2786.1,1970.4 2784.1,1945.1 2782.1,1953.5 2780.1,1957.3 2778.1,1989.2 2776,1998.4 2774,1989.2 2772,1961.9 2770,1962.1 2768,1973.9 2765.9,1973.7 2763.9,1970.5 2761.9,1954.9 2759.9,1968.1"/>
<path d="M2759.3 1849.8L2760.5 1990.1L2762.4 1876L2764.8 1999.1L2766.7 1821.8L2767.9 2004.9L2770.2 1867.9L2772.6 1851.3L2773.8 2004.9L2775.4 1875.1L2777 1863.1L2778.2 2030L2780.6 1815.9L2781.8 1975.3L2783.4 1844.1L2785.7 1969.8L2787.4 1845.4L2788.6 1993.1L2790.1 1835.3L2792.3 1947.4L2793.8 1776L2795 1954.7L2796.7 1803.3L2799 1945.3L2800.6 1851.3L2801.8 1990.1L2804.2 1836L2806.5 1815.9L2807.7 1987.1L2810.1 1790.8L2811.3 1960.6L2813 1781.3L2815.2 1911.2L2816.9 1750.9L2818.1 1925.1L2819.9 1769.5L2822.4 1881L2824.3 1733.2L2825.5 1907.4L2827 1750.2L2829.2 1861L2830.8 1699.2L2832 1901.5L2834.6 1756.8L2835.8 1922.2L2837.4 1787.4L2839 1815.9L2840.2 1975.3L2842 1817.3L2843.2 2001.9L2845.5 1819.7L2847.9 1821.8L2849.1 1951.7L2851 1824.6L2852.9 1815.9L2854.1 1957.6L2855.8 1847.8L2858 1965.9L2859.7 1836.5L2860.9 1975.3L2863.3 1865.2L2865.6 1863.1L2866.8 1999L2868.4 1879.7L2870 1846.9L2871.2 1993.1L2873.1 1859.4L2875.6 2021.5L2877.4 1872L2878.6 2065.4L2880.3 1876.3L2882.6 1969.8L2884.2 1756.8L2885.4 1975.3L2887.6 1823.2L2889.8 1857.2L2891 2047.7L2892.2 1838L2893.4 2028.5L2895.7 1870.4L2898.1 1869L2899.3 2018.2L2900.9 1877.8L2902.5 1872L2903.7 2004.9" fill="none" stroke-width="3.4"/>
<path d="M950.9 2039.1h0M854.7 1896h0M917.4 1945.1h0M863.4 1956.2h0M939.3 2027.3h0M892.6 1961.9h0M811.2 1900.8h0M941.6 2030h0M934.6 1998.9h0M831.9 1906.8h0M930.8 2080.7h0M864.8 2001.7h0M816.8 1922.4h0M828.2 1980.3h0M857.3 1978.1h0M848.4 1939.3h0M943.3 2040.3h0M932.9 2002.3h0M855.3 1939.9h0M898.4 1939.8h0M916.6 2013.1h0M828.2 1924h0M860.8 1980.1h0M954.6 2054.4h0M932.4 2060.6h0M842.6 1940h0M813.6 1916.3h0M887.5 2003.9h0M854.2 1932.2h0M897.6 1956h0M854.1 1950.5h0M914.8 1951h0M879.2 1941.4h0M816 1928.3h0M878.4 1951.7h0M936.1 2025.2h0M938.9 2085.8h0M881.7 1924.7h0M835.9 1931.7h0M954.4 2074.4h0M826.4 1970.9h0M861.3 1953.5h0M897.7 2057.8h0M859.7 2000.8h0M943.2 2022h0M835.9 1970h0M951.6 1992.4h0M819.4 1896h0M889.7 1985.8h0M950.3 2030.1h0M948.8 2033.9h0M848.8 1918.9h0M894.7 1988h0M946.9 2087.7h0M847.7 1926.3h0M930.4 2069.1h0M948.5 2031h0M847.4 1916.9h0M844.8 1991h0M913.9 1994.4h0M944.9 2020.6h0M820.6 1921.2h0M831.2 1904.9h0M821.6 1996.7h0M877.4 1966.2h0M888.2 1977.2h0M917.1 1995.7h0M908.3 2015.8h0M892 1968.1h0M934.5 2061.4h0M813.7 1972.2h0M888.8 1976.1h0M945.2 2023.8h0M874.5 1976.9h0M896.8 2038.4h0M873 1975.5h0M914.6 2004.5h0M829.4 1935.3h0M936.4 2107.5h0M939.3 2045.6h0M920.6 2021.2h0M897.9 1995.4h0M873.3 1965.6h0M840.8 1884.8h0M821.1 1927h0M842.8 1929.3h0M874.5 1993.7h0M856.4 1951.9h0M879.7 1990.6h0M912.7 2032h0M857.6 1961.5h0M825 1913.6h0M825.5 1960h0M919.5 1999.5h0M828.9 1905.7h0M899.8 2001.5h0M879.4 1930.1h0M910.6 1971.6h0M837.4 1914.2h0M878.1 1895.7h0M955.9 2025.1h0M891.7 1989.8h0M902.5 2020.8h0M918.3 2012h0M956.5 2073.3h0M867.5 1985.5h0M905.7 1982.6h0M937.1 2051.6h0M954.3 2057.3h0M819.7 1916.6h0M919.3 2050.4h0M902.5 2047.2h0M810.3 1894.9h0M820.6 1967.2h0M814.1 1925.9h0M887.2 1974.1h0M935.6 2022.2h0M870.7 1988.3h0M901 1989.7h0M889.5 1991.8h0M810.7 1957.8h0M846.7 1915.9h0M883.5 2045.5h0M815.5 1909h0M928.6 2075.3h0M826.1 1943h0M886.9 1954.5h0M944.8 2070.5h0M944.6 2028.6h0M830.9 1879.2h0M815.3 1943.1h0M902.5 1950h0M855.9 1945.6h0M813 1902.7h0M820 1957.1h0M953.4 2071.3h0M810.7 1884.5h0M871.3 2000.5h0M928.7 2066.3h0M925.8 2030.4h0M812.1 1901.4h0M823.7 1972.6h0M885.8 1932h0M844.5 1963.1h0M857.7 1938.7h0M810.4 1938.4h0M923.1 2018h0M923.6 1974.7h0M946 2043.2h0M920.1 2014h0M843.3 1931.4h0M955 2056.4h0M819 1912.6h0M956.3 2044.6h0M882.8 1966.4h0M922.5 1982.6h0M859.4 1899.1h0M913.1 2032.1h0M940.2 2015.8h0M918.1 2073.4h0M894.1 1958.4h0M821.4 1958h0M824.4 1928.6h0M817.3 1940.2h0M915.2 1999.2h0M840.3 1888.4h0M915.9 2028.3h0M843.4 1897.7h0M892.9 1977.5h0M831.9 1957.4h0M936.8 1983.9h0M835.3 1872.2h0M848.8 1941.3h0M854.4 1955.4h0M894.7 2012.4h0M903.5 1943h0M863.8 1918.2h0M810.2 1956.8h0M828.7 1929.2h0M826.5 1945.9h0M829.3 1992.1h0M813.1 1913.7h0M848.1 1955.1h0M866.1 1949.9h0M848.2 1958h0M845.8 1932.5h0M862.9 1985h0M857.6 2028.4h0M918.3 2019.1h0M882.3 2003.4h0M942.1 2038.7h0M877.1 1985.1h0M940.7 2105.9h0M828 1889.1h0M827.3 1936.5h0M856.9 1911.2h0M902.2 1960.7h0M901 1988.3h0M812.5 1923h0M932.8 2087.5h0M821.3 1876h0M922.9 2035.8h0M839.5 1976.1h0M936.1 2069.8h0M866 1889h0M947.3 2025.6h0M908.8 2041.5h0M844.4 1935.8h0M926.8 2038.3h0M837.1 1961.9h0M903.9 2019.1h0M903.5 1927.6h0M920.4 2007.8h0M840.9 1920.8h0M845.6 1946h0M831.7 1970.1h0M940 2058.5h0M906.3 2017h0M896.8 2015.6h0M887.7 2008.4h0M893.1 2006.3h0M898.2 2058.7h0M845.3 1985.8h0M896.5 1965.7h0M948.8 2023h0M868.1 1913h0M933.2 2058.1h0M954.8 2041.2h0M915.2 1961.5h0M921.5 1997.2h0M841.8 1906.3h0M844 1930.8h0M924.6 2033.6h0M881.8 2031.1h0M872.7 1944h0M955.1 2003.5h0M956.5 2045.7h0M908.2 1971.3h0M882.7 2014.2h0M862.5 1936.7h0M813.9 1883.4h0M855.3 1964.9h0M825.5 1922.1h0M835.3 1941.5h0M875.2 1939.3h0M887.8 2027.9h0M867 1954.5h0M892.1 2009.9h0M952.3 2029h0M856.9 1990.8h0M918.9 1952.6h0M810.9 1914.5h0M829.6 1947.6h0M868.7 1985.1h0M866.6 1985.9h0M894.5 1993.1h0M951.3 2010.3h0M931.5 1999h0M888.4 2015.5h0M895.4 2062.5h0M864.9 1973.9h0M904.3 1980.4h0M850.5 1982h0M849.8 1938.8h0M881.5 1993.1h0M841 1942.7h0M926.7 2058.7h0M924.9 2040.3h0M914.6 2008.9h0M940.5 2023.7h0M862.4 1967.7h0M940.7 2003h0M880.2 1971.6h0M882.9 1999.1h0M817.4 1958.8h0M894.2 2073.8h0M936.6 2065.8h0M878.8 2002.9h0M825.9 1929.2h0M884.7 1930.8h0M949.9 1995.8h0M897.2 2076.5h0M834.3 1964.3h0M845.3 1983.6h0M895.5 2038.3h0M877.6 1948.1h0M915.3 2008.7h0M888.9 1969.2h0M947.7 2079.8h0M945.3 2044h0M867.1 1948.7h0M876.1 1962.5h0M942.7 2094.1h0M940.3 2038h0M876.2 1996.4h0M886 2010.4h0M925.2 2035.8h0M954.4 2054.2h0M811.8 1905.1h0M920.1 2007.6h0M872.2 1981h0M938.7 2031.3h0M843.5 1965.4h0M821.3 1937.4h0M867.1 1982.3h0M915.1 1999.1h0M815.1 1883.8h0M824.5 1931.2h0M895.1 1968.2h0M931.8 2046.1h0M911.4 2012.3h0M817.8 1936.6h0M848.7 1883.3h0M952.1 1983.5h0M936.8 2087.7h0M921.8 2061.2h0M879.4 2019.2h0M827.5 1935.5h0M841.8 1984.8h0M901.6 2035.4h0M935.8 2045.6h0M952.6 2034.3h0M848.5 1948.1h0M826.4 2010.3h0M926.3 2061.4h0M899.3 1969.8h0M811 1884h0M923.1 1993.3h0M885.9 2005.4h0M905.8 2012.7h0M821.8 1955.1h0M926.8 2043.7h0M890.2 1935.3h0M895.3 2083.2h0M845.1 1876h0M864.1 1922h0M903.7 1947.8h0M836.7 1910h0M879.5 1955.4h0M914.6 2045.6h0M856.1 1961.2h0M897.9 2019.2h0M902.4 1960.7h0M852.4 1955.5h0M888.2 2038.1h0M842.8 1952.4h0M862.2 1908.2h0M847.3 2000.8h0M947.6 1973.4h0M846.5 2006h0M813.8 1935.8h0M935.6 2026.1h0M874.8 1933.8h0M910.2 2016.4h0M925.4 2052.5h0M909.9 1984.8h0M841.9 1936.8h0M847.7 2013.3h0M894 2014.1h0M878.8 1942.6h0M886 1979.3h0M947.4 2060.9h0M881.6 2009h0M839.1 1943.1h0M901.5 1956h0M946 2028.4h0M921.8 2027h0M912.8 2006.6h0M897.6 1974h0M815.4 1892.3h0M876.3 1990.2h0M816.6 1887.5h0M828.4 1976.1h0M834.2 1911.9h0M913.7 2065.3h0M904.7 1964.7h0M928.4 2062.7h0M928.9 2051h0M860.2 1999.8h0M913.4 2057.6h0M811.2 1944.6h0M949.9 2042.8h0M900.6 2011.4h0M894.5 1989h0M836.7 1929.4h0M878.1 1986.1h0M816.9 1899.3h0M942.7 1995.4h0M922.7 2080.6h0M889.7 2034.1h0M947.3 2015.7h0M913.3 2003.4h0M835.5 1989.1h0M942.3 2033.4h0M882.3 1953.9h0M914.1 2049.4h0M877.5 1961.5h0M914.8 2040.7h0M843.6 1974.8h0M906.5 2029.3h0M819.9 1918.1h0M923.2 2017.1h0M881.4 1989.6h0M937.5 2044.2h0M913.2 1991.8h0M901.1 1943.4h0M886.6 1994.6h0M836.9 1933.6h0M855.5 1935.7h0M934.9 2000.5h0M914.1 1986.3h0M882.3 1944.6h0M813.4 1941.5h0M943.1 2063.8h0M905.9 2033.7h0M851.6 2027.2h0M928 2002.6h0M918.8 1974.9h0M849.3 1983.4h0M921 1983.1h0M933.2 2036.8h0M863.1 1988.6h0M821.4 1971.2h0M881.9 1939.1h0M890 2009.9h0M862.6 1941.7h0M910.7 1960.2h0M848 1944.2h0M842.8 1929.7h0M947.5 2004.1h0M942.3 2065.6h0M885.5 1980.4h0M825.4 1926.9h0M883.6 1991.5h0M950.3 2032.2h0M850.6 1918.1h0M946.6 2085.6h0M935.5 2062.9h0M820.2 1977.8h0M867.1 1934.8h0M872.4 1925.3h0M937.3 2013.4h0M941.3 2037.6h0M924.2 2027.4h0M905 1989.1h0M821.2 1921.6h0M941.8 2012.5h0M952.7 2055.1h0M838.7 1932.6h0M892.3 1992.6h0M918.4 2043.5h0M952 2068.3h0M931.2 2055.9h0M890.3 2032.7h0M902.3 1938.5h0M908.1 2009.8h0M857.8 1986.2h0M936 2046.6h0M955.8 2021.4h0M818.8 1955.3h0M821.4 1945.2h0M949.3 2011.6h0M935.4 2067.9h0M888.2 1965.9h0M877.5 1939.3h0M950.4 2024.8h0M880.2 2015.7h0M830.8 1965.7h0M927.1 2060.3h0M830.3 1970.3h0M939.7 2095.2h0M831.5 1954.1h0M848.3 1893h0M873.9 1989.6h0M871.4 1922.2h0M851.3 1987.6h0M949.8 2034.5h0M890.5 2020.3h0M861.6 1950h0M909.3 1988.3h0M863.5 1978.3h0M873.6 1947.6h0M856.6 1923.4h0M908.2 1990.9h0M870.4 1948h0M877 1937.9h0M891.7 1992h0M873 1909.3h0M822.7 1950.4h0M837.1 1955.3h0M837 1921.5h0M943.2 2009.5h0M844.4 1950.6h0M831.3 1962.8h0M910.1 1975.9h0M928.9 2018.7h0M909.1 1955.7h0M906.3 2016.8h0M874.7 1991.2h0M948.7 2041.9h0M864.8 1940.1h0M923.5 2011.4h0M936.8 2016.6h0M885.3 2008.6h0M847.1 1959.1h0M910.8 2017.1h0M938.2 2016.8h0M948.5 2030.9h0M829.1 1930.4h0M953.1 2058.3h0M900.9 1961.6h0M874.1 1943.9h0M890.4 2010.4h0M850.4 2020h0M894.3 2059.5h0M938.5 2029.7h0M850.7 2012.1h0M931.8 2048.6h0M891.4 2061h0M857.8 1993.7h0M886.8 2009.2h0M930 2039.2h0M854.9 1980.7h0M927.7 2034.5h0M814.8 1962.1h0M822.2 1923.9h0M826.6 1894.7h0M879.4 2004.1h0M891.7 1988.7h0M871.7 1947.2h0M939.5 2043h0M895 1983.2h0M837.5 1967.8h0M946.9 2044.7h0M898.5 1968.3h0M891.1 2005.3h0M917.9 2018.4h0M834 1932.8h0M813.3 1915.2h0M834.2 1908.8h0M955.3 2013.3h0M906.8 1990.6h0M950.5 2029.9h0M881.7 1982.9h0M932.5 2029h0M879.9 1979.4h0M821.1 1967.6h0M895.2 2014.1h0M835.6 2000.5h0M911.2 1960h0M949.4 1999.9h0M853.4 1939.9h0M941.1 2007h0M931 2038.6h0M848.4 1898.6h0M859.7 1934.9h0M930.6 2005.2h0M927.7 1970.4h0M876.7 1915.7h0M906 2034.2h0M889.2 2003.3h0M812.1 1909.9h0M878.2 2025h0M823 1974.8h0M939.4 2046.8h0M920.6 2035.6h0M909.4 1959.2h0M891.2 2031.8h0M949.1 1994.2h0M877.8 1965.8h0M870.5 1949.4h0M911.6 1985h0M946.2 2032.8h0M861.9 1905.4h0M824.4 1973.5h0M939.1 2069.6h0M937 2066.7h0M928.4 2082.1h0M880.4 1987.7h0M859.3 1934.1h0M885.5 1980h0M854.4 1912.2h0M937.2 2011.8h0M842.9 1974.8h0M880.9 1965.3h0M907.1 1965h0M852.3 1965.4h0M890.1 2025.3h0M819.5 1923.7h0M840.2 1989.6h0M885.9 2042.4h0M816.3 1918.2h0M835.7 1987.1h0M855 1992h0M844.3 1924.4h0M897.7 2036.5h0M905.1 2024.6h0M823.1 1905.6h0M919.2 2005.6h0M900.4 2042.4h0M836.9 1911.2h0M837.3 1919.9h0M819.3 1870.8h0M871.2 1948.8h0M938 2083.7h0M892.1 2001.2h0M850.8 1886.2h0M900.8 1968.5h0M887.9 2022.2h0M907.9 2027.8h0M833.7 2004.3h0M856 2023h0M839.6 1966.8h0M815.2 1922.5h0M920.3 1998.3h0M811.2 1930.9h0M822.5 1958.5h0M879.2 1936.8h0M882.3 2025.2h0M951.6 2040.9h0M944.5 2016.6h0M941.2 1999.4h0M835 1920.8h0M857.2 1959.4h0M900.1 2023.7h0M857.7 1959.9h0M931.3 1990.1h0M822.9 1959.6h0M902.7 1962.1h0M845.1 1936.7h0M915.8 1971.7h0M895.7 2023.2h0M920.3 2039.2h0M812.5 1892.1h0M914.8 1972h0M858.3 1910.1h0M919.9 2021.9h0M820.8 1905.3h0M896.5 1999.3h0M848.1 1963.4h0M941.2 2065.1h0M863.4 1994.1h0M849.5 1909.8h0M902.6 2002.5h0M826.6 1893.6h0M908.4 1992.1h0M852.5 2006.4h0M820.8 1906.1h0M930.1 2055h0M914.4 1984.1h0M936.2 2051.1h0M932.7 2028.3h0M846.5 1973.2h0M878.4 1917h0M942.3 2074.9h0M894.1 1996.9h0M868.8 1900.7h0M883.2 1955.7h0M848.4 1953.9h0M933.9 2069.6h0M911 1956.2h0M884.9 1938.4h0M811.2 1895.6h0M875.1 1987.2h0M878.6 1964.7h0M821.5 1931.4h0M814.9 1975.9h0M927.2 2048.5h0M847.8 1873.8h0M946.6 2005.8h0M949.4 2050.1h0M889.9 1990.5h0M810.8 1900.8h0M848.9 2018.1h0M846.7 2001.1h0M950.4 2022.9h0M914.3 1983.3h0M856.7 1939.3h0M932.1 2034h0M925.5 1980.5h0M859.9 1924.5h0M828.8 1909.3h0M892.6 2064.2h0M829.9 1940.3h0M812.2 1946.4h0M816.7 1908.1h0M940.4 2047.8h0M829 1937.2h0M856.3 1884.3h0M889.5 2051.7h0M866.9 1947.2h0M953.1 2031.2h0M871.9 1937.4h0M939.4 2093.9h0M911.1 2043.4h0M884.3 1992.3h0M897.8 1985.4h0M925.3 2033.5h0M819.3 1879.9h0M880.2 1967h0M868.3 1999.7h0M876.9 1920.1h0M940.6 2029.7h0M851.5 1953.8h0M826.6 1959.9h0M934.6 2055.5h0M862.9 1941.9h0M942.6 2100.4h0M854.6 1984.2h0M883.7 1991.9h0M812.4 1914.7h0M910 2037.4h0M832.8 1963.8h0M823.4 1957.8h0M828 1990.6h0M938.9 2084.6h0M816.4 1943.4h0M905.5 1933.3h0M854.1 1963.6h0M816.9 1912.8h0M950 2040.3h0M817 1962.2h0M831.5 1969.4h0M907.7 1984.5h0M880 1949.2h0M841.2 1985.3h0M911.4 1965.2h0M901.2 2070.7h0M924.3 2049.6h0M885.6 1952.1h0M920.8 1997.8h0M888.2 1985.8h0M841.4 1994.4h0M810.8 1859.5h0M915.5 1996.1h0M840.8 1891.1h0M895 1999.3h0M877.5 1912.8h0M939.2 2040.5h0M885.7 1997.2h0M827.6 1882h0M848.1 1939.7h0M882.1 2007.5h0M853.3 2024h0M864.5 1949.4h0M912.7 2020.1h0M902.3 1988h0M950.6 1992.8h0M927.9 2078.6h0M857 1998.7h0M871 2007h0M861.4 1893.3h0M941.1 2053.3h0M944.4 2035.7h0M864.2 1928.1h0M811.1 1920.4h0M836.1 1974.8h0M879.9 2007.1h0M870.4 1993.3h0M846.3 1937.9h0M813.6 1894.4h0M933 2039.5h0M853.2 1872.2h0M848.8 1948.1h0M951.7 2019.2h0M905.8 1985.7h0M851.6 1953.8h0M872.2 1978.1h0M896.8 1998.3h0M821.5 1990.9h0M929.2 2021.3h0M919.9 2027.1h0M815.9 1942.9h0M890.9 2024.6h0M835.6 1952.6h0M944.9 2039.1h0M952.4 2014h0M833.5 1963.5h0M928.2 2055.7h0M824.6 1946.7h0M927.1 1987h0M859.4 1970.1h0M916.1 2010.2h0M884.4 1984.9h0M851 1930.2h0M841.1 1983h0M832.8 1890.3h0M916.4 2045h0M847.8 1966h0M922.2 2010.5h0M839 1882.3h0M816.4 1893h0M811.5 1881.7h0M933 2064.1h0M886.2 1967.6h0M905.5 2041.8h0M885.7 1963.6h0M922.8 2012.7h0M890.3 2000.4h0M870.8 1938.2h0M842.5 1982.7h0M855.8 1953.8h0M877 1892.1h0M934 2068.8h0M919.2 2043.1h0M924.6 2008.7h0M950.9 2041.4h0M899.4 1979.3h0M826.7 1908.6h0M893.7 1931.7h0M907.3 2036.1h0M920.8 1968.5h0M829.7 1910.9h0M956.1 2014.3h0M837.9 1914.7h0M823.5 1919.2h0M907.8 1943.9h0M847.5 1882.6h0M904 2002.3h0M943.4 2085.3h0M812.1 1940h0M901.7 1983.9h0M871.5 1954.5h0M908 2005.4h0M884.8 1973.6h0M926.7 2080.4h0M947.7 2069.6h0M860.3 1958.1h0M842.3 1969.3h0M871.5 1935.3h0M949.8 1994.2h0M810.1 1927.8h0M871.5 1976h0M928.6 2033.2h0M826.9 1922.7h0M887.1 2032.3h0M814.6 1953.9h0M869.4 1987.8h0M823.6 1900.8h0M956.6 2043.4h0M817.1 1930.2h0M890.9 2016h0M950.9 2033.3h0M889.2 1977.8h0M862.6 2008.4h0M898.6 1991.3h0M847.7 1907.1h0M865.6 1966.3h0M892.8 2040h0M954.7 2050.3h0M868.6 1893.9h0M929.1 2029.3h0M918 1970h0M839.4 1986.4h0M900.5 2023.3h0M835.8 1942.8h0M861.7 1951.3h0M938.5 2035.5h0M900.2 1970.7h0M933.3 2073.6h0M935.5 2025.9h0M815.2 1929.4h0M923.9 1975.7h0M832 1979.3h0M899 2023.1h0M910.8 2018.9h0M952.1 2062.3h0M847.2 1999h0M874.6 1927.8h0M828.4 1957.9h0M821.1 1928.6h0M941.9 2060h0M863.2 1984.3h0M941.7 2006.7h0M941.5 2030h0M845.8 1907.8h0M892.8 1974h0M816.4 1977.2h0M903.4 1977.5h0M889.6 2032.4h0M954.1 2058.4h0M950.4 2029.3h0M950.2 1996.4h0M839.1 1934.1h0M925.8 1969.2h0M945.2 2037h0M901.5 1982.4h0M829.3 1892.8h0M877.4 1988.1h0M953.8 2041.7h0M865.8 1974.2h0M818.9 1954.9h0M899.1 2003.3h0M903.4 2022.5h0M945.7 2081.1h0M895.4 2007.3h0M881.5 1971.1h0M861.7 1954.5h0M886.8 1930.7h0M934 2062.2h0M882.2 1919.6h0M883.3 1989.8h0M843.1 1930.9h0M812 1884.7h0M950.2 2031.5h0M946.5 1999.3h0M825.5 1960h0M920.5 1998.1h0M938.6 2040.6h0M816.4 1935.8h0M956.2 2063.1h0M830.4 1931.1h0M859.4 2020.7h0M946.3 2052.8h0M855.5 1959.1h0M934.4 2081.8h0M940.1 2075.7h0M952.9 2037.2h0M880.9 1963.7h0M842.1 1968.8h0M917.8 2027.8h0M894.4 2025.3h0M819.8 1950.3h0M945.8 2031.7h0M951 2002.1h0M953.4 2040.3h0M838.2 1971.1h0M902.2 1961.2h0M923.5 1999.8h0M887.7 1970.4h0M949.2 2065.5h0M817.4 1908.1h0M919.6 2017.1h0M873.3 1988.5h0M950.7 1997.9h0M927.8 1977.2h0M859.6 2021.7h0M819.5 1975.2h0M945.4 2074.7h0M949.2 2012h0M899.1 1998.3h0M842.7 1892.3h0M821.7 1932.1h0M828.4 1896.2h0M892 2000.8h0M938.5 2072.4h0M900.7 1997.9h0M874.1 1896.2h0M876.2 1934.7h0M924.2 2036.4h0M939.7 2025.4h0M841.7 2007.8h0M811.3 1894.9h0M858.5 1892.2h0M955.9 2035.8h0M921.5 1990.9h0M933.8 2088h0M873.8 2021.6h0M850.3 1920.6h0M887.4 2022.2h0M853.3 2011.1h0M915.3 2023.4h0M912 1946.8h0M812.7 1949.4h0M829.1 1985.1h0M886.8 1994.5h0M843.5 1945.2h0M815.4 1921.1h0M951.1 2038.9h0M906.2 1987.8h0M884.6 1919.3h0M904.1 1980.9h0M948 2001.1h0M827.2 1861.7h0M930.6 2000.9h0M926.1 2095.3h0M951.7 2033.4h0M886.9 1953.8h0M924.8 2063.3h0M893.4 2021.3h0M915.3 1978.8h0M918 2049.9h0M866 1917.6h0M864.2 1879.5h0M887.2 1921.5h0M849.7 1965.3h0M852 1910.1h0M832.8 1974.2h0M953.5 1997h0M870.5 1954.7h0M814.1 1890.4h0M823.4 1966.1h0M953.7 2013.5h0M814.3 1902.5h0M846.2 1920.9h0M835.6 1989.1h0M881.2 1969.2h0M910.9 2043.8h0M886 1987.1h0M822.4 1884.9h0M906.3 1938.5h0M947.4 2033.1h0M861.6 1967.7h0M905.4 1976.2h0M810.9 1925.7h0M876.7 1931.5h0M883 1962.1h0M911.5 2018.5h0M902 2025.7h0M946.6 2037.4h0M851.6 1943h0M864.7 1995.3h0M949 2042.3h0M843.1 1945.7h0M835.2 1909.6h0M908.9 2006.9h0M939.9 2050.4h0M826.6 1940.2h0M855.5 1984h0M863.4 1979.7h0M871.7 1937.7h0M904.4 2030.1h0M939.6 2081.4h0M939.8 2057.2h0M942.3 2054.2h0M912.3 2002.5h0M900.7 1984.7h0M813.5 1913.4h0M857.3 1884.7h0M810.5 1901.8h0M863.8 1919.1h0M952.1 2073.2h0M863.6 1972.8h0M874.9 1941.8h0M954.1 2071.2h0M878.9 1992h0M872 1929.9h0M927.7 2085.1h0M913.4 1992.1h0M888 1948h0M866.9 1992.5h0M862.2 1953.5h0M810.2 1933.3h0M946.7 2027.9h0M812.4 1884.7h0M908.7 2043h0M908.7 1982.4h0M931.9 2037.1h0M921.7 1977.6h0M927.9 2035.6h0M882.6 1938.6h0M918 2016.3h0M917.9 1979.2h0M865.2 2002.8h0M908.8 1945.1h0M947.9 2071.3h0M924.1 2000.5h0M873.6 1983.4h0M898.7 2047.2h0M946.2 2038.4h0M819.5 1963.5h0M956.3 2022.5h0M916.1 1994.5h0M871.8 1899.9h0M827.4 1983.5h0M915.8 1948.5h0M842 1897.4h0M863.5 1950.9h0M902 2025.4h0M953.2 2047.6h0M923.1 2010.5h0M866 1912.2h0M918.5 1986.5h0M854.2 1939.2h0M924.8 1995.4h0M810.8 1937.9h0M904.8 1970.7h0M931.8 2062.3h0M954.8 2023.4h0M867.3 1940.8h0M863.3 1882.8h0M871.6 1936h0M870.5 1979.7h0M926 2064h0M892.1 1981.8h0M922.2 1998.6h0M938.2 2010.4h0M842.2 1979.5h0M846.9 1989.2h0M875.6 1923.3h0M903.9 1998.5h0M862.5 1954.3h0M894.4 2022.7h0M857.8 1999h0M848.6 1953.2h0M918.9 1981h0M919.9 2010.7h0M933.6 2044.6h0M890.9 1947.1h0M890.5 1970.7h0M900.4 2004.3h0M869.8 2017h0M897.5 1954.8h0M811.5 1893.9h0M894.2 1973.2h0M931.8 2081.1h0M855.6 2012.5h0M846.9 1972.7h0M849.4 1961.4h0M887.6 2012.9h0M852.5 1947.9h0M864.8 1928.7h0M908.3 1972.3h0M832.2 1987.6h0M916.2 2018.8h0M829.7 1991.5h0M819.7 1944.9h0M945.8 2024.1h0M870.1 1935.7h0M818.3 1952.9h0M938.7 2061.8h0M943.4 2036.6h0M895.7 1944.7h0M885 1961.9h0M868.4 1918.1h0M932.7 2026.1h0M909.7 2031.3h0M951.4 2016.8h0M869 1984.3h0M840.9 1901h0M837.6 1997h0M880.1 1962.5h0M923.4 2064.8h0M827.1 1912.9h0M904.8 1998.9h0M909.4 2002.5h0M854.5 1985.1h0M858.2 2015.7h0M926.1 1983.7h0M867.8 1928.6h0M877.6 1973.9h0M949.4 2051.5h0M838.8 1964.1h0M933.9 2025.6h0M817.8 1961.2h0M911.3 1938.7h0M915.8 2000.1h0M919.2 2012h0M897.7 2030.1h0M817.3 1972h0M882.4 1956.5h0M863.1 1992.1h0M923.4 2041.9h0M827.3 1982.8h0M879 2001.7h0M938 2098.7h0M857.2 1903.6h0M876.1 1954.3h0M930 2015.2h0M847.2 1879.3h0M884.1 1938.1h0M812.5 1905.7h0M929.1 2012.4h0M935.4 2046.9h0M891.7 1999.6h0M901.4 1937.2h0M944.1 2062.5h0M834.1 1951.7h0M903.3 1999.2h0M830.1 1946.9h0M835.7 1897.9h0M878.2 1958.7h0M811.9 1894h0M823.5 1930.4h0M818.4 1946.7h0M834.6 1972h0M878 1998.5h0M938.5 2095.6h0M822.5 1975.3h0M905.4 1998.4h0M940.7 1999h0M831.7 1923.1h0M934.5 1999.8h0M934.5 2055.8h0M865.8 1949.1h0M840 1954.2h0M830.7 1967.8h0M861.8 1938.1h0M952.9 2025.2h0M825.6 1899.6h0M863.6 1928.2h0M952.7 2033.2h0M941.9 2049.6h0M821.1 1943.8h0M851.7 1902.9h0M891.9 2055.6h0M948.4 2052.5h0M911.4 1986.3h0M916.8 2002.5h0M910.9 1993.7h0M921.7 2024.9h0M820 1944.8h0M889.9 2058.7h0M871 1998.9h0M956 2037.4h0M836.9 1898.6h0M872.6 1904.2h0M940.8 1995.6h0M857.7 2011.5h0M910.8 2007.2h0M905 2018h0M901.8 1934.1h0M930.5 2092.6h0M907.8 2053.7h0M824 1960.9h0M855 2006.4h0M947.4 2021.8h0M883.9 2020.9h0M947.9 2007.5h0M916.1 2076.4h0M893.5 2083.4h0M919.9 1993.7h0M890.1 2026.1h0M905.5 2003.4h0M827.3 1915.5h0M866.9 1924.4h0M930.7 2064.9h0M875.6 1914.4h0M899.2 1991.7h0M821.7 1942.6h0M827.3 1930.2h0M906.7 2015.1h0M910.7 2053.8h0M906.4 1929.5h0M954 2044.8h0M930.9 1997.2h0M947.6 2023.8h0M864.7 1935.9h0M913.3 1988.6h0M877 1982.6h0M830.8 1921h0M916.6 2009.2h0M841.3 1963.6h0M902.6 1991h0M904.4 2012.9h0M890.6 2054.5h0M900.3 2016h0M932.6 2073.6h0M900.7 2000h0M938.9 2077.7h0M817.9 1888.1h0M873.1 1966h0M810.5 1951.2h0M876.8 2008.8h0M852.9 1944.2h0M822 1938h0M931.6 2036.8h0M856.6 1928.7h0M821.4 1915.6h0M920.4 2054.3h0M884.2 2053.4h0M816.5 1954.4h0M829.2 1979.7h0M941.9 2049.9h0M956 2042.2h0M869.7 1909.8h0M827.5 1919.9h0M859.3 1910.6h0M924.7 2064.5h0M911.9 2017.2h0M944.3 2067.2h0M835.7 1908.3h0M955.9 2064.1h0M813.8 1906.7h0M887.6 1953.6h0M933.3 2077h0M856.6 1985.3h0M920.8 2010.9h0M832.4 1899.8h0M922.2 2007.4h0M919.4 1973.5h0M949.2 2029.7h0M928.3 2082.3h0M849.1 1986.4h0M950.2 2016.9h0M895.5 2084h0M924.7 2012.4h0M864.4 1904.1h0M928.1 2041.5h0M871.1 1976.6h0M886.4 1973.6h0M831.4 1953.6h0M817.1 1947.7h0M893.6 1973h0M927 2004.7h0M890.1 1992.3h0M858.4 1938.8h0M813.2 1946.8h0M830 2000.2h0M897.5 1958.6h0M937.8 2081.3h0M868.5 1932.5h0M954.9 2039.3h0M858.2 1922.6h0M886.8 1998.7h0M940.7 2027.2h0M908.4 1967.9h0M866 1929.4h0M869.6 1946.1h0M914.7 1967.3h0M938.5 2049.5h0M948 2030.7h0M838.5 1957.9h0M843.1 1909.5h0M811.9 1881.3h0M818.1 1945.7h0M811.8 1901.3h0M920 2083.4h0M847.7 1918.6h0M913.9 2024.1h0M851.9 1927.3h0M844.9 1989.3h0M873 1959.3h0M818.3 1888.6h0M861.3 1927.5h0M866.9 1938.9h0M892.1 1986.4h0M938.3 2061h0M819.7 1942.5h0M891.3 1992.4h0M890 1951.8h0M939.6 2071.7h0M856.9 1979.3h0M938.8 2052.8h0M897.9 2001.4h0M857.6 1915.4h0M911.2 1930.9h0M833.7 1903.6h0M860.4 1922.9h0M878.5 1896.1h0M925.5 2062.7h0M858.4 1989.1h0M911.7 1994.3h0M849.6 1983h0M916.1 1987.8h0M819.7 1939.3h0M915.3 1979.8h0M881.8 1968.3h0M843.4 1952h0M919.7 1949.2h0M928.4 2047.8h0M888.3 1996.6h0M868.9 1952.7h0M888.3 2065.8h0M832.1 1964.6h0M895.2 1996.8h0M878.3 2003.6h0M852.5 1986.6h0M901.9 2046.4h0M822 1951h0M842.8 1944.4h0M851.4 1925.8h0M942.4 2068h0M824.9 1890.2h0M847.9 1928.2h0M862.2 1878.9h0M923.9 2046.7h0M880.4 2003.6h0M929.8 2046.1h0M873.8 1921.9h0M816.1 1950.5h0M905.1 1990.1h0M871.3 1941.1h0M935.5 2036.8h0M860.8 1998.5h0M891.1 1972.8h0M945.6 2049.7h0M911.6 2031.8h0M878.5 1968.8h0M863.7 1973.9h0M909.8 1974.2h0M836 1909.9h0M944 2027.4h0M863.8 1995.3h0M860.1 1938.4h0M890.9 2058.3h0M930.9 2012h0M893.1 1986.6h0M932 2023.2h0M903.9 1979.1h0M921.9 1997.4h0M887.4 1942.6h0M909.6 2026.4h0M866.5 1903.5h0M950.1 2062.7h0M873.8 1931.7h0M883.5 2050.5h0M931.9 2056.5h0M897.3 1931.5h0M813.2 1928h0M868.8 1952.7h0M862 2002.4h0M899.1 2031.3h0M827 1913.8h0M812 1930.5h0M874.8 1928.5h0M814.5 1920.5h0M941.4 2040.4h0M817.1 1909.2h0M894.1 2044.2h0M842.7 1911.8h0M954.4 2010.9h0M823.8 1930.6h0M852.6 1975.9h0M841.4 2018.5h0M850.5 1972.9h0M919.3 2037.9h0M813.8 1870.9h0M896.1 2034.9h0M898.6 1956h0M872.5 1978.3h0M861.7 1910.6h0M882.8 1956.8h0M908.7 2001h0M932.4 2033.9h0M869.5 1949.8h0M922.4 2047.4h0M910.2 2028.8h0M888.4 1990.7h0M913.3 2008.3h0M834.5 1901.2h0M916 1980.4h0M826.5 1997h0M938 2032.5h0M837.2 1933.5h0M912.7 1968.7h0M912.4 1930.9h0M874.3 2008.9h0M878.5 1964.7h0M941.4 2019.6h0M858.8 1970h0M828.3 1923.6h0M896.6 2003.6h0M839.5 1986.7h0M916.2 2001.9h0M829.8 1880.3h0M817 1913.4h0M915.1 1997.6h0M890.3 2067.2h0M906.1 1970.1h0M931.4 2006.4h0M819.1 1927.4h0M913.2 1977.7h0M885.1 1942.8h0M876.8 1996.6h0M830.6 1920.1h0M949.5 2033h0M874.1 1984.9h0M881.9 2010.9h0M866.9 1955.7h0M952.3 2015.2h0M841.2 1929.3h0M844.4 2026.1h0M916.3 2000.9h0M878.9 2006.2h0M846.2 1996.5h0M833.4 1980.7h0M918.6 2018.1h0M910.2 1974.1h0M848.4 1942.8h0M867.8 1958.7h0M920.2 2008.9h0M889.1 2018.7h0M941.4 2029h0M873.4 1946.9h0M843.7 1965.3h0M875.1 1929.1h0M938.7 2031.4h0M953.8 2060.6h0M855 1899.2h0M859.2 1939.7h0M902.3 1936.9h0M891.7 2041.2h0M916.6 1957.5h0M867.3 1926.3h0M831.8 1916.3h0M812.2 1933.7h0M922.8 1983.8h0M913.3 1996.5h0M819.9 1968.1h0M816.1 1957.4h0M936 2035.9h0M869.9 1933.9h0M922.9 2050.8h0M877.8 1947.3h0M885.4 1983.3h0M895.2 1955h0M893.4 1955.1h0M892 2047h0M946.3 2054.2h0M845.6 1956.5h0M914.7 1977.8h0M851.5 1897.9h0M814.9 1891.4h0M933.2 2011.9h0M855.1 1951.3h0M891.4 2001.4h0M820.4 1909.9h0M844 1921.5h0M921.9 1994.9h0M916.7 1974.8h0M831.5 1976.3h0M899.4 1982.6h0M907.8 1976.2h0M830.4 1985.3h0M945.2 2024.8h0M908.1 2008.5h0M900.2 2059h0M865.6 1928.5h0M909.7 1944.4h0M873.7 1944.4h0M945.9 2059.6h0M838.1 1939.8h0M845.9 1928.7h0M844.9 1952.1h0M917.4 2056.5h0M869.9 1960.4h0M914.2 2001.5h0M841.3 1992.2h0M812.4 1933h0M853.4 1927.2h0M947.1 2002.2h0M830.7 1972.9h0M870.5 2002.2h0M930 1987.5h0M944.2 2035.4h0M829.2 1949.9h0M905.4 1964.5h0M914.5 1994.6h0M842.4 1913.9h0M830.6 1913.2h0M923.8 2046.7h0M921.7 2074h0M874.1 1938.7h0M830.6 1945.6h0M912.1 1970.7h0M864.1 1984.1h0M849.1 1993.7h0M873.6 2012.2h0M832.5 1954.5h0M843.7 1931.9h0M833.2 1876.4h0M814.7 1901.2h0M945.6 2013.5h0M871.9 1894.4h0M874.1 1984.8h0M937.7 2058.6h0M851.9 2022.2h0M945 1996.5h0M830.7 1874.2h0M855.7 1990.8h0M846 2003.2h0M890.7 2007.4h0M841.1 1942.2h0M835.4 1995.9h0M925.3 2049.6h0M829.2 1909.2h0M893.7 1997.4h0M914.1 2019.4h0M892.1 1999.6h0M916.2 2032.5h0M944.4 2007.4h0M842.5 1991h0M878.3 1941.9h0M898.8 1983.9h0M889.5 2016.4h0M870.8 1961h0M831.8 1889.2h0M901.7 1983.9h0M939.8 1992.7h0M827 1896.6h0M938 2087.9h0M931.4 2015.3h0M890.7 1978.9h0M880.5 1981.9h0M914.6 2024.7h0M886 1916.1h0M948.6 2023.9h0M872.6 1964.1h0M889.4 2001h0M813.8 1897.5h0M916 2030.8h0M893.1 2078.5h0M830 1873.2h0M842.9 1938.6h0M950.2 2044h0M897.2 2008.5h0M909.2 1936h0M839.6 1888.3h0M816.9 1895.9h0M868.2 1944.3h0M868.1 1972.9h0M911.5 1981.5h0M893.3 1983.8h0M854.2 1978.7h0M911.7 2050.9h0M863.6 1986.8h0M859.6 1987.8h0M890.8 2000h0M816.8 1922.9h0M930.1 2043h0M842.8 1934.7h0M872.6 1974.4h0M950.3 2010.5h0M823.4 1945.5h0M898.3 1992.7h0M952.5 2024.3h0M950.1 2047.3h0M923.2 2006.7h0M944.6 2040.7h0M923 2053.8h0M894.2 2040.4h0M875.8 1945.7h0M834.7 1927.5h0M848.4 2040.3h0M941.4 2054.7h0M854.3 1906.2h0M810.3 1947.4h0M950.6 2063.7h0M951.1 2020.2h0M864 2006.6h0M909.6 1963.9h0M852 1978.4h0M848.7 1972.5h0M838.2 1909.8h0M841.7 1930.9h0M938.6 2041.3h0M811.5 1915.3h0M891 2053h0M813.9 1925.3h0M878.9 1936.9h0M841.8 1911.7h0M933 2100.8h0M946.7 2019.3h0M952.5 2013.1h0M870.8 1988.8h0M925.4 2037.2h0M876.2 1987.5h0M889.9 2034.3h0M810.7 1910.8h0M867 1961.1h0M886.1 1976.4h0M898 2018.7h0M899.1 1970.7h0M949.7 2063.3h0M859.7 1944.5h0M905.4 1990.2h0M909 1946.6h0M866.5 1942.2h0M844.2 1912h0M824.8 1914.8h0M851.5 1949.5h0M853.7 1927.1h0M952.9 2052.7h0M887.2 1955.6h0M890.4 1987.5h0M929.4 1991.2h0M861.6 1945.6h0M837.3 1944.8h0M851.8 1975.4h0M816.1 1888.2h0M826.9 1961.1h0M920.9 1974.5h0M873.2 1975h0M926.5 2019.9h0M890.5 1981.9h0M848.9 1955.3h0M843 1908.3h0M815.1 1935.8h0M847 1951.6h0M946.5 2059.6h0M873.5 1972.3h0M909.8 2017.2h0M822.5 1935.7h0M849.6 1961.1h0M901 2012h0M849.4 1944.9h0M940.4 2009.8h0M820.7 1913.7h0M818.4 1936.5h0M818.6 1972.2h0M883.8 1982.3h0M852.2 1954.9h0M870.7 1911.7h0M909.6 1962.8h0M873.7 1934.9h0M877.5 2010.1h0M946.3 1989.1h0M907.7 1987.8h0M880.8 1921.9h0M898 2003.1h0M956.4 2031.9h0M952.9 2061.2h0M929.5 2004.4h0M836.3 1929.1h0M871.1 1923h0M847.6 1974.3h0M880.5 1958.8h0M906.7 1989.1h0M914.2 2012.6h0M815.7 1943.7h0M879.2 1953.6h0M896.4 1964.8h0M898.8 2012.2h0M884.4 1986.1h0M945.6 2021.8h0M848.2 1911.1h0M829.5 1898.6h0M867.7 1903.7h0M822.6 1925.4h0M923.1 2073h0M868.8 1979.4h0M813.6 1899.3h0M840.1 1993h0M822.8 1899.3h0M852.1 1919.8h0M813.8 1938.6h0M945.2 2007.2h0M814.7 1915.6h0M893.8 2062.3h0M936 2016.9h0M938.1 2036.3h0M855.7 1943.6h0M895.4 1977.6h0M820 1942.5h0M936.9 2026.2h0M879 1943.6h0M938 2075.1h0M844.3 1995.6h0M942.7 2063.3h0M884.5 1969.2h0M949.8 2051.8h0M881.8 1973.9h0M906.9 2026.4h0M944.8 2013.9h0M926.9 2021.1h0M911.3 2032h0M834.2 1938.6h0M825.8 1960.3h0M943.2 2099.3h0M884 1980.8h0M919.4 2001h0M886.4 1953h0M828.8 1939.2h0M862.4 1985.2h0M906.7 1997.5h0M938.3 2070.5h0M924.7 2077.2h0M838.7 1913.1h0M881.6 2008.3h0M843.6 1884.2h0M880.8 1969.7h0M845.8 1948.6h0M918.8 1994.2h0M893.8 1964.2h0M887.4 1982.5h0M918.8 2024.9h0M923.3 1969.8h0M931.4 2058.7h0M911.5 2032.5h0M948.1 1980.3h0M918.1 2028.4h0M824.6 1922.2h0M917.3 2000.2h0M859.8 1931.3h0M928.8 2050h0M904 1979.6h0M837.3 2003.6h0M927.6 1983.1h0M900.4 1959.6h0M954.5 2028.6h0M896.7 1959.5h0M893.2 1995.4h0M927.2 2056.5h0M930 2084h0M884.1 1970.7h0M868 1937.5h0M948.3 1988.4h0M919.7 1995.6h0M816.7 1940.8h0M924.5 1993.8h0M817.9 1940.4h0M882.7 2001.3h0M919 1997.4h0M921.3 1995.4h0M846.7 1905.5h0M885.6 1940.4h0M862.1 1994.7h0M860.1 1923.2h0M905.3 2009.8h0M939.7 2062.9h0M878 1976.2h0M879.1 1946.4h0M844.9 1968.6h0M867.8 1906.4h0M866.5 1954.8h0M911.3 2023.2h0M855.9 1986.6h0M876.5 1987.2h0M954.9 2020.5h0M952.5 2050.4h0M915.8 1971.3h0M843.1 1958.8h0M832.5 1884.4h0M825.6 1945.2h0M879.9 1994.5h0M860.6 1997.9h0M907.7 2003h0M866.2 1914.2h0M821.7 1945.5h0M928.4 2076.4h0M863.7 1938.6h0M889.1 1980.1h0M863.8 1922h0M915.9 1968.1h0M892.6 2007.9h0M827.2 1906.3h0M834.6 1945.8h0M887 1976.9h0M883.2 1939.4h0M841.5 2000.6h0M811.3 1875.8h0M866.2 1926.6h0M868.6 1938.1h0M926.1 2047.6h0M936.6 2032.7h0M877.5 2012.8h0M829.4 1932.8h0M955.3 2011.1h0M943.4 2057.3h0M826.2 1920h0M928.8 2071.5h0M835.8 1978.2h0M913.4 2016.9h0M937.3 2047.2h0M925 2052.2h0M843.2 1937.2h0M878.1 1934.3h0M856 1960.1h0M850.1 1993.4h0M837.8 1968.6h0M892.3 1974.8h0M929 2022.5h0M949.7 2015.2h0M946.7 2043.8h0M931.8 2009.5h0M904.2 2031.3h0M912.4 2008.2h0M889.9 2064.8h0M932.7 2017.3h0M953.8 2007.5h0M810.5 1959.3h0M927.1 2062.2h0M874.8 1984.8h0M820.7 1892.1h0M842.9 1893.1h0M846.1 1958.9h0M812.8 1882.3h0M855.1 1986.3h0M852.5 1945.8h0M876.2 2014.4h0M866.5 1907.5h0M907.7 2008.1h0M864.6 1952.4h0M903 2004.5h0M935.2 2048.1h0M837.4 1956.8h0M821.7 1938.9h0M852 1903.8h0M852 1928.6h0M885.6 1963.5h0M826.1 1978.5h0M840.8 1945.1h0M891.4 2019.7h0M848.9 1998.5h0M904 2009.9h0M952.9 1988.4h0M876.8 1934.6h0M852.4 1945.6h0M884.6 1994.8h0M919.6 2013.7h0M857.4 1929.2h0M915.5 1989.3h0M882.8 1965h0M810.8 1939.1h0M824.5 1948.3h0M868.4 1944.2h0M840.4 1965.7h0M951.1 2000.4h0M898.6 2020.7h0M823.2 1875.3h0M925.8 2023.9h0M917.8 2001.7h0M870.1 1938.3h0M884.7 2040.3h0M825.1 1951.6h0M892.8 2000.8h0M949.7 2045.1h0M901 1993h0M892.8 1947.2h0M938 2076.3h0M842.2 1962.4h0M897.5 1931.1h0M844.3 2007.2h0M849.6 2015.7h0M873 1931.8h0M864.8 1947.9h0M915.9 1985.8h0M843.3 1954.1h0M944.1 2022h0M936.4 2062.4h0M944.1 2037.2h0M930.1 2017h0M895.1 2072h0M846.3 1936.1h0M830.9 1901.7h0M934.8 2034.1h0M872.7 1933.4h0M910.2 1980.7h0M887.3 2011.1h0M949.4 2045.7h0M880.9 1989.6h0M954.4 2040h0M904.2 1997h0M830.4 1943.5h0M883.4 1998.4h0M955.7 2059.8h0M941.7 2031.7h0M911.1 2066.1h0M850.2 1999h0M953.5 2069.9h0M885.3 2039.2h0M885.6 2002.2h0M921.4 2054.2h0M891.6 2054.8h0M942.6 2031.9h0M829.7 1933.5h0M939.5 1992.5h0M859.3 1884.9h0M847.6 1972h0M864.6 1979.6h0M881.8 1934.9h0M812.4 1918h0M845 1907.8h0M866.7 1992.9h0M926.9 2077.2h0M951.6 2025.6h0M872.1 1939.7h0M956 2059.6h0M832 1938.9h0M835.1 1931.4h0M820 1977h0M937.2 2021.2h0M825 1945.4h0M887 1965.2h0M825.9 1971.5h0M862.2 1936.1h0M883.6 1980.4h0M933.3 2022.4h0M902.6 1987.5h0M822.3 1937.9h0M887.8 1996.5h0M836.1 1936.7h0M941.3 2057.8h0M831.4 1906.7h0M876 1907.3h0M895.5 1964.8h0M910.6 2054.3h0M821.5 1928h0M880.6 1954.9h0M837 1882.6h0M917.6 2013.9h0M857.8 1994.4h0M944.1 2046.5h0M891 1950.7h0M903.6 1955.6h0M949.1 2071.1h0M928.4 2014.5h0M830.9 1932.7h0M895.2 2065.2h0M936.4 2046.1h0M835.2 1905h0M906.5 2027.1h0M850.5 1990.2h0M868.9 1924.8h0M900.6 1954.8h0M819 1969.2h0M943 2003.2h0M899.9 1951h0M919.4 1959h0M903.1 2005.4h0M915.2 2006.8h0M934.2 2020.4h0M874.8 1978.9h0M933.4 2038.7h0M839.7 1922h0M840.6 1943.8h0M940.3 2013.7h0M870.4 1968.4h0M830.6 1975.1h0M939 2082.5h0M865.6 1954.8h0M815.8 1938.2h0M871.8 2011.8h0M935.8 1983.7h0M916.5 1967.8h0M915.1 1987.6h0M898.3 2024.3h0M941.8 2035.1h0M920.8 1958.4h0M852.1 1986.3h0M845.7 1900.5h0M934.3 1995h0M854.1 1879.7h0M907.4 2049.7h0M912.4 1955.3h0M933.2 2008.2h0M838.3 1903.4h0M816.3 1912.4h0M854.6 1961.3h0M836.8 2017.1h0M922.3 2030.6h0M952.6 2055.1h0M828.5 1911.1h0M920.9 2005.6h0M820 1918.8h0M950.4 2012.2h0M858.3 1949.3h0M947.8 2021.7h0M903 2049.2h0M819 1900.4h0M919.1 1997.2h0M940.6 2057.9h0M907.4 1988.3h0M905.2 2007.8h0M818.9 1928.9h0M835.4 1952.4h0M919.7 2005h0M927.2 2024.1h0M898.8 1944.7h0M830.6 1979.1h0M887.9 1918.6h0M837.6 1967.4h0M952.5 2043.6h0M856.6 1945.7h0M815.2 1957h0M925.8 2031.4h0M814.5 1894.9h0M942 2060.4h0M841 1880.7h0M949.9 2025.3h0M953.9 2031.6h0M912.4 2031h0M897.6 2075.9h0M903.4 2022.2h0M926.2 2030.8h0M812.1 1918.6h0M895.5 2016.1h0M830.3 1947h0M924.7 1988.5h0M943.9 2056h0M863.5 1946.6h0M926.5 1987.6h0M859.4 2031.8h0M902 1995.8h0M851.7 2025.2h0M872 1947h0M830.7 1867.6h0M835.5 1956h0M908.9 2053.7h0M915.2 2014h0M882.9 1955.4h0M810.8 1891h0M848.3 2000.9h0M926.6 2035.9h0M910.3 2035.1h0M842.6 1926h0M817.2 1897.6h0M825.6 1896.8h0M909.7 1946.5h0M936.6 2009h0M932.9 1985.3h0M897.4 1977.9h0M844.7 1945.5h0M822.7 1962.4h0M853 1983.6h0M892.6 2019.1h0M941.2 2014.9h0M932.3 2053.2h0M839.1 1993h0M819.6 1934h0M811.2 1931h0M813.9 1938.8h0M936.7 1972.5h0M820.9 1999.9h0M865 1960.2h0M860.7 1938.3h0M858.4 1908.4h0M832.1 1984.4h0M942.8 2072.8h0M815.7 1928.3h0M849.2 2007.3h0M881.8 1949h0M827.3 1936.5h0M871.5 1964.6h0M888.9 1976.3h0M928.9 2002.5h0M946.1 2017.7h0M924.6 2052.3h0M881 1974.1h0M876.1 1991.8h0M890.7 1953.4h0M885.5 2010.4h0M829.4 1915.3h0M836 1941h0M953.2 2045.8h0M891.5 2016.7h0M886.5 1951.2h0M843.1 1981.5h0M869.6 1930.9h0M872.2 1975.8h0M839.8 1905.7h0M880.2 1963.1h0M923.3 2046.1h0M861.3 1929.7h0M826.9 1914.3h0M924.6 2032.2h0M899.5 1940.4h0M835.7 1865.2h0M925 2024.2h0M896.7 1984.7h0M818.2 1912.4h0M934.1 2065.7h0M868.7 1955.8h0M912.7 1979.1h0M946.4 1970.6h0M849.9 1957.6h0M858.5 1973.6h0M825.2 1982.4h0M882.1 1966.1h0M818.5 1948.5h0M922.9 2008.4h0M840.1 1941.2h0M888.5 2014.8h0M851.8 1897.9h0M843.2 1919.9h0M829.4 1899.7h0M875.6 1960.8h0M864.1 1959.8h0M916.7 2022.3h0M903.1 1977.9h0M885.3 1940h0M838.9 1985.2h0M877.2 1944.3h0M848.4 1870.6h0M869.6 2023.5h0M927.9 2062.2h0M849.9 1997.9h0M844.4 1936.2h0M904.4 2030.8h0M869.8 1967.7h0M935.4 2024.1h0M874.1 1971.1h0M847.8 1914h0M941.2 2002.3h0M886.7 1945.8h0M914.2 2059.1h0M952.1 2022.1h0M861.3 1929.1h0M932.3 2105.6h0M940.3 2006.7h0M948.9 2039.1h0M839.8 1956.1h0M854.5 1977.8h0M871.3 1928h0M815.3 1943.6h0M860.2 1940.1h0M880.7 1973.2h0M942.8 1989.1h0M936.1 1968.5h0M882.5 1990.4h0M894.6 2004.3h0M933.6 2029.1h0M921.3 2034.5h0M889.1 1976.4h0M891.3 2006.9h0M894.2 1981h0M931.9 2020.3h0M860.5 1987.8h0M928.4 2018.1h0M879.6 1976.2h0M831.9 1951h0M865.9 1950.5h0M876.2 1984.5h0M942.3 2038h0M889.8 2047.3h0M949.9 2025.4h0M911.4 1992h0M831.8 1946.6h0M926.2 2011.9h0M834 1911.5h0M903.9 2021.8h0M956.2 2033h0M812.2 1797.2h0M814.1 1804h0M812.2 1812.9h0M811.9 1819.1h0M812.2 1826.6h0M812.3 1834.5h0M812.3 1842.5h0M813 1849.3h0M811.6 1856.6h0M855.1 1796.3h0M855.2 1804h0M858.4 1810.2h0M856.2 1817h0M856.7 1823.2h0M855.3 1829.6h0M855.6 1835.9h0M856.3 1842.5h0M857.4 1848.9h0M857 1855.7h0M857 1863.2h0M858 1869.8h0M855.9 1875.9h0M857.7 1881.7h0M875.2 1819h0M874.7 1826.9h0M875.8 1836.9h0M877.3 1845.2h0M874.9 1852.5h0M874.9 1862.2h0M877.6 1870.1h0M875.7 1878.2h0M877.3 1887.6h0M876.7 1896h0M836.3 1799.7h0M869.6 1796.2h0M901.1 1896.9h0M898.7 1905.6h0M898.8 1913.5h0M898.8 1919.9h0M911.5 1897.7h0M909.7 1904.4h0M911 1913.2h0M909.3 1921.3h0M919.4 1894.7h0M919.7 1906.8h0M918.2 1917.4h0M920.9 1927.5h0M920.4 1938.4h0M919.1 1949.6h0M947.9 1949.3h0M947.2 1952h0M893.2 2092h0M891.3 2100.2h0M892 2107.5h0M922.4 2092.1h0M922.5 2098.4h0M924.2 2106.2h0M938.4 2122.1h0M940.2 2128.7h0M939.3 2136.2h0M940.2 2141.2h0M939.6 2148.6h0M939.3 2154.2h0M954.7 2106.7h0M954.3 2114.9h0M846.4 2072.5h0M838.6 2051.4h0M861.7 2060.4h0M810.8 1962.6h0M819.4 2008.4h0M883.1 2062.7h0M903.2 2047.9h0M922.3 2132.5h0M940.6 2153.1h0M849.1 2034.6h0M848.2 2040.1h0M849.5 2047.8h0M861 2022h0M862.7 2030.1h0M862.3 2038.3h0M870.1 2030.5h0M1931 1907h0" fill="none" stroke-width="4.8"/>
</g>
<line x1="292.5" y1="233" x2="292.5" y2="713" stroke="#660066" stroke-width="3.5"/>
<line x1="292.5" y1="713" x2="292.5" y2="1195.5" stroke="#00698f" stroke-width="3.5"/>
<line x1="292.5" y1="1195.5" x2="292.5" y2="1681.5" stroke="#1a8f00" stroke-width="3.5"/>
<line x1="292.5" y1="1681.5" x2="292.5" y2="2165" stroke="#b30000" stroke-width="3.5"/>
<line x1="2941" y1="233" x2="2941" y2="713" stroke="#660066" stroke-width="3.5"/>
<line x1="2941" y1="713" x2="2941" y2="1195.5" stroke="#00698f" stroke-width="3.5"/>
<line x1="2941" y1="1195.5" x2="2941" y2="1681.5" stroke="#1a8f00" stroke-width="3.5"/>
<line x1="2941" y1="1681.5" x2="2941" y2="2165" stroke="#b30000" stroke-width="3.5"/>
<line x1="290.8" y1="233" x2="2942.8" y2="233" stroke="#262626" stroke-width="3.5"/>
<line x1="290.8" y1="2165" x2="2942.8" y2="2165" stroke="#262626" stroke-width="3.5"/>
<line x1="461.3" y1="233" x2="461.3" y2="260.5" stroke="#262626" stroke-width="3"/>
<line x1="461.3" y1="2165" x2="461.3" y2="2137.5" stroke="#262626" stroke-width="3"/>
<text x="461.3" y="2218" font-size="42" text-anchor="middle" fill="#262626" stroke="#262626" stroke-width="0.9">2014</text>
<line x1="666.4" y1="233" x2="666.4" y2="260.5" stroke="#262626" stroke-width="3"/>
<line x1="666.4" y1="2165" x2="666.4" y2="2137.5" stroke="#262626" stroke-width="3"/>
<text x="666.4" y="2218" font-size="42" text-anchor="middle" fill="#262626" stroke="#262626" stroke-width="0.9">2015</text>
<line x1="871.4" y1="233" x2="871.4" y2="260.5" stroke="#262626" stroke-width="3"/>
<line x1="871.4" y1="2165" x2="871.4" y2="2137.5" stroke="#262626" stroke-width="3"/>
<text x="871.4" y="2218" font-size="42" text-anchor="middle" fill="#262626" stroke="#262626" stroke-width="0.9">2016</text>
<line x1="1077" y1="233" x2="1077" y2="260.5" stroke="#262626" stroke-width="3"/>
<line x1="1077" y1="2165" x2="1077" y2="2137.5" stroke="#262626" stroke-width="3"/>
<text x="1077" y="2218" font-size="42" text-anchor="middle" fill="#262626" stroke="#262626" stroke-width="0.9">2017</text>
<line x1="1282.1" y1="233" x2="1282.1" y2="260.5" stroke="#262626" stroke-width="3"/>
<line x1="1282.1" y1="2165" x2="1282.1" y2="2137.5" stroke="#262626" stroke-width="3"/>
<text x="1282.1" y="2218" font-size="42" text-anchor="middle" fill="#262626" stroke="#262626" stroke-width="0.9">2018</text>
<line x1="1487.1" y1="233" x2="1487.1" y2="260.5" stroke="#262626" stroke-width="3"/>
<line x1="1487.1" y1="2165" x2="1487.1" y2="2137.5" stroke="#262626" stroke-width="3"/>
<text x="1487.1" y="2218" font-size="42" text-anchor="middle" fill="#262626" stroke="#262626" stroke-width="0.9">2019</text>
<line x1="1692.2" y1="233" x2="1692.2" y2="260.5" stroke="#262626" stroke-width="3"/>
<line x1="1692.2" y1="2165" x2="1692.2" y2="2137.5" stroke="#262626" stroke-width="3"/>
<text x="1692.2" y="2218" font-size="42" text-anchor="middle" fill="#262626" stroke="#262626" stroke-width="0.9">2020</text>
<line x1="1897.8" y1="233" x2="1897.8" y2="260.5" stroke="#262626" stroke-width="3"/>
<line x1="1897.8" y1="2165" x2="1897.8" y2="2137.5" stroke="#262626" stroke-width="3"/>
<text x="1897.8" y="2218" font-size="42" text-anchor="middle" fill="#262626" stroke="#262626" stroke-width="0.9">2021</text>
<line x1="2102.9" y1="233" x2="2102.9" y2="260.5" stroke="#262626" stroke-width="3"/>
<line x1="2102.9" y1="2165" x2="2102.9" y2="2137.5" stroke="#262626" stroke-width="3"/>
<text x="2102.9" y="2218" font-size="42" text-anchor="middle" fill="#262626" stroke="#262626" stroke-width="0.9">2022</text>
<line x1="2307.9" y1="233" x2="2307.9" y2="260.5" stroke="#262626" stroke-width="3"/>
<line x1="2307.9" y1="2165" x2="2307.9" y2="2137.5" stroke="#262626" stroke-width="3"/>
<text x="2307.9" y="2218" font-size="42" text-anchor="middle" fill="#262626" stroke="#262626" stroke-width="0.9">2023</text>
<line x1="2513" y1="233" x2="2513" y2="260.5" stroke="#262626" stroke-width="3"/>
<line x1="2513" y1="2165" x2="2513" y2="2137.5" stroke="#262626" stroke-width="3"/>
<text x="2513" y="2218" font-size="42" text-anchor="middle" fill="#262626" stroke="#262626" stroke-width="0.9">2024</text>
<line x1="2718.6" y1="233" x2="2718.6" y2="260.5" stroke="#262626" stroke-width="3"/>
<line x1="2718.6" y1="2165" x2="2718.6" y2="2137.5" stroke="#262626" stroke-width="3"/>
<text x="2718.6" y="2218" font-size="42" text-anchor="middle" fill="#262626" stroke="#262626" stroke-width="0.9">2025</text>
<line x1="292.5" y1="362.3" x2="320" y2="362.3" stroke="#660066" stroke-width="3"/>
<line x1="2941" y1="362.3" x2="2913.5" y2="362.3" stroke="#660066" stroke-width="3"/>
<text x="275.5" y="372.8" font-size="42" text-anchor="end" fill="#660066" stroke="#660066" stroke-width="0.9">0.3</text>
<line x1="292.5" y1="533.1" x2="320" y2="533.1" stroke="#660066" stroke-width="3"/>
<line x1="2941" y1="533.1" x2="2913.5" y2="533.1" stroke="#660066" stroke-width="3"/>
<text x="275.5" y="543.6" font-size="42" text-anchor="end" fill="#660066" stroke="#660066" stroke-width="0.9">0.2</text>
<line x1="292.5" y1="704" x2="320" y2="704" stroke="#660066" stroke-width="3"/>
<line x1="2941" y1="704" x2="2913.5" y2="704" stroke="#660066" stroke-width="3"/>
<text x="275.5" y="714.5" font-size="42" text-anchor="end" fill="#660066" stroke="#660066" stroke-width="0.9">0.1</text>
<line x1="292.5" y1="805.4" x2="320" y2="805.4" stroke="#00698f" stroke-width="3"/>
<line x1="2941" y1="805.4" x2="2913.5" y2="805.4" stroke="#00698f" stroke-width="3"/>
<text x="2959" y="815.9" font-size="42" fill="#00698f" stroke="#00698f" stroke-width="0.9">26</text>
<line x1="292.5" y1="901.6" x2="320" y2="901.6" stroke="#00698f" stroke-width="3"/>
<line x1="2941" y1="901.6" x2="2913.5" y2="901.6" stroke="#00698f" stroke-width="3"/>
<text x="2959" y="912.1" font-size="42" fill="#00698f" stroke="#00698f" stroke-width="0.9">24</text>
<line x1="292.5" y1="997.6" x2="320" y2="997.6" stroke="#00698f" stroke-width="3"/>
<line x1="2941" y1="997.6" x2="2913.5" y2="997.6" stroke="#00698f" stroke-width="3"/>
<text x="2959" y="1008.1" font-size="42" fill="#00698f" stroke="#00698f" stroke-width="0.9">22</text>
<line x1="292.5" y1="1094" x2="320" y2="1094" stroke="#00698f" stroke-width="3"/>
<line x1="2941" y1="1094" x2="2913.5" y2="1094" stroke="#00698f" stroke-width="3"/>
<text x="2959" y="1104.5" font-size="42" fill="#00698f" stroke="#00698f" stroke-width="0.9">20</text>
<line x1="292.5" y1="1190.4" x2="320" y2="1190.4" stroke="#00698f" stroke-width="3"/>
<line x1="2941" y1="1190.4" x2="2913.5" y2="1190.4" stroke="#00698f" stroke-width="3"/>
<text x="2959" y="1200.9" font-size="42" fill="#00698f" stroke="#00698f" stroke-width="0.9">18</text>
<line x1="292.5" y1="1291" x2="320" y2="1291" stroke="#1a8f00" stroke-width="3"/>
<line x1="2941" y1="1291" x2="2913.5" y2="1291" stroke="#1a8f00" stroke-width="3"/>
<text x="275.5" y="1301.5" font-size="42" text-anchor="end" fill="#1a8f00" stroke="#1a8f00" stroke-width="0.9">34.8</text>
<line x1="292.5" y1="1416.3" x2="320" y2="1416.3" stroke="#1a8f00" stroke-width="3"/>
<line x1="2941" y1="1416.3" x2="2913.5" y2="1416.3" stroke="#1a8f00" stroke-width="3"/>
<text x="275.5" y="1426.8" font-size="42" text-anchor="end" fill="#1a8f00" stroke="#1a8f00" stroke-width="0.9">34.6</text>
<line x1="292.5" y1="1540.4" x2="320" y2="1540.4" stroke="#1a8f00" stroke-width="3"/>
<line x1="2941" y1="1540.4" x2="2913.5" y2="1540.4" stroke="#1a8f00" stroke-width="3"/>
<text x="275.5" y="1550.9" font-size="42" text-anchor="end" fill="#1a8f00" stroke="#1a8f00" stroke-width="0.9">34.4</text>
<line x1="292.5" y1="1664" x2="320" y2="1664" stroke="#1a8f00" stroke-width="3"/>
<line x1="2941" y1="1664" x2="2913.5" y2="1664" stroke="#1a8f00" stroke-width="3"/>
<text x="275.5" y="1674.5" font-size="42" text-anchor="end" fill="#1a8f00" stroke="#1a8f00" stroke-width="0.9">34.2</text>
<line x1="292.5" y1="1697.4" x2="320" y2="1697.4" stroke="#b30000" stroke-width="3"/>
<line x1="2941" y1="1697.4" x2="2913.5" y2="1697.4" stroke="#b30000" stroke-width="3"/>
<text x="2959" y="1707.9" font-size="42" fill="#b30000" stroke="#b30000" stroke-width="0.9">4.4</text>
<line x1="292.5" y1="1789.8" x2="320" y2="1789.8" stroke="#b30000" stroke-width="3"/>
<line x1="2941" y1="1789.8" x2="2913.5" y2="1789.8" stroke="#b30000" stroke-width="3"/>
<text x="2959" y="1800.3" font-size="42" fill="#b30000" stroke="#b30000" stroke-width="0.9">4.2</text>
<line x1="292.5" y1="1883" x2="320" y2="1883" stroke="#b30000" stroke-width="3"/>
<line x1="2941" y1="1883" x2="2913.5" y2="1883" stroke="#b30000" stroke-width="3"/>
<text x="2959" y="1893.5" font-size="42" fill="#b30000" stroke="#b30000" stroke-width="0.9">4</text>
<line x1="292.5" y1="1976.2" x2="320" y2="1976.2" stroke="#b30000" stroke-width="3"/>
<line x1="2941" y1="1976.2" x2="2913.5" y2="1976.2" stroke="#b30000" stroke-width="3"/>
<text x="2959" y="1986.7" font-size="42" fill="#b30000" stroke="#b30000" stroke-width="0.9">3.8</text>
<line x1="292.5" y1="2069.4" x2="320" y2="2069.4" stroke="#b30000" stroke-width="3"/>
<line x1="2941" y1="2069.4" x2="2913.5" y2="2069.4" stroke="#b30000" stroke-width="3"/>
<text x="2959" y="2079.9" font-size="42" fill="#b30000" stroke="#b30000" stroke-width="0.9">3.6</text>
<text x="2959" y="2173" font-size="42" fill="#b30000" stroke="#b30000" stroke-width="0.9">3.4</text>
<text transform="translate(138 475) rotate(-90)" font-size="48" text-anchor="middle" fill="#660066" textLength="660" lengthAdjust="spacingAndGlyphs" stroke="#660066" stroke-width="0.5">Oxygen Concentration Corrected</text>
<text transform="translate(193.5 474.3) rotate(-90)" font-size="48" text-anchor="middle" fill="#660066" textLength="115" lengthAdjust="spacingAndGlyphs" stroke="#660066" stroke-width="0.5">(ml/l)</text>
<text transform="translate(174 1441.5) rotate(-90)" font-size="48" text-anchor="middle" fill="#1a8f00" textLength="485" lengthAdjust="spacingAndGlyphs" stroke="#1a8f00" stroke-width="0.5">Absolute Salinity (g/kg)</text>
<text transform="translate(3051 957) rotate(-90)" font-size="48" text-anchor="middle" fill="#00698f" textLength="596" lengthAdjust="spacingAndGlyphs" stroke="#00698f" stroke-width="0.5">Sigma-theta (0 dbar) (kg/m<tspan font-size="34" dy="-17">3</tspan><tspan dy="17">)</tspan></text>
<text transform="translate(3064 1926) rotate(-90)" font-size="48" text-anchor="middle" fill="#b30000" textLength="336" lengthAdjust="spacingAndGlyphs" stroke="#b30000" stroke-width="0.5">Temperature (C)</text>
<text x="2941" y="94.2" font-size="48" text-anchor="end" fill="#000" textLength="1192.3" lengthAdjust="spacingAndGlyphs" stroke="#000" stroke-width="0.85">Oxygen, Sigma-theta, Salinity and Sea Water Temperature</text>
<text x="1314.3" y="148.7" font-size="48" fill="#000" textLength="320.5" lengthAdjust="spacingAndGlyphs" stroke="#000" stroke-width="0.85">Barkley Canyon</text>
<text x="1662.4" y="160.9" font-size="76" text-anchor="middle" fill="#000" stroke="#000" stroke-width="0.85">&#8226;</text>
<text x="1692.5" y="148.7" font-size="48" fill="#000" textLength="517" lengthAdjust="spacingAndGlyphs" stroke="#000" stroke-width="0.85">Barkley Canyon Hydrates</text>
<text x="2238.4" y="160.9" font-size="76" text-anchor="middle" fill="#000" stroke="#000" stroke-width="0.85">&#8226;</text>
<text x="2266" y="148.7" font-size="48" fill="#000" textLength="205.5" lengthAdjust="spacingAndGlyphs" stroke="#000" stroke-width="0.85">48.3121&#176;N</text>
<text x="2495.9" y="160.9" font-size="76" text-anchor="middle" fill="#000" stroke="#000" stroke-width="0.85">&#8226;</text>
<text x="2523.2" y="148.7" font-size="48" fill="#000" textLength="243.8" lengthAdjust="spacingAndGlyphs" stroke="#000" stroke-width="0.85">126.0658&#176;W</text>
<text x="2791.8" y="160.9" font-size="76" text-anchor="middle" fill="#000" stroke="#000" stroke-width="0.85">&#8226;</text>
<text x="2819.8" y="148.7" font-size="48" fill="#000" textLength="121.5" lengthAdjust="spacingAndGlyphs" stroke="#000" stroke-width="0.85">871 m</text>
<text x="2058.5" y="203.5" font-size="48" fill="#000" textLength="392.5" lengthAdjust="spacingAndGlyphs" stroke="#000" stroke-width="0.85">State of Ocean Plot</text>
<text x="2480.8" y="215.7" font-size="76" text-anchor="middle" fill="#000" stroke="#000" stroke-width="0.85">&#8226;</text>
<text x="2507.4" y="203.5" font-size="48" fill="#000" textLength="433.6" lengthAdjust="spacingAndGlyphs" stroke="#000" stroke-width="0.85">1 Hour Average Data</text>
<text x="1616" y="2276" font-size="48" text-anchor="middle" fill="#000" textLength="384" lengthAdjust="spacingAndGlyphs" stroke="#000" stroke-width="0.85">Time (years, UTC)</text>
<text transform="translate(305.5 94.5) scale(0.87 1)" font-size="46" font-weight="bold" fill="#139dc2" textLength="173.3" lengthAdjust="spacing" style="font-family:'Liberation Sans','DejaVu Sans',sans-serif" stroke="#139dc2" stroke-width="1.3">OCEAN</text>
<text transform="translate(476.5 94.5) scale(0.87 1)" font-size="46" font-weight="bold" fill="#139dc2" textLength="294.3" lengthAdjust="spacing" style="font-family:'Liberation Sans','DejaVu Sans',sans-serif" stroke="#139dc2" stroke-width="1.3">NETWORKS</text>
<text transform="translate(748.5 94.5) scale(0.87 1)" font-size="46" font-weight="bold" fill="#139dc2" textLength="220.7" lengthAdjust="spacing" style="font-family:'Liberation Sans','DejaVu Sans',sans-serif" stroke="#139dc2" stroke-width="1.3">CANADA</text>
<text x="161.5" y="2356" font-size="32" fill="#000" textLength="2313.5" lengthAdjust="spacingAndGlyphs" stroke="#000" stroke-width="0.7">Sample period: 48.9 minutes (average). Comments: Clean Data (major quality failures (QAQC 3,4,6) excluded): all data plotted pass QAQC. QAQC testing complete,</text>
<text x="161.5" y="2392.5" font-size="32" fill="#000" textLength="1208.7" lengthAdjust="spacingAndGlyphs" stroke="#000" stroke-width="0.7">manual QAQC screening may be needed for recent data. See documentation for details.</text>
<text x="2565" y="2376.5" font-size="32" font-style="italic" fill="#000" textLength="585" lengthAdjust="spacingAndGlyphs" stroke="#000" stroke-width="0.7">Plot generated 25-Nov-2025 04:04:29 UTC</text>
</svg></body></html>
